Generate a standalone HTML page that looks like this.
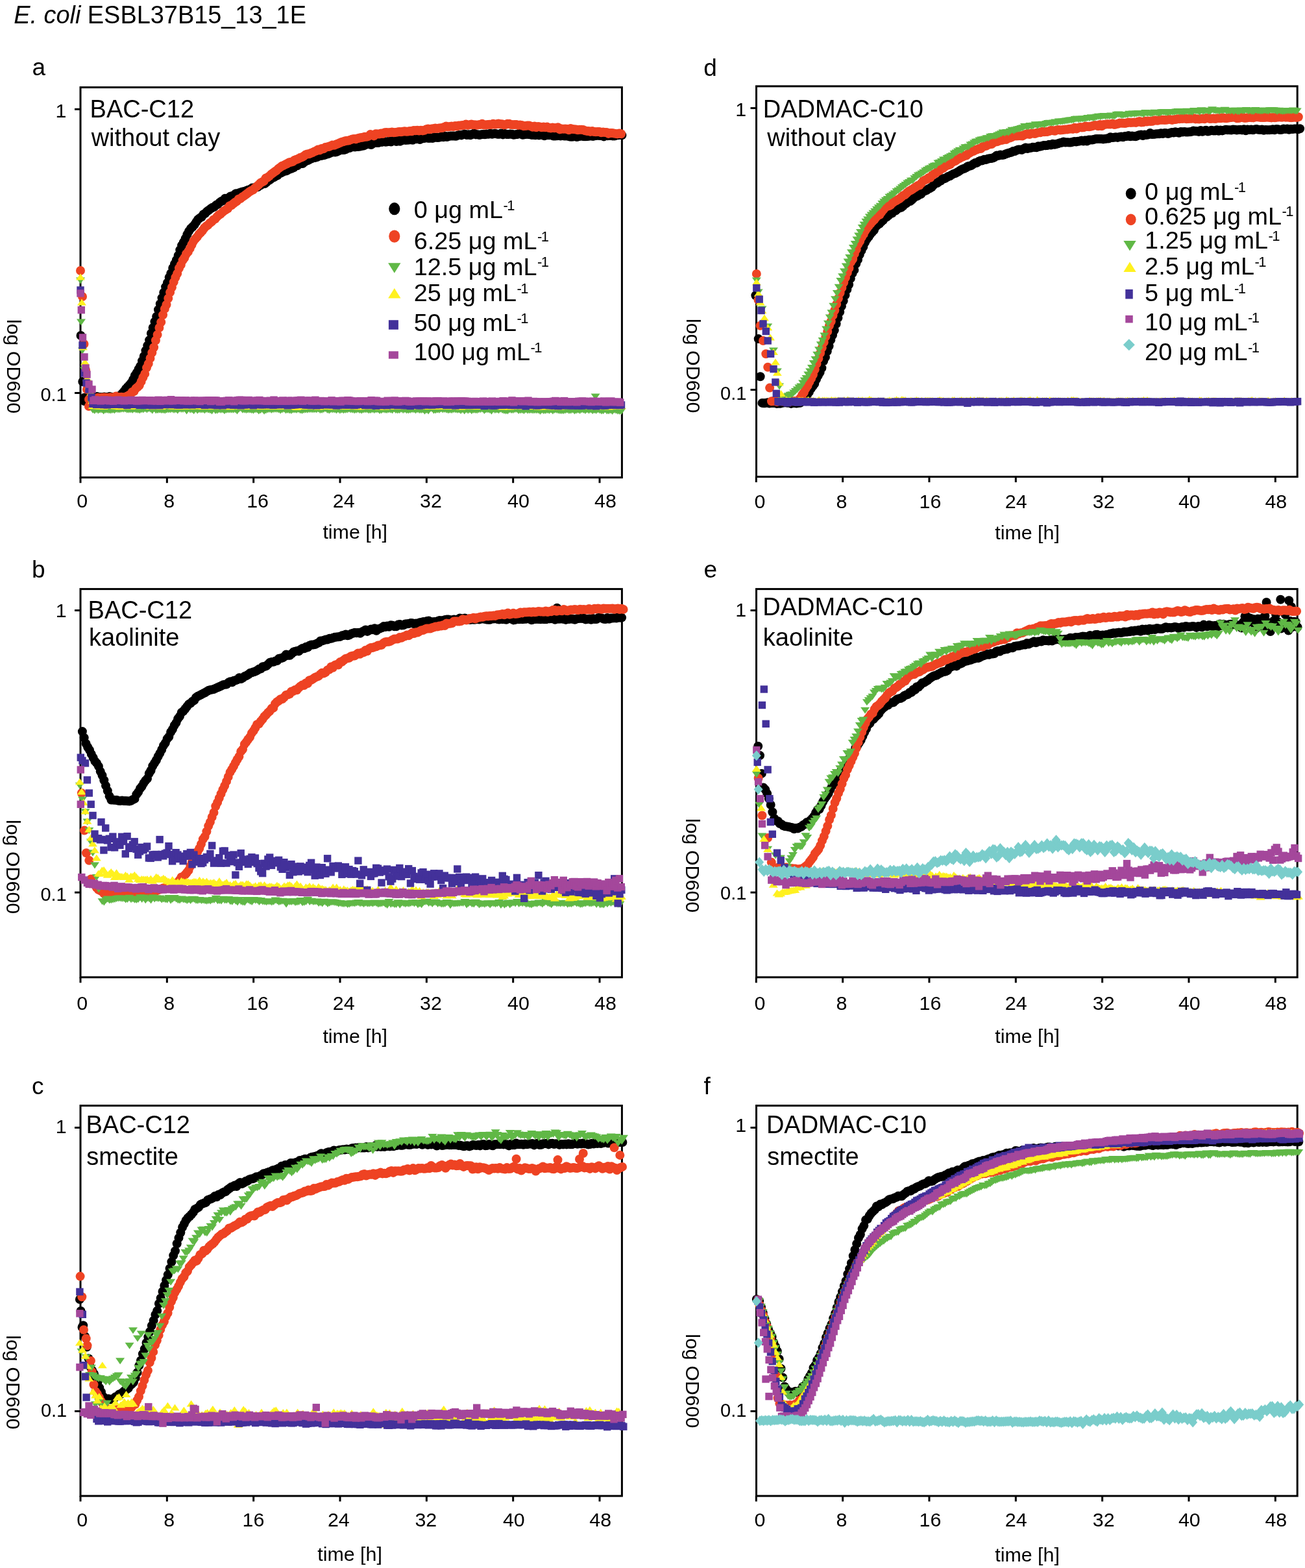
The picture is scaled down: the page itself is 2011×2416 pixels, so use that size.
<!DOCTYPE html><html><head><meta charset="utf-8"><style>html,body{margin:0;padding:0;background:#fff}svg{display:block}text{font-family:"Liberation Sans", Arial, sans-serif;fill:#000}</style></head><body>
<svg width="2011" height="2416" viewBox="0 0 2011 2416" xmlns="http://www.w3.org/2000/svg">
<text x="21.13" y="36" font-size="37.9"><tspan font-style="italic">E. coli</tspan> ESBL37B15_13_1E</text>
<defs><marker id="mok" markerUnits="userSpaceOnUse" markerWidth="20" markerHeight="20" refX="0" refY="0" overflow="visible" viewBox="-10 -10 20 20"><circle cx="0" cy="0" r="7" fill="#000000"/></marker><marker id="mor" markerUnits="userSpaceOnUse" markerWidth="20" markerHeight="20" refX="0" refY="0" overflow="visible" viewBox="-10 -10 20 20"><circle cx="0" cy="0" r="7" fill="#ee4323"/></marker><marker id="mdg" markerUnits="userSpaceOnUse" markerWidth="20" markerHeight="20" refX="0" refY="0" overflow="visible" viewBox="-10 -10 20 20"><path d="M-7,-4.6L7,-4.6L0,5.4Z" fill="#60b846"/></marker><marker id="muy" markerUnits="userSpaceOnUse" markerWidth="20" markerHeight="20" refX="0" refY="0" overflow="visible" viewBox="-10 -10 20 20"><path d="M-7,4.6L7,4.6L0,-5.4Z" fill="#fff11f"/></marker><marker id="msb" markerUnits="userSpaceOnUse" markerWidth="20" markerHeight="20" refX="0" refY="0" overflow="visible" viewBox="-10 -10 20 20"><rect x="-5.7" y="-5.7" width="11.4" height="11.4" fill="#43319a"/></marker><marker id="msm" markerUnits="userSpaceOnUse" markerWidth="20" markerHeight="20" refX="0" refY="0" overflow="visible" viewBox="-10 -10 20 20"><rect x="-5.7" y="-5.7" width="11.4" height="11.4" fill="#a4479b"/></marker><marker id="mDc" markerUnits="userSpaceOnUse" markerWidth="20" markerHeight="20" refX="0" refY="0" overflow="visible" viewBox="-10 -10 20 20"><path d="M0,-8L7,0L0,8L-7,0Z" fill="#7acdcb"/></marker></defs>
<text x="49.43" y="116.4" font-size="37">a</text>
<rect x="124" y="134.6" width="834.4" height="601.1" fill="none" stroke="#000" stroke-width="3"/>
<g><path d="M124.5 517.0 127.3 588.0 130.0 618.0 130.0 612.8 132.8 612.9 135.6 612.0 138.3 611.5 141.1 611.3 143.9 612.0 146.7 611.4 149.5 611.1 152.2 612.1 155.0 612.1 157.8 612.3 160.6 611.5 163.4 612.0 166.1 612.0 168.9 611.1 171.7 612.3 174.5 612.2 177.3 613.4 180.0 611.4 182.8 610.2 185.6 610.0 188.4 606.1 191.2 603.2 193.9 599.1 196.7 596.1 199.5 593.3 202.3 589.8 205.1 584.6 207.8 578.7 210.6 574.4 213.4 568.9 216.2 564.1 219.0 556.3 221.7 548.9 224.5 540.2 227.3 532.4 230.1 524.1 232.9 513.8 235.6 504.9 238.4 495.6 241.2 487.8 244.0 477.2 246.8 468.3 249.5 459.1 252.3 450.7 255.1 442.1 257.9 435.8 260.7 427.5 263.4 421.2 266.2 413.0 269.0 406.6 271.8 400.7 274.6 393.8 277.3 385.3 280.1 378.3 282.9 373.1 285.7 367.5 288.5 361.2 291.2 356.1 294.0 352.0 296.8 349.5 299.6 346.4 302.4 342.1 305.1 338.1 307.9 335.9 310.7 334.3 313.5 330.3 316.3 328.8 319.0 325.8 321.8 323.8 324.6 321.6 327.4 319.8 330.2 318.7 332.9 316.1 335.7 314.7 338.5 311.9 341.3 310.0 344.1 309.1 346.8 305.8 349.6 306.0 352.4 304.8 355.2 302.5 358.0 302.2 360.7 300.5 363.5 298.2 366.3 298.5 369.1 296.9 371.9 296.1 374.6 295.2 377.4 295.1 380.2 293.5 383.0 292.5 385.8 291.8 388.5 289.6 391.3 290.5 394.1 288.2 396.9 288.2 399.7 286.3 402.4 284.8 405.2 283.4 408.0 283.1 410.8 280.7 413.6 278.2 416.3 276.7 419.1 274.4 421.9 273.4 424.7 271.4 427.5 270.4 430.2 267.5 433.0 266.6 435.8 264.9 438.6 263.7 441.4 263.2 444.1 261.6 446.9 260.5 449.7 259.6 452.5 258.2 455.3 255.4 458.0 255.2 460.8 252.5 463.6 252.2 466.4 252.1 469.2 249.5 471.9 248.0 474.7 247.0 477.5 245.6 480.3 244.3 483.1 242.5 485.8 242.9 488.6 242.0 491.4 240.6 494.2 240.1 497.0 239.6 499.7 239.0 502.5 237.9 505.3 237.3 508.1 236.0 510.9 234.7 513.6 234.3 516.4 234.5 519.2 233.7 522.0 232.4 524.8 231.2 527.5 231.0 530.3 231.0 533.1 230.1 535.9 228.2 538.7 228.0 541.4 226.6 544.2 226.3 547.0 226.5 549.8 225.9 552.6 225.9 555.3 225.5 558.1 224.7 560.9 224.4 563.7 222.7 566.5 221.8 569.2 222.3 572.0 223.0 574.8 221.1 577.6 219.6 580.4 219.9 583.1 220.0 585.9 218.0 588.7 218.9 591.5 217.8 594.3 218.8 597.0 218.3 599.8 217.8 602.6 218.6 605.4 217.0 608.2 216.6 610.9 218.0 613.7 216.1 616.5 217.8 619.3 216.2 622.1 215.4 624.8 215.9 627.6 215.7 630.4 215.6 633.2 215.2 636.0 215.7 638.7 213.4 641.5 214.2 644.3 214.1 647.1 215.1 649.9 212.5 652.6 213.3 655.4 212.5 658.2 212.5 661.0 213.0 663.8 212.6 666.5 213.0 669.3 211.5 672.1 211.7 674.9 212.0 677.7 211.6 680.4 210.6 683.2 211.2 686.0 209.7 688.8 211.1 691.6 209.9 694.3 209.5 697.1 209.5 699.9 209.6 702.7 209.8 705.5 208.5 708.2 208.1 711.0 208.4 713.8 207.3 716.6 206.7 719.4 208.1 722.1 207.3 724.9 208.2 727.7 206.8 730.5 205.6 733.3 207.4 736.0 207.2 738.8 208.0 741.6 207.3 744.4 207.1 747.2 207.2 749.9 206.5 752.7 206.7 755.5 205.8 758.3 206.8 761.1 205.9 763.8 206.1 766.6 206.7 769.4 206.7 772.2 205.5 775.0 207.4 777.7 205.9 780.5 206.9 783.3 207.0 786.1 206.6 788.9 206.7 791.6 207.8 794.4 207.3 797.2 207.1 800.0 205.8 802.8 206.6 805.5 207.8 808.3 207.3 811.1 206.7 813.9 206.9 816.7 207.2 819.4 207.9 822.2 207.8 825.0 208.3 827.8 207.2 830.6 208.4 833.3 207.6 836.1 207.8 838.9 209.2 841.7 208.3 844.5 208.2 847.2 208.3 850.0 208.3 852.8 209.6 855.6 209.5 858.4 209.2 861.1 209.0 863.9 209.6 866.7 209.1 869.5 209.5 872.3 209.6 875.0 209.5 877.8 210.5 880.6 210.7 883.4 210.5 886.2 208.7 888.9 211.0 891.7 210.3 894.5 209.5 897.3 209.7 900.1 210.3 902.8 210.3 905.6 210.1 908.4 209.6 911.2 209.5 914.0 209.9 916.7 209.3 919.5 208.7 922.3 208.8 925.1 209.1 927.9 209.3 930.6 210.4 933.4 208.1 936.2 209.2 939.0 208.8 941.8 209.0 944.5 209.6 947.3 209.4 950.1 208.5 952.9 208.2 955.7 207.7 958.4 208.4" fill="none" stroke="none" marker-start="url(#mok)" marker-mid="url(#mok)" marker-end="url(#mok)"/><path d="M124.0 417.0 127.0 457.0 129.5 530.0 132.0 570.0 134.0 600.0 136.9 626.0 137.0 615.4 139.8 613.5 142.6 614.0 145.3 613.8 148.1 614.1 150.9 612.7 153.7 613.1 156.5 612.8 159.2 612.5 162.0 612.6 164.8 612.7 167.6 612.7 170.4 612.2 173.1 612.9 175.9 612.3 178.7 610.6 181.5 613.1 184.3 612.0 187.0 611.7 189.8 612.2 192.6 611.9 195.4 610.8 198.2 609.2 200.9 607.8 203.7 604.0 206.5 603.0 209.3 598.6 212.1 596.4 214.8 593.8 217.6 587.9 220.4 581.5 223.2 575.9 226.0 566.6 228.7 560.4 231.5 552.0 234.3 543.4 237.1 535.3 239.9 524.5 242.6 515.8 245.4 505.0 248.2 496.4 251.0 485.3 253.8 475.9 256.5 469.5 259.3 459.7 262.1 450.4 264.9 442.8 267.7 434.6 270.4 427.5 273.2 421.5 276.0 413.3 278.8 408.1 281.6 401.1 284.3 397.2 287.1 391.3 289.9 388.0 292.7 382.9 295.5 377.3 298.2 371.8 301.0 368.0 303.8 365.0 306.6 361.0 309.4 358.3 312.1 355.2 314.9 351.3 317.7 348.6 320.5 346.8 323.3 343.7 326.0 341.9 328.8 338.7 331.6 337.3 334.4 334.0 337.2 331.3 339.9 329.8 342.7 327.1 345.5 324.7 348.3 323.0 351.1 321.3 353.8 317.3 356.6 316.3 359.4 314.0 362.2 311.8 365.0 310.1 367.7 306.8 370.5 306.1 373.3 303.6 376.1 301.9 378.9 299.7 381.6 297.7 384.4 295.5 387.2 293.8 390.0 292.6 392.8 289.8 395.5 287.4 398.3 285.0 401.1 282.1 403.9 280.5 406.7 279.0 409.4 274.6 412.2 273.6 415.0 271.4 417.8 268.6 420.6 266.6 423.3 264.6 426.1 262.8 428.9 259.9 431.7 257.9 434.5 255.8 437.2 254.9 440.0 253.2 442.8 252.0 445.6 250.3 448.4 249.8 451.1 249.0 453.9 246.8 456.7 245.8 459.5 244.7 462.3 243.1 465.0 242.4 467.8 240.8 470.6 238.6 473.4 237.5 476.2 237.3 478.9 236.0 481.7 235.0 484.5 233.4 487.3 232.5 490.1 230.5 492.8 231.4 495.6 229.0 498.4 229.3 501.2 227.1 504.0 226.4 506.7 226.0 509.5 224.7 512.3 223.6 515.1 223.7 517.9 222.6 520.6 221.5 523.4 220.2 526.2 218.9 529.0 218.2 531.8 217.3 534.5 216.7 537.3 216.5 540.1 215.4 542.9 214.4 545.7 213.9 548.4 214.4 551.2 213.2 554.0 212.6 556.8 212.0 559.6 211.6 562.3 210.7 565.1 210.7 567.9 209.9 570.7 207.1 573.5 208.1 576.2 209.4 579.0 206.2 581.8 206.5 584.6 206.5 587.4 205.4 590.1 206.0 592.9 204.2 595.7 204.0 598.5 204.5 601.3 203.9 604.0 203.5 606.8 204.3 609.6 203.9 612.4 203.5 615.2 203.1 617.9 203.3 620.7 202.8 623.5 202.3 626.3 202.8 629.1 202.5 631.8 202.1 634.6 202.3 637.4 201.0 640.2 201.3 643.0 200.7 645.7 201.5 648.5 200.7 651.3 201.4 654.1 200.8 656.9 199.3 659.6 198.6 662.4 199.2 665.2 198.4 668.0 198.2 670.8 197.4 673.5 198.1 676.3 197.5 679.1 197.3 681.9 196.9 684.7 195.8 687.4 194.6 690.2 195.5 693.0 194.9 695.8 194.5 698.6 195.1 701.3 194.1 704.1 194.6 706.9 193.5 709.7 193.4 712.5 192.9 715.2 192.9 718.0 191.5 720.8 192.9 723.6 192.2 726.4 191.5 729.1 192.4 731.9 192.2 734.7 192.7 737.5 192.3 740.3 192.0 743.0 190.7 745.8 192.6 748.6 192.5 751.4 192.0 754.2 191.7 756.9 192.1 759.7 190.8 762.5 191.7 765.3 191.2 768.1 190.5 770.8 191.2 773.6 191.3 776.4 192.4 779.2 192.1 782.0 190.8 784.7 190.8 787.5 192.1 790.3 192.3 793.1 192.0 795.9 191.9 798.6 192.9 801.4 192.5 804.2 193.0 807.0 194.2 809.8 194.0 812.5 193.6 815.3 193.6 818.1 194.4 820.9 195.7 823.7 194.6 826.4 196.2 829.2 194.9 832.0 195.4 834.8 196.2 837.6 195.5 840.3 196.2 843.1 195.6 845.9 197.0 848.7 197.5 851.5 196.6 854.2 197.3 857.0 197.1 859.8 196.3 862.6 199.4 865.4 198.4 868.1 198.7 870.9 198.6 873.7 198.7 876.5 200.2 879.3 197.9 882.0 199.0 884.8 199.2 887.6 199.5 890.4 200.3 893.2 199.8 895.9 199.7 898.7 200.1 901.5 201.3 904.3 201.9 907.1 202.1 909.8 202.9 912.6 201.9 915.4 203.1 918.2 203.2 921.0 203.0 923.7 202.9 926.5 204.2 929.3 203.6 932.1 204.1 934.9 204.0 937.6 205.9 940.4 205.1 943.2 205.1 946.0 205.6 948.8 205.9 951.5 206.4 954.3 205.6 957.1 206.2" fill="none" stroke="none" marker-start="url(#mor)" marker-mid="url(#mor)" marker-end="url(#mor)"/><path d="M124.0 432.0 125.0 496.0 127.0 540.0 130.0 570.0 134.0 590.0 138.0 605.0 141.0 620.0 143.0 631.6 145.8 632.5 148.6 630.8 151.3 632.3 154.1 631.3 156.9 631.3 159.7 633.0 162.5 631.6 165.2 631.5 168.0 632.1 170.8 632.4 173.6 631.5 176.4 632.0 179.1 630.7 181.9 631.2 184.7 631.1 187.5 630.4 190.3 630.3 193.0 630.2 195.8 631.3 198.6 631.4 201.4 631.2 204.2 631.6 206.9 630.4 209.7 631.4 212.5 631.7 215.3 632.1 218.1 630.8 220.8 631.2 223.6 629.9 226.4 631.1 229.2 629.7 232.0 630.4 234.7 632.4 237.5 629.7 240.3 632.1 243.1 631.8 245.9 631.3 248.6 631.9 251.4 631.9 254.2 632.3 257.0 631.3 259.8 631.0 262.5 631.0 265.3 630.7 268.1 631.5 270.9 630.9 273.7 632.4 276.4 630.0 279.2 630.6 282.0 630.7 284.8 629.8 287.6 633.0 290.3 629.6 293.1 631.3 295.9 631.1 298.7 632.8 301.5 629.9 304.2 632.4 307.0 630.9 309.8 631.4 312.6 631.0 315.4 632.0 318.1 630.6 320.9 631.4 323.7 631.8 326.5 633.0 329.3 629.6 332.0 632.7 334.8 632.3 337.6 631.1 340.4 631.7 343.2 631.1 345.9 632.8 348.7 631.7 351.5 631.3 354.3 631.3 357.1 631.3 359.8 631.4 362.6 630.8 365.4 633.1 368.2 630.0 371.0 628.6 373.7 631.4 376.5 631.4 379.3 631.8 382.1 631.3 384.9 631.4 387.6 631.8 390.4 632.3 393.2 631.1 396.0 631.2 398.8 633.1 401.5 631.9 404.3 630.7 407.1 633.4 409.9 632.1 412.7 631.0 415.4 630.6 418.2 631.7 421.0 630.8 423.8 630.7 426.6 630.5 429.3 631.1 432.1 632.4 434.9 631.2 437.7 630.3 440.5 632.0 443.2 631.6 446.0 632.2 448.8 632.5 451.6 631.4 454.4 631.4 457.1 631.5 459.9 630.6 462.7 632.0 465.5 632.6 468.3 631.6 471.0 631.3 473.8 631.3 476.6 630.9 479.4 630.9 482.2 631.2 484.9 630.8 487.7 631.2 490.5 630.2 493.3 631.8 496.1 631.5 498.8 630.6 501.6 629.7 504.4 631.5 507.2 632.4 510.0 630.9 512.7 631.1 515.5 631.0 518.3 632.0 521.1 630.8 523.9 632.3 526.6 631.3 529.4 632.2 532.2 631.5 535.0 631.3 537.8 630.3 540.5 631.0 543.3 631.3 546.1 632.0 548.9 631.7 551.7 630.9 554.4 631.8 557.2 632.3 560.0 631.4 562.8 631.1 565.6 631.2 568.3 632.1 571.1 631.9 573.9 630.8 576.7 631.8 579.5 631.1 582.2 630.9 585.0 632.5 587.8 632.2 590.6 630.9 593.4 631.6 596.1 631.9 598.9 631.0 601.7 631.4 604.5 632.0 607.3 630.1 610.0 631.8 612.8 632.1 615.6 631.9 618.4 630.4 621.2 631.8 623.9 630.8 626.7 632.0 629.5 632.0 632.3 631.7 635.1 630.9 637.8 631.0 640.6 632.2 643.4 630.8 646.2 631.9 649.0 631.9 651.7 631.3 654.5 633.4 657.3 631.6 660.1 633.2 662.9 629.9 665.6 629.7 668.4 632.3 671.2 632.0 674.0 631.3 676.8 631.5 679.5 630.0 682.3 631.0 685.1 630.7 687.9 631.3 690.7 632.2 693.4 631.5 696.2 631.8 699.0 630.9 701.8 631.2 704.6 631.6 707.3 631.3 710.1 632.6 712.9 630.8 715.7 633.1 718.5 630.8 721.2 632.4 724.0 631.0 726.8 632.9 729.6 631.7 732.4 631.9 735.1 632.2 737.9 631.1 740.7 630.8 743.5 630.0 746.3 632.7 749.0 631.1 751.8 631.2 754.6 631.7 757.4 633.3 760.2 630.4 762.9 631.9 765.7 631.4 768.5 632.2 771.3 630.3 774.1 631.5 776.8 632.5 779.6 633.1 782.4 633.1 785.2 631.1 788.0 631.9 790.7 631.8 793.5 630.8 796.3 630.7 799.1 632.5 801.9 632.1 804.6 631.8 807.4 632.9 810.2 631.1 813.0 632.4 815.8 632.0 818.5 631.9 821.3 632.4 824.1 632.1 826.9 632.2 829.7 632.2 832.4 633.6 835.2 631.8 838.0 632.8 840.8 632.5 843.6 631.8 846.3 632.7 849.1 631.4 851.9 633.0 854.7 631.5 857.5 631.7 860.2 632.4 863.0 632.8 865.8 632.9 868.6 632.9 871.4 632.0 874.1 631.4 876.9 632.6 879.7 632.4 882.5 631.4 885.3 633.0 888.0 632.4 890.8 631.5 893.6 632.6 896.4 631.2 899.2 631.6 901.9 632.6 904.7 631.0 907.5 632.3 910.3 631.2 913.1 632.9 915.8 631.8 918.6 632.5 921.4 631.2 924.2 632.1 927.0 633.1 929.7 632.8 932.5 630.9 935.3 633.2 938.1 633.1 940.9 632.1 943.6 633.6 946.4 631.6 949.2 632.4 952.0 633.4 954.8 633.5 957.5 633.5 917.6 611.0" fill="none" stroke="none" marker-start="url(#mdg)" marker-mid="url(#mdg)" marker-end="url(#mdg)"/><path d="M124.0 427.0 126.0 466.0 128.0 535.0 131.0 558.0 134.0 583.0 137.0 595.0 140.0 605.0 142.0 618.0 143.0 625.5 145.8 625.7 148.6 625.3 151.3 625.7 154.1 626.0 156.9 625.7 159.7 626.3 162.5 625.1 165.2 625.5 168.0 625.2 170.8 625.1 173.6 625.4 176.4 625.6 179.1 625.7 181.9 625.8 184.7 626.6 187.5 626.0 190.3 624.7 193.0 625.6 195.8 625.2 198.6 625.3 201.4 626.2 204.2 625.4 206.9 624.6 209.7 625.7 212.5 625.4 215.3 625.0 218.1 625.1 220.8 625.2 223.6 625.5 226.4 625.3 229.2 625.6 232.0 626.5 234.7 625.2 237.5 625.2 240.3 625.4 243.1 626.1 245.9 625.2 248.6 626.3 251.4 624.9 254.2 625.1 257.0 625.5 259.8 625.1 262.5 625.3 265.3 625.8 268.1 625.9 270.9 625.6 273.7 625.4 276.4 626.3 279.2 625.8 282.0 625.5 284.8 626.2 287.6 625.1 290.3 625.7 293.1 625.9 295.9 625.6 298.7 625.3 301.5 625.8 304.2 625.3 307.0 625.3 309.8 625.1 312.6 626.3 315.4 625.3 318.1 626.2 320.9 625.8 323.7 625.5 326.5 625.9 329.3 625.8 332.0 625.7 334.8 624.9 337.6 625.7 340.4 626.1 343.2 625.9 345.9 626.1 348.7 626.4 351.5 625.8 354.3 626.6 357.1 624.9 359.8 625.5 362.6 624.4 365.4 626.0 368.2 625.7 371.0 626.5 373.7 625.5 376.5 624.6 379.3 626.3 382.1 625.0 384.9 625.0 387.6 625.6 390.4 626.0 393.2 625.4 396.0 625.7 398.8 624.7 401.5 626.5 404.3 625.6 407.1 625.7 409.9 626.0 412.7 625.8 415.4 625.8 418.2 625.2 421.0 625.6 423.8 625.9 426.6 626.2 429.3 625.6 432.1 625.7 434.9 625.8 437.7 626.0 440.5 625.8 443.2 625.6 446.0 625.4 448.8 626.2 451.6 625.8 454.4 625.7 457.1 627.4 459.9 626.1 462.7 626.1 465.5 625.8 468.3 625.2 471.0 626.3 473.8 625.7 476.6 625.7 479.4 626.2 482.2 626.2 484.9 625.8 487.7 625.7 490.5 626.8 493.3 626.0 496.1 625.2 498.8 626.1 501.6 625.8 504.4 625.7 507.2 626.1 510.0 625.8 512.7 626.7 515.5 625.8 518.3 625.9 521.1 626.3 523.9 625.5 526.6 626.2 529.4 625.7 532.2 626.3 535.0 625.3 537.8 626.0 540.5 624.9 543.3 625.5 546.1 625.8 548.9 626.0 551.7 626.7 554.4 626.7 557.2 625.1 560.0 625.4 562.8 626.4 565.6 626.0 568.3 625.1 571.1 626.0 573.9 625.2 576.7 625.3 579.5 625.1 582.2 625.6 585.0 626.9 587.8 626.0 590.6 625.7 593.4 627.0 596.1 625.5 598.9 625.7 601.7 625.6 604.5 626.0 607.3 625.6 610.0 626.5 612.8 625.6 615.6 626.1 618.4 625.9 621.2 625.4 623.9 625.3 626.7 625.8 629.5 624.7 632.3 625.8 635.1 625.8 637.8 625.9 640.6 625.8 643.4 626.0 646.2 625.6 649.0 626.1 651.7 625.0 654.5 626.3 657.3 625.4 660.1 626.1 662.9 625.6 665.6 625.6 668.4 625.4 671.2 626.5 674.0 625.3 676.8 625.2 679.5 625.9 682.3 626.0 685.1 625.9 687.9 625.4 690.7 625.5 693.4 626.3 696.2 625.3 699.0 626.1 701.8 626.2 704.6 625.9 707.3 625.2 710.1 626.8 712.9 625.9 715.7 626.0 718.5 625.7 721.2 625.4 724.0 625.7 726.8 626.0 729.6 625.4 732.4 625.9 735.1 626.4 737.9 626.1 740.7 625.8 743.5 626.4 746.3 626.3 749.0 626.3 751.8 625.5 754.6 625.0 757.4 626.3 760.2 625.9 762.9 625.7 765.7 626.1 768.5 625.7 771.3 625.6 774.1 626.8 776.8 625.1 779.6 626.3 782.4 626.4 785.2 626.8 788.0 626.0 790.7 626.2 793.5 625.4 796.3 625.9 799.1 624.9 801.9 625.6 804.6 625.9 807.4 625.9 810.2 625.7 813.0 626.5 815.8 625.1 818.5 626.0 821.3 625.7 824.1 625.9 826.9 625.9 829.7 626.9 832.4 625.4 835.2 626.6 838.0 626.6 840.8 625.9 843.6 625.6 846.3 625.3 849.1 625.5 851.9 627.0 854.7 624.9 857.5 626.2 860.2 625.6 863.0 626.9 865.8 626.1 868.6 625.3 871.4 625.7 874.1 626.0 876.9 626.0 879.7 625.5 882.5 625.8 885.3 625.7 888.0 626.2 890.8 626.1 893.6 626.1 896.4 625.7 899.2 626.4 901.9 625.7 904.7 625.6 907.5 625.8 910.3 625.8 913.1 625.8 915.8 625.0 918.6 626.7 921.4 626.3 924.2 626.6 927.0 625.8 929.7 626.4 932.5 626.1 935.3 626.0 938.1 626.9 940.9 625.7 943.6 626.3 946.4 625.1 949.2 626.3 952.0 625.9 954.8 625.5 957.5 625.7" fill="none" stroke="none" marker-start="url(#muy)" marker-mid="url(#muy)" marker-end="url(#muy)"/><path d="M124.0 447.0 127.0 532.0 130.0 575.0 133.0 590.0 137.0 600.0 141.0 612.0 143.0 622.3 145.8 622.3 148.6 623.4 151.3 621.6 154.1 622.9 156.9 621.7 159.7 623.7 162.5 623.2 165.2 623.9 168.0 622.7 170.8 623.3 173.6 622.9 176.4 622.6 179.1 623.2 181.9 622.3 184.7 622.9 187.5 623.5 190.3 623.1 193.0 622.8 195.8 624.4 198.6 623.1 201.4 622.8 204.2 623.2 206.9 622.8 209.7 622.9 212.5 622.9 215.3 624.3 218.1 623.2 220.8 623.2 223.6 623.6 226.4 624.4 229.2 623.0 232.0 622.8 234.7 624.7 237.5 622.3 240.3 623.0 243.1 623.6 245.9 624.6 248.6 622.6 251.4 621.7 254.2 623.6 257.0 622.9 259.8 623.0 262.5 623.5 265.3 623.4 268.1 623.4 270.9 623.0 273.7 624.0 276.4 624.1 279.2 623.3 282.0 623.0 284.8 623.7 287.6 623.6 290.3 622.6 293.1 623.0 295.9 623.9 298.7 623.2 301.5 623.1 304.2 623.4 307.0 623.3 309.8 623.3 312.6 622.2 315.4 624.4 318.1 623.4 320.9 622.8 323.7 623.9 326.5 623.5 329.3 623.4 332.0 624.0 334.8 624.7 337.6 623.7 340.4 624.3 343.2 624.7 345.9 622.8 348.7 623.1 351.5 623.8 354.3 622.4 357.1 623.2 359.8 624.2 362.6 624.0 365.4 623.8 368.2 622.3 371.0 624.8 373.7 623.8 376.5 623.9 379.3 623.7 382.1 622.4 384.9 622.6 387.6 622.7 390.4 624.6 393.2 623.0 396.0 623.3 398.8 623.3 401.5 623.8 404.3 623.8 407.1 623.6 409.9 622.7 412.7 621.6 415.4 623.6 418.2 623.7 421.0 624.3 423.8 623.5 426.6 623.2 429.3 623.8 432.1 622.6 434.9 622.9 437.7 622.9 440.5 623.7 443.2 624.8 446.0 624.0 448.8 624.2 451.6 623.7 454.4 623.7 457.1 623.3 459.9 623.4 462.7 622.1 465.5 622.9 468.3 622.8 471.0 624.1 473.8 624.0 476.6 624.3 479.4 624.6 482.2 623.4 484.9 624.3 487.7 624.8 490.5 623.6 493.3 624.3 496.1 623.6 498.8 622.7 501.6 623.7 504.4 623.2 507.2 623.7 510.0 623.4 512.7 623.9 515.5 622.4 518.3 624.9 521.1 624.5 523.9 623.5 526.6 623.2 529.4 623.7 532.2 624.1 535.0 624.0 537.8 624.0 540.5 622.5 543.3 623.1 546.1 624.5 548.9 623.9 551.7 622.8 554.4 623.2 557.2 622.9 560.0 623.2 562.8 624.5 565.6 623.6 568.3 624.5 571.1 623.9 573.9 622.9 576.7 623.4 579.5 625.2 582.2 623.3 585.0 623.2 587.8 624.6 590.6 623.9 593.4 623.8 596.1 624.7 598.9 622.8 601.7 624.1 604.5 623.2 607.3 623.0 610.0 623.4 612.8 624.6 615.6 623.8 618.4 622.8 621.2 623.2 623.9 624.8 626.7 624.5 629.5 623.2 632.3 625.4 635.1 623.7 637.8 623.2 640.6 623.8 643.4 624.5 646.2 624.9 649.0 624.6 651.7 623.7 654.5 623.6 657.3 623.1 660.1 623.9 662.9 623.6 665.6 624.1 668.4 623.2 671.2 623.7 674.0 623.4 676.8 623.2 679.5 623.3 682.3 623.4 685.1 623.3 687.9 624.4 690.7 624.1 693.4 623.2 696.2 624.3 699.0 624.2 701.8 624.9 704.6 623.9 707.3 623.9 710.1 623.6 712.9 624.1 715.7 624.4 718.5 624.2 721.2 623.9 724.0 624.4 726.8 624.1 729.6 624.2 732.4 623.5 735.1 624.2 737.9 623.5 740.7 623.6 743.5 624.2 746.3 625.4 749.0 624.7 751.8 624.1 754.6 624.0 757.4 624.7 760.2 625.0 762.9 624.9 765.7 624.0 768.5 624.3 771.3 624.0 774.1 624.0 776.8 623.6 779.6 624.0 782.4 622.9 785.2 623.4 788.0 624.4 790.7 623.6 793.5 624.5 796.3 623.4 799.1 624.0 801.9 624.5 804.6 623.6 807.4 623.8 810.2 625.7 813.0 623.8 815.8 623.8 818.5 623.9 821.3 624.3 824.1 624.2 826.9 624.9 829.7 624.7 832.4 624.0 835.2 624.1 838.0 623.4 840.8 623.4 843.6 623.8 846.3 624.7 849.1 624.4 851.9 624.8 854.7 624.9 857.5 624.2 860.2 625.6 863.0 624.0 865.8 623.9 868.6 624.1 871.4 625.0 874.1 624.3 876.9 623.9 879.7 624.6 882.5 625.1 885.3 624.3 888.0 624.2 890.8 625.0 893.6 625.0 896.4 625.0 899.2 623.9 901.9 624.6 904.7 624.6 907.5 623.3 910.3 625.1 913.1 624.5 915.8 624.2 918.6 625.8 921.4 624.5 924.2 624.0 927.0 624.4 929.7 624.8 932.5 625.0 935.3 624.4 938.1 623.9 940.9 624.0 943.6 624.0 946.4 623.8 949.2 624.5 952.0 624.2 954.8 624.5 957.5 624.0" fill="none" stroke="none" marker-start="url(#msb)" marker-mid="url(#msb)" marker-end="url(#msb)"/><path d="M124.0 452.0 125.3 477.7 127.5 520.0 130.0 550.0 132.0 567.0 134.0 577.0 137.0 592.0 142.0 600.0 144.0 617.3 146.8 615.9 149.6 616.5 152.3 617.1 155.1 617.9 157.9 617.0 160.7 616.0 163.5 617.2 166.2 616.3 169.0 617.8 171.8 616.9 174.6 618.1 177.4 617.0 180.1 616.5 182.9 616.2 185.7 616.9 188.5 617.4 191.3 617.8 194.0 617.3 196.8 616.7 199.6 617.4 202.4 616.3 205.2 617.4 207.9 616.7 210.7 618.0 213.5 617.7 216.3 617.4 219.1 616.5 221.8 617.5 224.6 617.4 227.4 616.8 230.2 616.8 233.0 617.9 235.7 616.9 238.5 617.5 241.3 618.0 244.1 616.3 246.9 618.3 249.6 617.8 252.4 616.8 255.2 616.6 258.0 616.5 260.8 617.8 263.5 615.7 266.3 617.8 269.1 617.3 271.9 616.8 274.7 617.0 277.4 617.0 280.2 617.1 283.0 617.8 285.8 616.8 288.6 617.9 291.3 617.9 294.1 617.1 296.9 617.7 299.7 617.0 302.5 617.3 305.2 617.6 308.0 618.5 310.8 617.3 313.6 617.2 316.4 617.4 319.1 617.2 321.9 616.7 324.7 618.5 327.5 617.0 330.3 617.0 333.0 616.9 335.8 617.8 338.6 619.2 341.4 619.2 344.2 618.0 346.9 617.6 349.7 617.4 352.5 616.8 355.3 617.9 358.1 617.4 360.8 618.7 363.6 617.3 366.4 616.8 369.2 616.3 372.0 616.4 374.7 617.8 377.5 617.7 380.3 616.8 383.1 616.5 385.9 617.6 388.6 617.3 391.4 617.6 394.2 617.5 397.0 617.0 399.8 616.5 402.5 617.6 405.3 617.6 408.1 617.6 410.9 618.1 413.7 618.1 416.4 617.2 419.2 617.9 422.0 616.2 424.8 618.0 427.6 617.5 430.3 618.2 433.1 618.2 435.9 617.0 438.7 617.5 441.5 618.3 444.2 617.3 447.0 617.6 449.8 617.2 452.6 618.0 455.4 617.8 458.1 617.1 460.9 616.8 463.7 616.3 466.5 618.2 469.3 617.4 472.0 617.2 474.8 617.3 477.6 617.1 480.4 618.1 483.2 618.0 485.9 616.3 488.7 617.7 491.5 617.7 494.3 617.5 497.1 617.8 499.8 618.7 502.6 617.9 505.4 618.4 508.2 618.3 511.0 616.8 513.7 618.8 516.5 617.9 519.3 617.6 522.1 618.3 524.9 619.1 527.6 617.3 530.4 617.4 533.2 618.0 536.0 616.7 538.8 617.1 541.5 617.9 544.3 618.3 547.1 618.2 549.9 618.4 552.7 618.5 555.4 617.6 558.2 617.7 561.0 617.7 563.8 617.7 566.6 618.6 569.3 618.4 572.1 616.7 574.9 618.2 577.7 617.3 580.5 617.3 583.2 618.7 586.0 618.8 588.8 618.7 591.6 618.4 594.4 619.1 597.1 617.3 599.9 618.5 602.7 617.6 605.5 617.6 608.3 617.0 611.0 619.0 613.8 619.1 616.6 618.6 619.4 617.7 622.2 618.2 624.9 617.4 627.7 617.9 630.5 619.0 633.3 619.1 636.1 618.5 638.8 618.6 641.6 618.0 644.4 618.3 647.2 618.0 650.0 618.4 652.7 617.8 655.5 618.8 658.3 618.0 661.1 618.3 663.9 618.1 666.6 619.1 669.4 618.7 672.2 617.7 675.0 617.6 677.8 618.6 680.5 618.3 683.3 618.1 686.1 618.4 688.9 619.3 691.7 618.2 694.4 619.1 697.2 618.0 700.0 618.1 702.8 618.5 705.6 618.2 708.3 618.0 711.1 617.7 713.9 618.1 716.7 618.1 719.5 618.3 722.2 619.0 725.0 618.7 727.8 619.1 730.6 618.5 733.4 618.6 736.1 618.8 738.9 618.8 741.7 619.0 744.5 618.1 747.3 618.7 750.0 618.5 752.8 619.2 755.6 619.0 758.4 618.1 761.2 618.7 763.9 618.9 766.7 618.5 769.5 619.2 772.3 618.6 775.1 617.7 777.8 618.7 780.6 619.0 783.4 618.0 786.2 619.0 789.0 616.9 791.7 619.8 794.5 617.7 797.3 618.3 800.1 618.4 802.9 617.7 805.6 618.8 808.4 618.0 811.2 617.8 814.0 617.2 816.8 619.0 819.5 619.3 822.3 618.5 825.1 618.8 827.9 619.6 830.7 618.9 833.4 619.4 836.2 619.3 839.0 619.1 841.8 619.0 844.6 619.4 847.3 618.8 850.1 618.8 852.9 618.3 855.7 617.5 858.5 618.2 861.2 618.5 864.0 619.4 866.8 618.5 869.6 617.6 872.4 619.2 875.1 619.5 877.9 619.0 880.7 619.0 883.5 619.0 886.3 618.8 889.0 619.7 891.8 618.3 894.6 618.4 897.4 618.0 900.2 618.5 902.9 618.4 905.7 618.5 908.5 619.0 911.3 619.5 914.1 618.1 916.8 619.0 919.6 618.5 922.4 618.5 925.2 618.7 928.0 619.2 930.7 618.0 933.5 619.9 936.3 618.9 939.1 618.5 941.9 618.0 944.6 619.6 947.4 619.4 950.2 619.5 953.0 619.1 955.8 620.1" fill="none" stroke="none" marker-start="url(#msm)" marker-mid="url(#msm)" marker-end="url(#msm)"/></g>
<line x1="115" x2="124" y1="168.3" y2="168.3" stroke="#000" stroke-width="3"/>
<line x1="115" x2="124" y1="605.5" y2="605.5" stroke="#000" stroke-width="3"/>
<line x1="124" x2="124" y1="735.7" y2="744.2" stroke="#000" stroke-width="3"/>
<text x="118.35" y="782.4" font-size="30.4">0</text>
<line x1="257.34" x2="257.34" y1="735.7" y2="744.2" stroke="#000" stroke-width="3"/>
<text x="252.25" y="782.4" font-size="30.4">8</text>
<line x1="390.67" x2="390.67" y1="735.7" y2="744.2" stroke="#000" stroke-width="3"/>
<text x="380.2" y="782.4" font-size="30.4">16</text>
<line x1="524.01" x2="524.01" y1="735.7" y2="744.2" stroke="#000" stroke-width="3"/>
<text x="512.77" y="782.4" font-size="30.4">24</text>
<line x1="657.34" x2="657.34" y1="735.7" y2="744.2" stroke="#000" stroke-width="3"/>
<text x="647.08" y="782.4" font-size="30.4">32</text>
<line x1="790.68" x2="790.68" y1="735.7" y2="744.2" stroke="#000" stroke-width="3"/>
<text x="782.04" y="782.4" font-size="30.4">40</text>
<line x1="924.02" x2="924.02" y1="735.7" y2="744.2" stroke="#000" stroke-width="3"/>
<text x="916" y="782.4" font-size="30.4">48</text>
<text x="85.58" y="181" font-size="30.4">1</text>
<text x="62.4" y="617.9" font-size="29">0.1</text>
<text x="497.42" y="829.6" font-size="30.4">time [h]</text>
<text transform="translate(10.6,564.6) rotate(90)" font-size="30.4" text-anchor="middle">log OD600</text>
<text x="138.58" y="181.2" font-size="38">BAC-C12</text>
<text x="140.66" y="225.3" font-size="38">without clay</text>
<text x="49.02" y="889.7" font-size="37">b</text>
<rect x="124" y="907.6" width="834.4" height="598.2" fill="none" stroke="#000" stroke-width="3"/>
<g><path d="M126.9 1127.1 129.7 1136.8 132.5 1145.7 135.2 1151.2 138.0 1155.7 140.8 1161.9 143.6 1167.5 146.4 1172.9 149.1 1175.9 151.9 1180.7 154.7 1188.6 157.5 1194.8 160.3 1202.2 163.0 1210.6 165.8 1218.5 168.6 1226.8 171.4 1232.6 174.2 1232.5 176.9 1232.8 179.7 1232.7 182.5 1233.8 185.3 1233.9 188.1 1233.6 190.8 1233.9 193.6 1234.1 196.4 1234.3 199.2 1234.5 202.0 1233.7 204.7 1232.0 207.5 1230.9 210.3 1224.1 213.1 1220.4 215.9 1215.0 218.6 1211.7 221.4 1206.7 224.2 1202.7 227.0 1199.8 229.8 1191.8 232.5 1187.2 235.3 1180.2 238.1 1175.8 240.9 1171.3 243.7 1165.5 246.4 1160.6 249.2 1155.0 252.0 1148.8 254.8 1144.8 257.6 1138.4 260.3 1135.2 263.1 1128.0 265.9 1123.7 268.7 1117.8 271.5 1113.6 274.2 1107.4 277.0 1103.7 279.8 1097.8 282.6 1095.7 285.4 1092.2 288.1 1088.8 290.9 1085.1 293.7 1083.6 296.5 1080.7 299.3 1079.0 302.0 1074.7 304.8 1072.8 307.6 1071.5 310.4 1070.0 313.2 1068.6 315.9 1067.3 318.7 1065.4 321.5 1063.8 324.3 1062.9 327.1 1062.4 329.8 1061.9 332.6 1060.4 335.4 1059.3 338.2 1058.0 341.0 1056.8 343.7 1055.3 346.5 1054.7 349.3 1054.4 352.1 1051.6 354.9 1050.2 357.6 1051.2 360.4 1048.7 363.2 1048.2 366.0 1047.0 368.8 1044.3 371.5 1046.0 374.3 1044.4 377.1 1042.0 379.9 1041.1 382.7 1039.2 385.4 1037.0 388.2 1036.2 391.0 1035.2 393.8 1034.4 396.6 1032.7 399.3 1030.7 402.1 1030.4 404.9 1027.3 407.7 1027.1 410.5 1026.0 413.2 1023.4 416.0 1020.8 418.8 1020.1 421.6 1019.7 424.4 1018.6 427.1 1018.1 429.9 1014.8 432.7 1014.3 435.5 1013.5 438.3 1011.6 441.0 1008.5 443.8 1009.8 446.6 1009.7 449.4 1007.4 452.2 1004.6 454.9 1003.7 457.7 1002.9 460.5 1003.4 463.3 1000.7 466.1 999.0 468.8 999.2 471.6 996.8 474.4 997.4 477.2 994.4 480.0 993.5 482.7 993.5 485.5 993.1 488.3 991.5 491.1 990.2 493.9 987.5 496.6 987.4 499.4 986.4 502.2 985.5 505.0 985.4 507.8 983.7 510.5 983.8 513.3 982.7 516.1 981.7 518.9 981.5 521.7 981.2 524.4 980.9 527.2 979.3 530.0 978.9 532.8 977.4 535.6 979.2 538.3 978.5 541.1 976.6 543.9 975.8 546.7 974.7 549.5 975.2 552.2 974.7 555.0 975.7 557.8 973.6 560.6 972.3 563.4 970.4 566.1 972.9 568.9 971.4 571.7 969.4 574.5 970.3 577.3 968.3 580.0 971.8 582.8 969.3 585.6 968.4 588.4 967.2 591.2 965.1 593.9 966.1 596.7 964.4 599.5 965.7 602.3 963.2 605.1 963.8 607.8 965.2 610.6 965.2 613.4 962.6 616.2 962.0 619.0 963.5 621.7 963.2 624.5 961.4 627.3 961.2 630.1 960.9 632.9 960.1 635.6 960.2 638.4 961.4 641.2 960.6 644.0 961.4 646.8 959.3 649.5 958.9 652.3 957.9 655.1 958.2 657.9 957.1 660.7 956.5 663.4 958.2 666.2 958.6 669.0 957.9 671.8 958.1 674.6 957.1 677.3 956.1 680.1 956.5 682.9 955.9 685.7 955.1 688.5 954.5 691.2 954.4 694.0 955.4 696.8 955.3 699.6 954.6 702.4 955.9 705.1 954.7 707.9 954.8 710.7 955.1 713.5 953.3 716.3 952.4 719.0 954.6 721.8 953.4 724.6 955.0 727.4 954.3 730.2 954.8 732.9 954.6 735.7 952.3 738.5 954.6 741.3 953.5 744.1 953.4 746.8 953.7 749.6 954.6 752.4 954.7 755.2 954.8 758.0 952.7 760.7 953.5 763.5 952.1 766.3 953.9 769.1 954.5 771.9 953.4 774.6 954.2 777.4 954.2 780.2 954.8 783.0 953.3 785.8 953.3 788.5 953.4 791.3 955.4 794.1 954.9 796.9 953.9 799.7 954.2 802.4 954.1 805.2 954.2 808.0 953.8 810.8 953.7 813.6 953.0 816.3 953.5 819.1 955.3 821.9 954.4 824.7 954.1 827.5 953.8 830.2 954.1 833.0 954.3 835.8 953.5 838.6 954.2 841.4 954.2 844.1 953.4 846.9 953.4 849.7 953.2 852.5 953.1 855.3 954.7 858.0 952.1 860.8 953.8 863.6 953.5 866.4 953.5 869.2 954.1 871.9 954.9 874.7 954.1 877.5 953.9 880.3 953.5 883.1 953.9 885.8 954.7 888.6 953.6 891.4 953.0 894.2 952.8 897.0 952.9 899.7 952.6 902.5 954.5 905.3 953.9 908.1 953.4 910.9 954.7 913.6 952.9 916.4 954.0 919.2 954.0 922.0 952.0 924.8 952.0 927.5 952.4 930.3 953.8 933.1 954.1 935.9 952.0 938.7 953.8 941.4 952.6 944.2 952.5 947.0 952.3 949.8 952.5 952.6 951.2 955.3 951.8 958.1 951.6 858.4 936.7 708.6 952.5" fill="none" stroke="none" marker-start="url(#mok)" marker-mid="url(#mok)" marker-end="url(#mok)"/><path d="M125.8 1222.0 130.0 1279.6 133.0 1314.2 137.3 1325.7 140.2 1354.5 144.0 1362.0 148.8 1367.7 151.6 1370.8 154.4 1372.0 157.1 1373.6 159.9 1376.4 162.7 1377.4 165.5 1377.4 168.3 1379.0 171.0 1377.2 173.8 1376.6 176.6 1376.5 179.4 1377.2 182.2 1378.1 184.9 1378.3 187.7 1378.5 190.5 1379.1 193.3 1379.0 196.1 1378.1 198.8 1378.7 201.6 1378.2 204.4 1377.2 207.2 1378.2 210.0 1377.1 212.7 1376.5 215.5 1377.8 218.3 1376.4 221.1 1375.0 223.9 1374.9 226.6 1376.4 229.4 1373.9 232.2 1374.2 235.0 1373.7 237.8 1373.2 240.5 1372.8 243.3 1371.5 246.1 1370.5 248.9 1369.6 251.7 1368.3 254.4 1368.0 257.2 1367.5 260.0 1364.3 262.8 1364.5 265.6 1362.3 268.3 1361.5 271.1 1360.9 273.9 1359.2 276.7 1356.0 279.5 1351.5 282.2 1352.0 285.0 1347.9 287.8 1344.8 290.6 1341.1 293.4 1334.5 296.1 1328.3 298.9 1324.3 301.7 1318.7 304.5 1312.1 307.3 1307.3 310.0 1300.6 312.8 1293.1 315.6 1289.1 318.4 1281.3 321.2 1272.8 323.9 1266.6 326.7 1259.0 329.5 1251.9 332.3 1242.3 335.1 1236.4 337.8 1229.7 340.6 1223.1 343.4 1216.6 346.2 1210.8 349.0 1203.9 351.7 1197.0 354.5 1189.9 357.3 1185.4 360.1 1180.5 362.9 1175.1 365.6 1170.2 368.4 1165.8 371.2 1157.9 374.0 1154.6 376.8 1146.7 379.5 1143.4 382.3 1139.2 385.1 1135.7 387.9 1129.6 390.7 1126.1 393.4 1121.5 396.2 1116.3 399.0 1115.4 401.8 1111.4 404.6 1108.1 407.3 1104.0 410.1 1101.4 412.9 1098.1 415.7 1095.8 418.5 1091.6 421.2 1090.9 424.0 1084.4 426.8 1081.5 429.6 1079.7 432.4 1077.2 435.1 1077.1 437.9 1074.4 440.7 1071.0 443.5 1070.3 446.3 1069.4 449.0 1065.5 451.8 1065.0 454.6 1063.0 457.4 1063.3 460.2 1060.0 462.9 1057.5 465.7 1055.6 468.5 1056.0 471.3 1052.4 474.1 1053.0 476.8 1048.3 479.6 1047.7 482.4 1046.0 485.2 1044.0 488.0 1042.8 490.7 1041.9 493.5 1039.1 496.3 1036.8 499.1 1037.4 501.9 1035.8 504.6 1032.4 507.4 1031.5 510.2 1027.5 513.0 1028.7 515.8 1025.1 518.5 1024.0 521.3 1024.6 524.1 1020.1 526.9 1019.7 529.7 1017.3 532.4 1015.1 535.2 1014.2 538.0 1013.8 540.8 1011.2 543.6 1010.6 546.3 1010.5 549.1 1008.6 551.9 1006.5 554.7 1007.7 557.5 1005.4 560.2 1005.3 563.0 1002.1 565.8 1003.2 568.6 999.6 571.4 998.1 574.1 998.0 576.9 996.9 579.7 996.3 582.5 994.5 585.3 994.3 588.0 993.7 590.8 990.9 593.6 989.2 596.4 988.8 599.2 988.8 601.9 987.9 604.7 986.0 607.5 984.6 610.3 984.5 613.1 984.4 615.8 982.1 618.6 982.8 621.4 981.1 624.2 980.2 627.0 978.6 629.7 979.3 632.5 977.3 635.3 975.1 638.1 976.1 640.9 974.2 643.6 974.5 646.4 972.9 649.2 971.3 652.0 971.1 654.8 969.6 657.5 968.6 660.3 968.6 663.1 968.6 665.9 967.2 668.7 966.4 671.4 965.4 674.2 965.6 677.0 964.6 679.8 964.5 682.6 963.3 685.3 964.1 688.1 960.4 690.9 960.9 693.7 960.7 696.5 960.3 699.2 957.6 702.0 957.2 704.8 957.4 707.6 957.6 710.4 957.0 713.1 954.2 715.9 955.1 718.7 955.5 721.5 954.2 724.3 952.9 727.0 952.7 729.8 951.8 732.6 953.5 735.4 951.9 738.2 951.3 740.9 950.5 743.7 950.7 746.5 949.7 749.3 949.2 752.1 949.6 754.8 949.0 757.6 949.1 760.4 948.5 763.2 948.9 766.0 947.5 768.7 947.3 771.5 946.9 774.3 945.9 777.1 947.3 779.9 945.7 782.6 944.6 785.4 946.7 788.2 946.0 791.0 944.8 793.8 945.9 796.5 945.7 799.3 945.3 802.1 943.5 804.9 944.4 807.7 943.2 810.4 943.4 813.2 943.2 816.0 942.8 818.8 943.6 821.6 942.4 824.3 943.3 827.1 942.7 829.9 941.9 832.7 942.4 835.5 942.6 838.2 942.8 841.0 941.5 843.8 943.0 846.6 941.9 849.4 942.3 852.1 940.0 854.9 940.1 857.7 941.7 860.5 940.4 863.3 940.8 866.0 941.2 868.8 938.9 871.6 940.3 874.4 941.3 877.2 940.2 879.9 939.5 882.7 939.7 885.5 939.1 888.3 939.6 891.1 940.0 893.8 938.8 896.6 939.4 899.4 939.1 902.2 939.4 905.0 939.5 907.7 937.9 910.5 939.7 913.3 939.4 916.1 937.8 918.9 938.4 921.6 937.4 924.4 938.3 927.2 938.8 930.0 937.6 932.8 937.8 935.5 937.7 938.3 937.8 941.1 937.7 943.9 937.5 946.7 938.8 949.4 938.1 952.2 937.6 955.0 939.0 957.8 937.7 960.6 938.9" fill="none" stroke="none" marker-start="url(#mor)" marker-mid="url(#mor)" marker-end="url(#mor)"/><path d="M122.9 1210.4 127.0 1232.0 131.5 1250.8 134.5 1266.0 137.3 1279.6 140.0 1297.0 143.0 1314.2 146.0 1333.0 148.8 1351.6 152.0 1370.0 157.5 1388.9 160.3 1390.2 163.1 1386.9 165.8 1385.1 168.6 1387.0 171.4 1386.9 174.2 1386.0 177.0 1385.6 179.7 1384.7 182.5 1384.2 185.3 1384.0 188.1 1384.6 190.9 1384.4 193.6 1386.0 196.4 1385.7 199.2 1383.4 202.0 1385.8 204.8 1384.9 207.5 1386.3 210.3 1386.7 213.1 1385.6 215.9 1382.8 218.7 1385.7 221.4 1383.0 224.2 1386.8 227.0 1384.1 229.8 1384.7 232.6 1387.1 235.3 1382.8 238.1 1385.0 240.9 1383.8 243.7 1384.5 246.5 1384.2 249.2 1386.1 252.0 1385.0 254.8 1385.8 257.6 1386.3 260.4 1383.5 263.1 1387.3 265.9 1385.4 268.7 1383.7 271.5 1385.0 274.3 1386.9 277.0 1387.2 279.8 1385.2 282.6 1386.2 285.4 1386.4 288.2 1387.5 290.9 1386.1 293.7 1387.6 296.5 1385.3 299.3 1385.6 302.1 1387.4 304.8 1387.5 307.6 1386.6 310.4 1387.5 313.2 1387.1 316.0 1387.8 318.7 1388.4 321.5 1387.7 324.3 1388.1 327.1 1386.7 329.9 1386.6 332.6 1384.4 335.4 1387.9 338.2 1387.5 341.0 1388.2 343.8 1385.3 346.5 1387.0 349.3 1387.0 352.1 1385.6 354.9 1388.9 357.7 1389.3 360.4 1386.3 363.2 1388.4 366.0 1390.1 368.8 1386.5 371.6 1389.2 374.3 1390.0 377.1 1390.4 379.9 1386.5 382.7 1386.9 385.5 1388.5 388.2 1389.7 391.0 1386.7 393.8 1387.4 396.6 1387.0 399.4 1389.7 402.1 1387.7 404.9 1389.2 407.7 1389.3 410.5 1389.9 413.3 1389.1 416.0 1389.0 418.8 1390.1 421.6 1389.3 424.4 1387.2 427.2 1388.1 429.9 1389.9 432.7 1389.0 435.5 1388.4 438.3 1389.2 441.1 1393.0 443.8 1388.9 446.6 1389.6 449.4 1389.6 452.2 1388.7 455.0 1390.6 457.7 1390.2 460.5 1389.7 463.3 1387.5 466.1 1390.8 468.9 1390.3 471.6 1389.4 474.4 1386.3 477.2 1389.6 480.0 1388.3 482.8 1389.6 485.5 1389.4 488.3 1389.1 491.1 1391.5 493.9 1390.5 496.7 1392.0 499.4 1389.4 502.2 1390.4 505.0 1392.5 507.8 1391.3 510.6 1390.1 513.3 1390.0 516.1 1390.5 518.9 1391.2 521.7 1392.3 524.5 1391.7 527.2 1392.6 530.0 1392.8 532.8 1392.0 535.6 1393.6 538.4 1393.0 541.1 1391.9 543.9 1391.9 546.7 1392.1 549.5 1391.2 552.3 1390.5 555.0 1392.2 557.8 1391.5 560.6 1392.9 563.4 1391.4 566.2 1392.3 568.9 1392.4 571.7 1391.6 574.5 1392.4 577.3 1391.2 580.1 1391.6 582.8 1393.1 585.6 1392.6 588.4 1392.1 591.2 1391.2 594.0 1393.0 596.7 1394.6 599.5 1389.5 602.3 1393.4 605.1 1392.4 607.9 1393.5 610.6 1393.6 613.4 1390.9 616.2 1394.3 619.0 1391.4 621.8 1391.8 624.5 1392.9 627.3 1392.0 630.1 1392.5 632.9 1391.5 635.7 1390.9 638.4 1392.2 641.2 1390.8 644.0 1393.8 646.8 1392.4 649.6 1393.9 652.3 1390.6 655.1 1389.6 657.9 1389.3 660.7 1391.7 663.5 1390.5 666.2 1392.6 669.0 1390.3 671.8 1390.4 674.6 1392.5 677.4 1391.6 680.1 1393.0 682.9 1393.1 685.7 1392.6 688.5 1390.6 691.3 1391.1 694.0 1394.9 696.8 1391.8 699.6 1392.5 702.4 1392.3 705.2 1392.1 707.9 1391.9 710.7 1391.4 713.5 1391.5 716.3 1389.6 719.1 1394.2 721.8 1392.0 724.6 1390.5 727.4 1392.8 730.2 1393.0 733.0 1390.4 735.7 1391.5 738.5 1394.0 741.3 1392.8 744.1 1392.7 746.9 1393.4 749.6 1392.0 752.4 1391.8 755.2 1394.1 758.0 1391.9 760.8 1392.0 763.5 1392.9 766.3 1392.2 769.1 1390.6 771.9 1394.5 774.7 1392.0 777.4 1394.3 780.2 1392.8 783.0 1391.0 785.8 1394.0 788.6 1391.9 791.3 1391.1 794.1 1392.1 796.9 1389.5 799.7 1392.6 802.5 1391.2 805.2 1391.8 808.0 1391.0 810.8 1393.0 813.6 1392.6 816.4 1393.5 819.1 1394.2 821.9 1392.5 824.7 1392.2 827.5 1392.5 830.3 1391.1 833.0 1391.5 835.8 1393.1 838.6 1391.1 841.4 1389.7 844.2 1391.7 846.9 1392.4 849.7 1393.9 852.5 1391.2 855.3 1391.0 858.1 1392.2 860.8 1391.9 863.6 1392.4 866.4 1391.5 869.2 1392.4 872.0 1391.4 874.7 1393.3 877.5 1392.5 880.3 1392.8 883.1 1391.6 885.9 1390.4 888.6 1392.1 891.4 1392.1 894.2 1393.5 897.0 1393.3 899.8 1392.1 902.5 1392.1 905.3 1390.9 908.1 1392.1 910.9 1392.4 913.7 1391.6 916.4 1390.8 919.2 1393.7 922.0 1391.0 924.8 1394.1 927.6 1393.6 930.3 1394.0 933.1 1391.1 935.9 1392.9 938.7 1390.4 941.5 1391.7 944.2 1390.2 947.0 1391.2 949.8 1391.5 952.6 1393.3 955.4 1393.4" fill="none" stroke="none" marker-start="url(#mdg)" marker-mid="url(#mdg)" marker-end="url(#mdg)"/><path d="M122.9 1204.7 125.8 1220.0 128.6 1236.4 131.5 1250.0 134.4 1265.2 137.3 1278.0 140.0 1291.0 143.0 1300.0 145.9 1310.0 148.8 1322.0 151.7 1346.0 154.5 1346.1 157.3 1341.0 160.0 1340.3 162.8 1345.5 165.6 1348.1 168.4 1346.2 171.2 1343.3 173.9 1346.1 176.7 1351.3 179.5 1344.6 182.3 1351.0 185.1 1350.1 187.8 1350.4 190.6 1351.4 193.4 1348.5 196.2 1350.0 199.0 1355.1 201.7 1350.0 204.5 1350.3 207.3 1348.2 210.1 1350.8 212.9 1354.1 215.6 1355.7 218.4 1354.4 221.2 1354.7 224.0 1354.8 226.8 1354.5 229.5 1356.4 232.3 1353.9 235.1 1357.2 237.9 1354.6 240.7 1351.1 243.4 1352.1 246.2 1355.1 249.0 1354.8 251.8 1353.2 254.6 1354.6 257.3 1357.2 260.1 1358.0 262.9 1359.4 265.7 1355.4 268.5 1358.6 271.2 1360.4 274.0 1358.9 276.8 1362.5 279.6 1357.2 282.4 1358.5 285.1 1359.1 287.9 1357.8 290.7 1358.9 293.5 1359.7 296.3 1359.2 299.0 1358.2 301.8 1358.5 304.6 1359.6 307.4 1356.2 310.2 1360.6 312.9 1357.6 315.7 1359.8 318.5 1357.9 321.3 1361.0 324.1 1360.0 326.8 1360.5 329.6 1359.5 332.4 1361.7 335.2 1365.5 338.0 1357.3 340.7 1363.2 343.5 1362.7 346.3 1361.3 349.1 1359.3 351.9 1366.4 354.6 1363.1 357.4 1365.2 360.2 1362.0 363.0 1361.1 365.8 1365.8 368.5 1365.0 371.3 1362.6 374.1 1362.9 376.9 1365.1 379.7 1361.7 382.4 1361.7 385.2 1363.8 388.0 1366.4 390.8 1366.2 393.6 1364.6 396.3 1367.6 399.1 1364.0 401.9 1363.3 404.7 1370.4 407.5 1363.5 410.2 1366.3 413.0 1366.3 415.8 1365.4 418.6 1365.7 421.4 1367.0 424.1 1366.7 426.9 1364.1 429.7 1365.6 432.5 1369.1 435.3 1367.6 438.0 1364.9 440.8 1366.2 443.6 1363.7 446.4 1363.1 449.2 1365.1 451.9 1370.4 454.7 1365.1 457.5 1361.9 460.3 1366.5 463.1 1365.2 465.8 1368.8 468.6 1370.2 471.4 1366.6 474.2 1367.8 477.0 1365.5 479.7 1370.8 482.5 1366.3 485.3 1368.3 488.1 1374.2 490.9 1366.3 493.6 1369.1 496.4 1368.8 499.2 1370.2 502.0 1370.4 504.8 1373.0 507.5 1370.8 510.3 1371.2 513.1 1366.9 515.9 1371.1 518.7 1367.0 521.4 1373.4 524.2 1370.4 527.0 1373.1 529.8 1369.7 532.6 1371.6 535.3 1371.5 538.1 1372.8 540.9 1371.3 543.7 1370.2 546.5 1370.8 549.2 1370.2 552.0 1369.6 554.8 1369.0 557.6 1368.4 560.4 1376.6 563.1 1370.3 565.9 1369.5 568.7 1374.7 571.5 1373.0 574.3 1372.1 577.0 1375.2 579.8 1377.1 582.6 1370.5 585.4 1376.1 588.2 1374.1 590.9 1375.6 593.7 1371.6 596.5 1377.0 599.3 1375.8 602.1 1366.8 604.8 1376.3 607.6 1376.5 610.4 1369.9 613.2 1374.2 616.0 1373.0 618.7 1374.0 621.5 1371.5 624.3 1375.2 627.1 1375.5 629.9 1373.5 632.6 1373.7 635.4 1369.7 638.2 1375.3 641.0 1371.0 643.8 1374.2 646.5 1372.2 649.3 1380.6 652.1 1374.3 654.9 1378.1 657.7 1374.4 660.4 1374.4 663.2 1376.4 666.0 1374.6 668.8 1380.4 671.6 1374.3 674.3 1378.8 677.1 1372.0 679.9 1372.7 682.7 1376.6 685.5 1371.7 688.2 1379.9 691.0 1376.5 693.8 1375.5 696.6 1379.7 699.4 1374.1 702.1 1373.6 704.9 1369.2 707.7 1370.9 710.5 1374.9 713.3 1370.7 716.0 1377.6 718.8 1378.2 721.6 1377.0 724.4 1372.0 727.2 1373.9 729.9 1372.7 732.7 1377.9 735.5 1378.7 738.3 1375.7 741.1 1376.5 743.8 1377.0 746.6 1378.3 749.4 1374.3 752.2 1374.3 755.0 1378.6 757.7 1378.0 760.5 1378.0 763.3 1377.0 766.1 1378.8 768.9 1378.2 771.6 1375.6 774.4 1381.3 777.2 1379.8 780.0 1376.6 782.8 1377.0 785.5 1375.6 788.3 1374.0 791.1 1374.9 793.9 1374.0 796.7 1376.0 799.4 1378.4 802.2 1377.6 805.0 1374.2 807.8 1377.3 810.6 1376.3 813.3 1375.2 816.1 1380.7 818.9 1375.5 821.7 1380.3 824.5 1374.0 827.2 1378.9 830.0 1376.6 832.8 1380.7 835.6 1379.4 838.4 1376.5 841.1 1380.1 843.9 1381.7 846.7 1381.9 849.5 1382.3 852.3 1377.9 855.0 1384.2 857.8 1377.4 860.6 1378.6 863.4 1375.2 866.2 1378.5 868.9 1375.6 871.7 1379.5 874.5 1374.9 877.3 1383.9 880.1 1381.4 882.8 1383.4 885.6 1382.4 888.4 1380.0 891.2 1380.8 894.0 1380.2 896.7 1375.1 899.5 1376.9 902.3 1378.9 905.1 1382.2 907.9 1376.6 910.6 1380.5 913.4 1378.7 916.2 1382.0 919.0 1382.1 921.8 1377.7 924.5 1377.5 927.3 1384.0 930.1 1383.1 932.9 1380.4 935.7 1382.6 938.4 1380.8 941.2 1381.9 944.0 1379.8 946.8 1382.2 949.6 1385.0 952.3 1384.5 955.1 1384.1 957.9 1381.4" fill="none" stroke="none" marker-start="url(#muy)" marker-mid="url(#muy)" marker-end="url(#muy)"/><path d="M124.3 1167.2 127.0 1172.0 131.5 1175.9 134.4 1201.8 137.3 1222.0 140.2 1239.3 143.0 1256.5 156.0 1266.6 146.0 1285.0 148.8 1292.0 151.6 1291.7 154.4 1293.9 157.1 1293.5 159.9 1310.0 162.7 1275.9 165.5 1294.9 168.3 1292.3 171.0 1305.5 173.8 1289.1 176.6 1305.9 179.4 1296.9 182.2 1298.6 184.9 1302.4 187.7 1289.3 190.5 1296.5 193.3 1315.7 196.1 1288.6 198.8 1307.3 201.6 1304.9 204.4 1301.6 207.2 1296.8 210.0 1308.3 212.7 1317.2 215.5 1311.8 218.3 1305.5 221.1 1309.8 223.9 1307.1 226.6 1304.1 229.4 1322.0 232.2 1322.4 235.0 1317.1 237.8 1316.8 240.5 1316.5 243.3 1321.0 246.1 1293.6 248.9 1316.5 251.7 1318.9 254.4 1315.3 257.2 1314.1 260.0 1303.7 262.8 1316.5 265.6 1326.9 268.3 1317.6 271.1 1313.7 273.9 1317.0 276.7 1323.5 279.5 1319.8 282.2 1326.7 285.0 1319.2 287.8 1315.6 290.6 1319.1 293.4 1313.5 296.1 1331.8 298.9 1317.1 301.7 1328.2 304.5 1324.5 307.3 1322.7 310.0 1330.5 312.8 1329.1 315.6 1324.7 318.4 1320.5 321.2 1322.2 323.9 1315.5 326.7 1302.9 329.5 1330.1 332.3 1326.0 335.1 1327.5 337.8 1321.7 340.6 1330.2 343.4 1311.4 346.2 1311.0 349.0 1330.0 351.7 1317.8 354.5 1319.8 357.3 1327.6 360.1 1317.0 362.9 1348.1 365.6 1329.0 368.4 1335.3 371.2 1314.6 374.0 1324.1 376.8 1328.4 379.5 1325.6 382.3 1331.5 385.1 1323.4 387.9 1320.8 390.7 1328.6 393.4 1322.1 396.2 1330.6 399.0 1337.5 401.8 1342.8 404.6 1345.6 407.3 1330.3 410.1 1335.0 412.9 1324.0 415.7 1321.1 418.5 1333.4 421.2 1328.0 424.0 1326.4 426.8 1329.7 429.6 1325.3 432.4 1335.9 435.1 1339.3 437.9 1328.7 440.7 1336.7 443.5 1333.5 446.3 1348.3 449.0 1331.6 451.8 1343.8 454.6 1335.2 457.4 1340.9 460.2 1343.0 462.9 1334.9 465.7 1337.4 468.5 1341.6 471.3 1336.2 474.1 1343.7 476.8 1333.5 479.6 1329.3 482.4 1339.9 485.2 1349.2 488.0 1336.1 490.7 1343.6 493.5 1348.5 496.3 1336.7 499.1 1342.6 501.9 1346.2 504.6 1322.8 507.4 1340.2 510.2 1343.9 513.0 1334.5 515.8 1338.0 518.5 1337.3 521.3 1334.1 524.1 1335.8 526.9 1347.4 529.7 1338.1 532.4 1335.8 535.2 1346.2 538.0 1339.6 540.8 1347.2 543.6 1341.6 546.3 1342.8 549.1 1347.1 551.9 1326.1 554.7 1361.3 557.5 1348.8 560.2 1339.9 563.0 1344.6 565.8 1371.4 568.6 1343.4 571.4 1350.4 574.1 1345.9 576.9 1345.8 579.7 1337.4 582.5 1338.3 585.3 1344.1 588.0 1360.1 590.8 1342.8 593.6 1340.9 596.4 1339.1 599.2 1350.8 601.9 1358.1 604.7 1354.1 607.5 1340.4 610.3 1345.8 613.1 1350.1 615.8 1337.5 618.6 1350.6 621.4 1343.3 624.2 1343.6 627.0 1347.4 629.7 1338.6 632.5 1361.0 635.3 1341.6 638.1 1350.4 640.9 1352.4 643.6 1354.4 646.4 1355.2 649.2 1345.0 652.0 1343.7 654.8 1355.2 657.5 1347.3 660.3 1357.2 663.1 1362.1 665.9 1351.1 668.7 1345.8 671.4 1349.7 674.2 1350.9 677.0 1345.9 679.8 1356.5 682.6 1368.6 685.3 1349.2 688.1 1352.4 690.9 1352.9 693.7 1352.5 696.5 1361.2 699.2 1352.6 702.0 1358.6 704.8 1339.0 707.6 1351.5 710.4 1363.6 713.1 1356.4 715.9 1355.6 718.7 1351.2 721.5 1356.4 724.3 1352.4 727.0 1365.4 729.8 1359.7 732.6 1351.2 735.4 1367.7 738.2 1362.8 740.9 1361.3 743.7 1353.9 746.5 1360.6 749.3 1364.8 752.1 1359.8 754.8 1364.6 757.6 1356.5 760.4 1366.1 763.2 1363.3 766.0 1363.5 768.7 1359.3 771.5 1362.7 774.3 1349.4 777.1 1354.5 779.9 1355.5 782.6 1365.5 785.4 1362.3 788.2 1367.3 791.0 1362.7 793.8 1373.1 796.5 1352.4 799.3 1368.8 802.1 1363.3 804.9 1369.1 807.7 1384.3 810.4 1367.8 813.2 1359.7 816.0 1371.6 818.8 1367.4 821.6 1367.8 824.3 1360.2 827.1 1366.8 829.9 1348.7 832.7 1368.4 835.5 1373.0 838.2 1360.0 841.0 1357.4 843.8 1369.7 846.6 1366.9 849.4 1370.1 852.1 1362.9 854.9 1366.5 857.7 1367.2 860.5 1367.3 863.3 1363.5 866.0 1368.6 868.8 1371.8 871.6 1375.2 874.4 1360.7 877.2 1365.1 879.9 1374.0 882.7 1360.1 885.5 1369.4 888.3 1365.9 891.1 1375.0 893.8 1375.3 896.6 1372.7 899.4 1375.6 902.2 1377.2 905.0 1374.5 907.7 1375.5 910.5 1375.7 913.3 1359.6 916.1 1371.1 918.9 1380.3 921.6 1376.4 924.4 1383.6 927.2 1377.6 930.0 1363.7 932.8 1366.8 935.5 1367.4 938.3 1376.0 941.1 1372.4 943.9 1373.8 946.7 1353.9 949.4 1372.6 952.2 1391.9 955.0 1377.5 957.8 1371.3" fill="none" stroke="none" marker-start="url(#msb)" marker-mid="url(#msb)" marker-end="url(#msb)"/><path d="M124.3 1186.0 124.3 1239.3 125.8 1351.6 130.0 1356.0 134.4 1360.3 137.2 1362.3 140.0 1360.8 142.7 1362.7 145.5 1361.3 148.3 1363.7 151.1 1363.2 153.9 1365.1 156.6 1364.9 159.4 1364.5 162.2 1364.6 165.0 1365.7 167.8 1365.6 170.5 1365.2 173.3 1367.0 176.1 1364.4 178.9 1367.0 181.7 1369.3 184.4 1367.8 187.2 1365.9 190.0 1368.5 192.8 1367.7 195.6 1367.0 198.3 1367.1 201.1 1368.0 203.9 1368.8 206.7 1367.9 209.5 1369.9 212.2 1367.6 215.0 1369.2 217.8 1366.9 220.6 1366.6 223.4 1368.5 226.1 1369.0 228.9 1370.6 231.7 1368.6 234.5 1369.3 237.3 1367.9 240.0 1369.2 242.8 1369.8 245.6 1369.0 248.4 1370.5 251.2 1371.0 253.9 1370.3 256.7 1369.7 259.5 1369.7 262.3 1370.6 265.1 1369.0 267.8 1371.1 270.6 1369.6 273.4 1370.5 276.2 1369.2 279.0 1369.4 281.7 1369.6 284.5 1371.0 287.3 1370.6 290.1 1370.7 292.9 1371.6 295.6 1369.8 298.4 1371.6 301.2 1370.2 304.0 1370.0 306.8 1370.4 309.5 1372.0 312.3 1372.7 315.1 1370.6 317.9 1370.1 320.7 1369.7 323.4 1371.3 326.2 1371.8 329.0 1371.8 331.8 1371.7 334.6 1372.9 337.3 1371.6 340.1 1372.0 342.9 1371.4 345.7 1370.8 348.5 1369.6 351.2 1371.9 354.0 1371.3 356.8 1371.4 359.6 1371.4 362.4 1372.1 365.1 1372.2 367.9 1369.9 370.7 1371.9 373.5 1372.7 376.3 1372.7 379.0 1372.2 381.8 1372.6 384.6 1370.9 387.4 1372.9 390.2 1372.4 392.9 1372.8 395.7 1373.4 398.5 1372.9 401.3 1371.7 404.1 1370.9 406.8 1372.5 409.6 1373.0 412.4 1373.3 415.2 1374.2 418.0 1373.6 420.7 1373.6 423.5 1371.7 426.3 1374.3 429.1 1373.7 431.9 1375.7 434.6 1374.5 437.4 1373.0 440.2 1374.0 443.0 1374.6 445.8 1373.1 448.5 1372.4 451.3 1374.6 454.1 1373.7 456.9 1374.1 459.7 1374.5 462.4 1374.2 465.2 1375.3 468.0 1374.9 470.8 1374.9 473.6 1375.6 476.3 1374.8 479.1 1373.6 481.9 1375.0 484.7 1373.7 487.5 1375.3 490.2 1374.0 493.0 1375.2 495.8 1376.6 498.6 1376.1 501.4 1374.7 504.1 1374.1 506.9 1375.2 509.7 1376.7 512.5 1376.3 515.3 1374.3 518.0 1376.8 520.8 1376.3 523.6 1376.8 526.4 1377.5 529.2 1375.4 531.9 1376.9 534.7 1376.5 537.5 1377.5 540.3 1376.2 543.1 1375.1 545.8 1376.7 548.6 1377.5 551.4 1376.3 554.2 1376.3 557.0 1376.7 559.7 1376.5 562.5 1376.2 565.3 1376.2 568.1 1378.1 570.9 1376.2 573.6 1376.8 576.4 1377.8 579.2 1377.8 582.0 1375.1 584.8 1376.0 587.5 1375.5 590.3 1376.6 593.1 1374.5 595.9 1375.4 598.7 1376.6 601.4 1377.1 604.2 1375.6 607.0 1377.0 609.8 1378.1 612.6 1375.9 615.3 1378.1 618.1 1376.8 620.9 1374.7 623.7 1377.0 626.5 1377.0 629.2 1378.4 632.0 1376.2 634.8 1378.7 637.6 1376.9 640.4 1377.5 643.1 1376.8 645.9 1377.5 648.7 1378.2 651.5 1377.0 654.3 1376.5 657.0 1377.6 659.8 1376.5 662.6 1376.8 665.4 1377.3 668.2 1376.3 670.9 1376.3 673.7 1375.9 676.5 1375.6 679.3 1376.2 682.1 1376.3 684.8 1375.2 687.6 1373.0 690.4 1373.1 693.2 1375.2 696.0 1375.6 698.7 1375.3 701.5 1373.3 704.3 1373.8 707.1 1372.9 709.9 1373.6 712.6 1372.9 715.4 1371.8 718.2 1373.2 721.0 1372.5 723.8 1374.3 726.5 1373.2 729.3 1370.3 732.1 1372.5 734.9 1370.5 737.7 1370.6 740.4 1370.9 743.2 1369.6 746.0 1373.7 748.8 1371.3 751.6 1369.4 754.3 1371.2 757.1 1367.6 759.9 1370.9 762.7 1369.6 765.5 1369.7 768.2 1370.5 771.0 1369.3 773.8 1369.9 776.6 1366.8 779.4 1369.6 782.1 1367.8 784.9 1369.7 787.7 1367.7 790.5 1369.3 793.3 1366.4 796.0 1363.7 798.8 1365.1 801.6 1370.9 804.4 1366.5 807.2 1367.7 809.9 1366.0 812.7 1370.2 815.5 1364.1 818.3 1357.4 821.1 1364.2 823.8 1364.3 826.6 1370.6 829.4 1363.3 832.2 1364.0 835.0 1367.6 837.7 1368.1 840.5 1363.8 843.3 1369.4 846.1 1363.0 848.9 1364.8 851.6 1360.6 854.4 1355.7 857.2 1360.8 860.0 1360.8 862.8 1359.5 865.5 1371.1 868.3 1356.4 871.1 1363.8 873.9 1367.6 876.7 1364.3 879.4 1363.2 882.2 1358.8 885.0 1358.5 887.8 1365.5 890.6 1366.8 893.3 1358.7 896.1 1362.6 898.9 1361.1 901.7 1363.9 904.5 1358.5 907.2 1365.1 910.0 1360.0 912.8 1362.7 915.6 1359.1 918.4 1365.8 921.1 1360.7 923.9 1364.4 926.7 1362.0 929.5 1365.5 932.3 1364.1 935.0 1372.3 937.8 1359.5 940.6 1366.1 943.4 1360.8 946.2 1363.4 948.9 1356.3 951.7 1368.0 954.5 1353.8 957.3 1366.5" fill="none" stroke="none" marker-start="url(#msm)" marker-mid="url(#msm)" marker-end="url(#msm)"/></g>
<line x1="115" x2="124" y1="940.5" y2="940.5" stroke="#000" stroke-width="3"/>
<line x1="115" x2="124" y1="1375.1" y2="1375.1" stroke="#000" stroke-width="3"/>
<line x1="124" x2="124" y1="1505.8" y2="1514.3" stroke="#000" stroke-width="3"/>
<text x="118.35" y="1555.8" font-size="30.4">0</text>
<line x1="257.34" x2="257.34" y1="1505.8" y2="1514.3" stroke="#000" stroke-width="3"/>
<text x="252.25" y="1555.8" font-size="30.4">8</text>
<line x1="390.67" x2="390.67" y1="1505.8" y2="1514.3" stroke="#000" stroke-width="3"/>
<text x="380.2" y="1555.8" font-size="30.4">16</text>
<line x1="524.01" x2="524.01" y1="1505.8" y2="1514.3" stroke="#000" stroke-width="3"/>
<text x="512.77" y="1555.8" font-size="30.4">24</text>
<line x1="657.34" x2="657.34" y1="1505.8" y2="1514.3" stroke="#000" stroke-width="3"/>
<text x="647.08" y="1555.8" font-size="30.4">32</text>
<line x1="790.68" x2="790.68" y1="1505.8" y2="1514.3" stroke="#000" stroke-width="3"/>
<text x="782.04" y="1555.8" font-size="30.4">40</text>
<line x1="924.02" x2="924.02" y1="1505.8" y2="1514.3" stroke="#000" stroke-width="3"/>
<text x="916" y="1555.8" font-size="30.4">48</text>
<text x="85.68" y="951.1" font-size="30.4">1</text>
<text x="62.4" y="1388.2" font-size="29">0.1</text>
<text x="497.42" y="1606.6" font-size="30.4">time [h]</text>
<text transform="translate(10.4,1335.6) rotate(90)" font-size="30.4" text-anchor="middle">log OD600</text>
<text x="135.58" y="952.9" font-size="38">BAC-C12</text>
<text x="137.04" y="994.9" font-size="38">kaolinite</text>
<text x="48.93" y="1685.8" font-size="37">c</text>
<rect x="124" y="1703.6" width="834.4" height="601.4" fill="none" stroke="#000" stroke-width="3"/>
<g><path d="M122.9 2002.0 124.5 2020.0 126.5 2045.0 125.4 2023.2 128.2 2042.2 131.0 2059.1 133.7 2075.6 136.5 2093.2 139.3 2106.4 142.1 2111.6 144.9 2116.6 147.6 2123.3 150.4 2130.3 153.2 2138.2 156.0 2144.7 158.8 2151.7 161.5 2154.8 164.3 2155.6 167.1 2155.3 169.9 2156.4 172.7 2155.6 175.4 2155.1 178.2 2152.2 181.0 2151.4 183.8 2148.2 186.6 2147.7 189.3 2145.1 192.1 2142.6 194.9 2141.0 197.7 2139.0 200.5 2134.8 203.2 2132.6 206.0 2129.7 208.8 2123.0 211.6 2114.7 214.4 2104.1 217.1 2096.2 219.9 2086.3 222.7 2078.6 225.5 2068.9 228.3 2060.1 231.0 2051.8 233.8 2042.6 236.6 2034.8 239.4 2025.8 242.2 2019.6 244.9 2008.8 247.7 2000.2 250.5 1989.9 253.3 1981.0 256.1 1972.5 258.8 1964.3 261.6 1954.5 264.4 1944.3 267.2 1934.5 270.0 1927.5 272.7 1916.3 275.5 1907.4 278.3 1899.3 281.1 1891.0 283.9 1885.8 286.6 1880.4 289.4 1876.8 292.2 1874.3 295.0 1871.3 297.8 1867.9 300.5 1863.2 303.3 1861.9 306.1 1860.1 308.9 1856.1 311.7 1854.8 314.4 1853.7 317.2 1852.9 320.0 1849.1 322.8 1848.1 325.6 1847.0 328.3 1845.6 331.1 1842.9 333.9 1844.2 336.7 1840.8 339.5 1841.0 342.2 1838.3 345.0 1836.8 347.8 1836.0 350.6 1833.3 353.4 1831.2 356.1 1829.1 358.9 1828.2 361.7 1826.4 364.5 1828.0 367.3 1823.9 370.0 1822.0 372.8 1824.1 375.6 1822.6 378.4 1820.1 381.2 1819.9 383.9 1817.5 386.7 1816.5 389.5 1816.3 392.3 1815.1 395.1 1813.3 397.8 1813.8 400.6 1812.0 403.4 1810.4 406.2 1808.3 409.0 1808.2 411.7 1806.7 414.5 1805.8 417.3 1805.4 420.1 1803.2 422.9 1802.7 425.6 1802.0 428.4 1800.6 431.2 1801.0 434.0 1796.7 436.8 1796.9 439.5 1794.9 442.3 1794.9 445.1 1796.1 447.9 1792.0 450.7 1792.2 453.4 1792.2 456.2 1790.9 459.0 1790.7 461.8 1787.9 464.6 1789.1 467.3 1786.7 470.1 1785.7 472.9 1786.3 475.7 1785.4 478.5 1783.6 481.2 1782.7 484.0 1782.3 486.8 1781.6 489.6 1780.7 492.4 1779.2 495.1 1777.3 497.9 1779.4 500.7 1777.8 503.5 1776.0 506.3 1775.0 509.0 1775.0 511.8 1774.6 514.6 1772.5 517.4 1774.6 520.2 1773.2 522.9 1771.9 525.7 1771.7 528.5 1771.2 531.3 1771.5 534.1 1770.5 536.8 1771.1 539.6 1771.0 542.4 1769.3 545.2 1769.0 548.0 1768.4 550.7 1768.7 553.5 1768.1 556.3 1768.5 559.1 1768.5 561.9 1768.5 564.6 1767.0 567.4 1768.5 570.2 1767.2 573.0 1767.2 575.8 1766.7 578.5 1765.3 581.3 1766.9 584.1 1765.0 586.9 1767.1 589.7 1766.1 592.4 1767.1 595.2 1766.1 598.0 1766.0 600.8 1766.4 603.6 1765.1 606.3 1766.2 609.1 1764.7 611.9 1764.9 614.7 1764.0 617.5 1764.8 620.2 1764.8 623.0 1763.7 625.8 1763.0 628.6 1763.8 631.4 1764.0 634.1 1763.4 636.9 1762.6 639.7 1762.7 642.5 1762.9 645.3 1760.9 648.0 1762.4 650.8 1763.8 653.6 1761.5 656.4 1762.2 659.2 1763.9 661.9 1763.3 664.7 1763.6 667.5 1762.9 670.3 1762.1 673.1 1765.6 675.8 1763.7 678.6 1763.8 681.4 1765.0 684.2 1764.5 687.0 1764.0 689.7 1763.3 692.5 1764.2 695.3 1764.3 698.1 1764.0 700.9 1764.0 703.6 1764.1 706.4 1764.9 709.2 1764.7 712.0 1765.6 714.8 1766.2 717.5 1765.6 720.3 1765.3 723.1 1766.4 725.9 1765.6 728.7 1763.9 731.4 1764.4 734.2 1765.0 737.0 1764.1 739.8 1765.4 742.6 1763.3 745.3 1763.1 748.1 1765.3 750.9 1764.9 753.7 1763.1 756.5 1764.4 759.2 1765.3 762.0 1763.3 764.8 1763.2 767.6 1763.1 770.4 1763.2 773.1 1762.5 775.9 1763.4 778.7 1762.6 781.5 1763.7 784.3 1765.4 787.0 1762.7 789.8 1764.2 792.6 1764.3 795.4 1761.5 798.2 1763.3 800.9 1763.2 803.7 1762.8 806.5 1763.7 809.3 1762.6 812.1 1763.2 814.8 1762.5 817.6 1762.6 820.4 1762.0 823.2 1764.4 826.0 1762.5 828.7 1761.6 831.5 1764.0 834.3 1763.7 837.1 1762.2 839.9 1761.9 842.6 1761.8 845.4 1763.4 848.2 1762.1 851.0 1761.8 853.8 1763.1 856.5 1762.2 859.3 1762.4 862.1 1763.9 864.9 1763.1 867.7 1763.4 870.4 1762.7 873.2 1763.4 876.0 1762.3 878.8 1763.2 881.6 1763.2 884.3 1762.1 887.1 1761.4 889.9 1762.8 892.7 1762.1 895.5 1762.6 898.2 1761.5 901.0 1762.3 903.8 1762.6 906.6 1763.6 909.4 1763.0 912.1 1761.8 914.9 1762.5 917.7 1760.7 920.5 1762.1 923.3 1761.1 926.0 1762.0 928.8 1761.1 931.6 1760.5 934.4 1760.0 937.2 1761.5 939.9 1760.4 942.7 1760.8 945.5 1760.5 948.3 1758.4 951.1 1760.4 953.8 1759.5 956.6 1760.0 959.4 1760.0" fill="none" stroke="none" marker-start="url(#mok)" marker-mid="url(#mok)" marker-end="url(#mok)"/><path d="M123.6 1966.6 126.3 1998.2 129.0 2048.9 132.7 2062.4 134.5 2073.3 139.9 2096.8 141.7 2113.6 144.5 2133.5 147.3 2144.1 150.0 2148.0 152.8 2153.2 155.6 2158.6 158.4 2162.7 161.2 2167.6 163.9 2170.8 166.7 2170.9 169.5 2173.4 172.3 2173.5 175.1 2172.6 177.8 2172.5 180.6 2172.4 183.4 2170.7 186.2 2172.2 189.0 2171.4 191.7 2172.1 194.5 2169.4 197.3 2169.1 200.1 2169.0 202.9 2168.3 205.6 2163.9 208.4 2163.8 211.2 2157.7 214.0 2152.1 216.8 2143.1 219.5 2135.5 222.3 2126.5 225.1 2118.3 227.9 2111.7 230.7 2099.4 233.4 2092.5 236.2 2082.9 239.0 2072.3 241.8 2065.5 244.6 2057.4 247.3 2048.6 250.1 2041.5 252.9 2036.3 255.7 2028.5 258.5 2023.3 261.2 2014.3 264.0 2005.2 266.8 1999.3 269.6 1991.3 272.4 1986.7 275.1 1981.7 277.9 1975.6 280.7 1970.3 283.5 1967.3 286.3 1961.1 289.0 1958.6 291.8 1952.1 294.6 1949.0 297.4 1945.6 300.2 1942.0 302.9 1942.9 305.7 1938.7 308.5 1933.2 311.3 1931.9 314.1 1926.7 316.8 1927.4 319.6 1924.7 322.4 1920.7 325.2 1918.2 328.0 1916.3 330.7 1913.6 333.5 1909.7 336.3 1906.3 339.1 1903.9 341.9 1901.5 344.6 1900.8 347.4 1898.2 350.2 1896.4 353.0 1892.5 355.8 1892.2 358.5 1890.5 361.3 1888.7 364.1 1887.5 366.9 1885.6 369.7 1882.7 372.4 1883.6 375.2 1881.9 378.0 1878.7 380.8 1878.2 383.6 1875.1 386.3 1873.4 389.1 1873.1 391.9 1873.6 394.7 1870.4 397.5 1867.5 400.2 1868.0 403.0 1865.7 405.8 1864.2 408.6 1863.9 411.4 1860.3 414.1 1858.9 416.9 1857.8 419.7 1859.1 422.5 1856.7 425.3 1854.6 428.0 1853.1 430.8 1853.2 433.6 1852.4 436.4 1848.9 439.2 1848.6 441.9 1849.6 444.7 1846.7 447.5 1844.6 450.3 1844.2 453.1 1842.8 455.8 1842.3 458.6 1840.9 461.4 1838.9 464.2 1838.2 467.0 1837.6 469.7 1835.5 472.5 1835.4 475.3 1833.6 478.1 1835.0 480.9 1834.5 483.6 1831.1 486.4 1832.1 489.2 1830.5 492.0 1829.6 494.8 1828.4 497.5 1828.2 500.3 1828.1 503.1 1824.9 505.9 1826.4 508.7 1824.3 511.4 1822.5 514.2 1822.8 517.0 1822.7 519.8 1821.1 522.6 1820.7 525.3 1819.2 528.1 1818.1 530.9 1818.8 533.7 1815.8 536.5 1817.0 539.2 1815.4 542.0 1814.1 544.8 1813.8 547.6 1813.3 550.4 1813.2 553.1 1812.7 555.9 1812.2 558.7 1809.8 561.5 1809.1 564.3 1811.5 567.0 1810.0 569.8 1809.6 572.6 1809.7 575.4 1808.2 578.2 1810.9 580.9 1808.6 583.7 1808.0 586.5 1806.6 589.3 1808.4 592.1 1807.8 594.8 1808.3 597.6 1807.2 600.4 1804.9 603.2 1804.0 606.0 1806.9 608.7 1804.2 611.5 1804.6 614.3 1804.3 617.1 1804.8 619.9 1804.6 622.6 1802.4 625.4 1802.6 628.2 1800.9 631.0 1803.5 633.8 1802.3 636.5 1800.1 639.3 1803.3 642.1 1801.7 644.9 1800.1 647.7 1800.6 650.4 1800.1 653.2 1800.7 656.0 1800.6 658.8 1799.2 661.6 1800.2 664.3 1796.0 667.1 1798.5 669.9 1799.5 672.7 1799.5 675.5 1799.0 678.2 1796.3 681.0 1795.1 683.8 1796.5 686.6 1799.7 689.4 1796.7 692.1 1795.0 694.9 1793.4 697.7 1795.5 700.5 1794.6 703.3 1796.2 706.0 1796.1 708.8 1793.0 711.6 1796.3 714.4 1797.9 717.2 1796.4 719.9 1795.9 722.7 1796.2 725.5 1796.3 728.3 1801.5 731.1 1800.7 733.8 1798.3 736.6 1801.3 739.4 1798.3 742.2 1799.4 745.0 1799.2 747.7 1800.0 750.5 1801.2 753.3 1803.1 756.1 1801.3 758.9 1800.1 761.6 1800.5 764.4 1799.9 767.2 1800.8 770.0 1799.1 772.8 1800.6 775.5 1800.9 778.3 1801.6 781.1 1799.1 783.9 1800.9 786.7 1800.7 789.4 1799.1 792.2 1797.5 795.0 1799.5 797.8 1801.5 800.6 1799.9 803.3 1803.5 806.1 1801.1 808.9 1799.2 811.7 1800.1 814.5 1800.9 817.2 1800.9 820.0 1799.9 822.8 1800.9 825.6 1804.5 828.4 1801.6 831.1 1800.5 833.9 1799.5 836.7 1797.5 839.5 1800.3 842.3 1799.4 845.0 1799.8 847.8 1799.0 850.6 1800.9 853.4 1801.3 856.2 1798.6 858.9 1797.6 861.7 1800.0 864.5 1801.4 867.3 1800.0 870.1 1800.0 872.8 1797.2 875.6 1798.4 878.4 1799.9 881.2 1799.6 884.0 1798.9 886.7 1799.7 889.5 1800.1 892.3 1799.1 895.1 1797.9 897.9 1796.9 900.6 1799.4 903.4 1798.9 906.2 1798.9 909.0 1800.9 911.8 1798.3 914.5 1798.9 917.3 1800.4 920.1 1798.1 922.9 1796.3 925.7 1798.7 928.4 1800.8 931.2 1798.8 934.0 1799.4 936.8 1797.0 939.6 1801.6 942.3 1797.2 945.1 1798.9 947.9 1799.7 950.7 1803.0 953.5 1800.3 956.2 1799.1 959.0 1797.9 795.6 1785.7 898.7 1777.0 946.6 1768.3 955.3 1779.9 859.5 1787.1 893.0 1786.0" fill="none" stroke="none" marker-start="url(#mor)" marker-mid="url(#mor)" marker-end="url(#mor)"/><path d="M125.4 2082.3 132.7 2091.4 138.1 2118.5 140.9 2107.3 143.7 2119.6 146.4 2121.8 149.2 2123.1 152.0 2124.0 154.8 2123.5 157.6 2125.0 160.3 2126.7 163.1 2129.1 165.9 2125.0 168.7 2129.4 171.5 2126.1 174.2 2124.3 177.0 2122.7 179.8 2120.3 182.6 2119.1 185.4 2128.5 188.1 2130.0 190.9 2134.4 193.7 2136.4 196.5 2129.4 199.3 2128.3 202.0 2122.5 204.8 2129.2 207.6 2119.8 210.4 2117.2 213.2 2107.9 215.9 2101.9 218.7 2101.1 221.5 2098.7 224.3 2088.9 227.1 2073.5 229.8 2078.9 232.6 2069.3 235.4 2067.3 238.2 2062.9 241.0 2056.8 243.7 2053.8 246.5 2043.4 249.3 2028.3 252.1 2011.6 254.9 2004.9 257.6 1995.5 260.4 1988.6 263.2 1975.3 266.0 1959.0 268.8 1958.2 271.5 1955.1 274.3 1955.8 277.1 1947.0 279.9 1946.3 282.7 1939.4 285.4 1929.5 288.2 1929.5 291.0 1927.0 293.8 1922.3 296.6 1912.2 299.3 1913.9 302.1 1907.3 304.9 1900.1 307.7 1901.8 310.5 1895.0 313.2 1894.3 316.0 1899.4 318.8 1899.9 321.6 1893.5 324.4 1889.3 327.1 1891.1 329.9 1884.5 332.7 1878.7 335.5 1872.5 338.3 1879.7 341.0 1868.9 343.8 1865.2 346.6 1869.2 349.4 1869.1 352.2 1864.6 354.9 1867.6 357.7 1862.5 360.5 1861.2 363.3 1859.8 366.1 1855.0 368.8 1855.0 371.6 1858.5 374.4 1847.8 377.2 1848.6 380.0 1847.5 382.7 1842.0 385.5 1840.0 388.3 1832.4 391.1 1832.3 393.9 1830.2 396.6 1830.1 399.4 1828.6 402.2 1823.7 405.0 1821.3 407.8 1827.5 410.5 1824.0 413.3 1815.9 416.1 1818.7 418.9 1816.2 421.7 1815.9 424.4 1812.0 427.2 1814.1 430.0 1812.8 432.8 1812.4 435.6 1814.4 438.3 1811.3 441.1 1806.3 443.9 1803.3 446.7 1804.6 449.5 1807.1 452.2 1804.9 455.0 1799.4 457.8 1802.1 460.6 1798.6 463.4 1794.4 466.1 1795.3 468.9 1792.5 471.7 1789.1 474.5 1789.9 477.3 1790.6 480.0 1792.6 482.8 1785.9 485.6 1788.3 488.4 1786.9 491.2 1785.9 493.9 1782.1 496.7 1787.5 499.5 1786.8 502.3 1786.7 505.1 1783.0 507.8 1784.7 510.6 1781.6 513.4 1781.9 516.2 1777.7 519.0 1778.3 521.7 1776.1 524.5 1773.4 527.3 1774.2 530.1 1771.9 532.9 1771.3 535.6 1772.5 538.4 1771.4 541.2 1777.5 544.0 1776.3 546.8 1774.1 549.5 1772.8 552.3 1768.2 555.1 1770.6 557.9 1765.8 560.7 1767.3 563.4 1767.2 566.2 1767.0 569.0 1769.6 571.8 1765.0 574.6 1772.5 577.3 1764.7 580.1 1767.6 582.9 1761.0 585.7 1766.8 588.5 1760.9 591.2 1764.0 594.0 1763.0 596.8 1764.6 599.6 1763.7 602.4 1762.8 605.1 1761.1 607.9 1766.1 610.7 1759.6 613.5 1760.5 616.3 1758.9 619.0 1760.1 621.8 1757.0 624.6 1758.0 627.4 1760.0 630.2 1756.9 632.9 1759.2 635.7 1756.2 638.5 1760.9 641.3 1756.7 644.1 1761.1 646.8 1757.6 649.6 1755.6 652.4 1758.0 655.2 1758.2 658.0 1758.9 660.7 1758.4 663.5 1757.0 666.3 1751.7 669.1 1756.8 671.9 1754.1 674.6 1755.2 677.4 1757.3 680.2 1752.1 683.0 1757.2 685.8 1759.7 688.5 1754.9 691.3 1752.6 694.1 1756.7 696.9 1753.6 699.7 1755.6 702.4 1756.0 705.2 1748.9 708.0 1753.3 710.8 1748.6 713.6 1750.5 716.3 1753.6 719.1 1749.0 721.9 1750.0 724.7 1750.5 727.5 1752.3 730.2 1752.3 733.0 1752.4 735.8 1749.8 738.6 1749.1 741.4 1751.9 744.1 1748.5 746.9 1748.6 749.7 1752.4 752.5 1748.6 755.3 1748.3 758.0 1753.3 760.8 1750.3 763.6 1744.8 766.4 1748.5 769.2 1755.2 771.9 1757.4 774.7 1749.5 777.5 1751.9 780.3 1752.0 783.1 1750.9 785.8 1745.5 788.6 1752.5 791.4 1750.6 794.2 1749.3 797.0 1745.8 799.7 1748.2 802.5 1749.5 805.3 1749.1 808.1 1750.2 810.9 1748.7 813.6 1752.1 816.4 1751.1 819.2 1746.6 822.0 1747.9 824.8 1750.5 827.5 1748.0 830.3 1752.8 833.1 1747.9 835.9 1749.9 838.7 1750.8 841.4 1746.5 844.2 1752.4 847.0 1748.8 849.8 1747.5 852.6 1747.6 855.3 1745.0 858.1 1745.9 860.9 1753.1 863.7 1749.0 866.5 1748.6 869.2 1749.8 872.0 1750.7 874.8 1747.3 877.6 1748.8 880.4 1750.0 883.1 1751.8 885.9 1749.9 888.7 1753.5 891.5 1749.0 894.3 1749.0 897.0 1746.7 899.8 1750.3 902.6 1752.3 905.4 1750.3 908.2 1750.8 910.9 1749.1 913.7 1750.3 916.5 1751.0 919.3 1752.1 922.1 1755.3 924.8 1754.2 927.6 1755.5 930.4 1756.4 933.2 1752.6 936.0 1757.3 938.7 1754.4 941.5 1751.2 944.3 1753.3 947.1 1754.9 949.9 1751.5 952.6 1761.4 955.4 1755.8 958.2 1758.3 961.0 1753.4 185.1 2096.8 199.6 2073.3 205.0 2049.8 217.7 2055.2 228.6 2057.0 212.0 2062.0 147.0 2163.8 152.0 2160.0 158.0 2166.0 165.0 2162.0" fill="none" stroke="none" marker-start="url(#mdg)" marker-mid="url(#mdg)" marker-end="url(#mdg)"/><path d="M122.9 2068.9 127.0 2080.0 131.6 2089.2 134.5 2105.0 137.4 2124.0 143.2 2144.4 157.8 2103.7 147.0 2150.0 150.0 2157.8 152.8 2151.7 155.6 2169.3 158.3 2179.1 161.1 2166.4 163.9 2171.7 166.7 2171.3 169.5 2168.3 172.2 2167.9 175.0 2169.2 177.8 2161.0 180.6 2153.5 183.4 2152.1 186.1 2164.7 188.9 2163.1 191.7 2160.0 194.5 2148.5 197.3 2161.1 200.0 2163.5 202.8 2160.0 205.6 2162.7 208.4 2179.7 211.2 2176.4 213.9 2174.5 216.7 2172.8 219.5 2169.8 222.3 2171.3 225.1 2178.1 227.8 2170.8 230.6 2175.2 233.4 2186.4 236.2 2171.5 239.0 2175.3 241.7 2189.7 244.5 2182.1 247.3 2181.0 250.1 2175.5 252.9 2172.3 255.6 2186.6 258.4 2166.0 261.2 2182.6 264.0 2177.1 266.8 2179.6 269.5 2168.8 272.3 2185.0 275.1 2183.4 277.9 2181.7 280.7 2182.5 283.4 2172.8 286.2 2181.1 289.0 2182.8 291.8 2179.8 294.6 2163.0 297.3 2179.6 300.1 2180.8 302.9 2174.1 305.7 2180.6 308.5 2187.3 311.2 2179.8 314.0 2187.5 316.8 2177.4 319.6 2176.3 322.4 2181.8 325.1 2175.5 327.9 2171.1 330.7 2182.2 333.5 2180.4 336.3 2183.6 339.0 2175.6 341.8 2178.0 344.6 2183.1 347.4 2177.8 350.2 2179.3 352.9 2181.7 355.7 2176.4 358.5 2181.8 361.3 2172.4 364.1 2183.2 366.8 2195.2 369.6 2184.1 372.4 2178.4 375.2 2171.7 378.0 2174.2 380.7 2179.0 383.5 2176.4 386.3 2183.3 389.1 2181.4 391.9 2184.8 394.6 2179.4 397.4 2185.0 400.2 2188.1 403.0 2175.8 405.8 2180.1 408.5 2180.0 411.3 2180.2 414.1 2187.0 416.9 2178.9 419.7 2175.9 422.4 2173.5 425.2 2172.7 428.0 2180.2 430.8 2185.7 433.6 2181.1 436.3 2176.4 439.1 2179.9 441.9 2175.9 444.7 2186.4 447.5 2181.5 450.2 2188.8 453.0 2184.5 455.8 2184.4 458.6 2175.8 461.4 2183.7 464.1 2178.9 466.9 2178.0 469.7 2182.0 472.5 2189.9 475.3 2183.8 478.0 2192.0 480.8 2184.8 483.6 2173.7 486.4 2178.3 489.2 2191.4 491.9 2184.4 494.7 2181.7 497.5 2178.8 500.3 2182.2 503.1 2183.6 505.8 2179.1 508.6 2181.1 511.4 2182.9 514.2 2175.6 517.0 2180.1 519.7 2177.5 522.5 2178.1 525.3 2176.7 528.1 2178.1 530.9 2177.1 533.6 2190.9 536.4 2180.6 539.2 2183.5 542.0 2177.3 544.8 2182.3 547.5 2184.0 550.3 2190.2 553.1 2190.9 555.9 2179.3 558.7 2191.2 561.4 2182.1 564.2 2188.3 567.0 2181.4 569.8 2185.7 572.6 2181.3 575.3 2174.6 578.1 2184.9 580.9 2180.2 583.7 2181.2 586.5 2183.2 589.2 2184.6 592.0 2195.2 594.8 2176.2 597.6 2179.3 600.4 2176.9 603.1 2188.6 605.9 2180.4 608.7 2178.8 611.5 2184.5 614.3 2182.4 617.0 2184.9 619.8 2174.2 622.6 2182.1 625.4 2185.2 628.2 2179.0 630.9 2188.7 633.7 2181.6 636.5 2178.0 639.3 2179.9 642.1 2184.9 644.8 2187.7 647.6 2179.6 650.4 2185.2 653.2 2180.3 656.0 2177.4 658.7 2176.9 661.5 2186.1 664.3 2179.8 667.1 2183.0 669.9 2190.9 672.6 2187.5 675.4 2180.1 678.2 2180.8 681.0 2183.7 683.8 2171.2 686.5 2185.8 689.3 2178.5 692.1 2186.1 694.9 2178.5 697.7 2180.5 700.4 2186.6 703.2 2185.7 706.0 2191.9 708.8 2179.9 711.6 2179.2 714.3 2190.3 717.1 2185.2 719.9 2176.2 722.7 2179.9 725.5 2184.6 728.2 2179.8 731.0 2174.8 733.8 2182.7 736.6 2184.8 739.4 2189.2 742.1 2188.3 744.9 2186.6 747.7 2178.1 750.5 2176.1 753.3 2177.1 756.0 2185.5 758.8 2187.2 761.6 2172.6 764.4 2185.4 767.2 2187.2 769.9 2190.5 772.7 2186.5 775.5 2187.6 778.3 2183.8 781.1 2181.0 783.8 2181.8 786.6 2182.3 789.4 2176.5 792.2 2182.0 795.0 2187.9 797.7 2180.9 800.5 2189.1 803.3 2178.0 806.1 2184.9 808.9 2178.5 811.6 2188.3 814.4 2186.4 817.2 2187.7 820.0 2187.0 822.8 2185.4 825.5 2188.6 828.3 2183.8 831.1 2169.8 833.9 2183.4 836.7 2185.4 839.4 2170.6 842.2 2188.9 845.0 2182.4 847.8 2188.2 850.6 2181.2 853.3 2183.8 856.1 2178.4 858.9 2181.5 861.7 2174.5 864.5 2184.1 867.2 2180.8 870.0 2179.4 872.8 2178.9 875.6 2177.7 878.4 2182.7 881.1 2182.3 883.9 2181.2 886.7 2190.0 889.5 2177.2 892.3 2180.6 895.0 2175.9 897.8 2181.5 900.6 2181.9 903.4 2173.3 906.2 2184.7 908.9 2172.1 911.7 2180.1 914.5 2181.4 917.3 2176.0 920.1 2190.1 922.8 2183.8 925.6 2176.0 928.4 2184.9 931.2 2185.0 934.0 2180.0 936.7 2178.6 939.5 2188.0 942.3 2195.2 945.1 2184.3 947.9 2194.3 950.6 2174.0 953.4 2174.4 956.2 2183.5 959.0 2179.7" fill="none" stroke="none" marker-start="url(#muy)" marker-mid="url(#muy)" marker-end="url(#muy)"/><path d="M122.9 1990.4 127.3 2025.3 128.7 2103.7 131.6 2121.1 133.1 2153.1 140.0 2180.0 149.0 2186.4 151.8 2189.7 154.6 2188.5 157.3 2187.6 160.1 2189.3 162.9 2187.3 165.7 2190.8 168.5 2189.1 171.2 2188.5 174.0 2189.5 176.8 2187.5 179.6 2189.4 182.4 2189.9 185.1 2190.0 187.9 2189.6 190.7 2188.0 193.5 2189.5 196.3 2187.8 199.0 2189.5 201.8 2188.8 204.6 2188.7 207.4 2190.3 210.2 2191.7 212.9 2191.2 215.7 2189.4 218.5 2189.4 221.3 2188.9 224.1 2189.4 226.8 2190.2 229.6 2190.6 232.4 2189.7 235.2 2190.2 238.0 2189.1 240.7 2189.8 243.5 2191.8 246.3 2191.9 249.1 2191.1 251.9 2190.7 254.6 2190.9 257.4 2190.1 260.2 2189.6 263.0 2191.4 265.8 2189.8 268.5 2191.4 271.3 2189.8 274.1 2190.9 276.9 2192.6 279.7 2191.6 282.4 2190.8 285.2 2191.2 288.0 2189.4 290.8 2191.9 293.6 2190.1 296.3 2190.1 299.1 2190.2 301.9 2191.0 304.7 2190.2 307.5 2190.3 310.2 2191.4 313.0 2191.1 315.8 2192.2 318.6 2191.7 321.4 2192.1 324.1 2189.8 326.9 2191.0 329.7 2191.5 332.5 2191.8 335.3 2190.6 338.0 2191.5 340.8 2192.0 343.6 2190.0 346.4 2190.1 349.2 2190.1 351.9 2191.2 354.7 2189.8 357.5 2190.9 360.3 2190.4 363.1 2189.9 365.8 2189.1 368.6 2193.2 371.4 2192.2 374.2 2192.0 377.0 2189.3 379.7 2191.8 382.5 2190.6 385.3 2189.7 388.1 2190.3 390.9 2190.4 393.6 2192.5 396.4 2191.1 399.2 2190.9 402.0 2191.4 404.8 2191.4 407.5 2189.7 410.3 2192.1 413.1 2191.2 415.9 2192.0 418.7 2192.8 421.4 2190.8 424.2 2193.5 427.0 2190.9 429.8 2191.0 432.6 2189.2 435.3 2192.8 438.1 2191.3 440.9 2191.0 443.7 2191.0 446.5 2192.2 449.2 2192.8 452.0 2192.5 454.8 2191.5 457.6 2191.2 460.4 2190.0 463.1 2191.3 465.9 2192.5 468.7 2191.7 471.5 2194.1 474.3 2193.2 477.0 2192.0 479.8 2192.8 482.6 2192.6 485.4 2191.6 488.2 2192.1 490.9 2191.0 493.7 2192.3 496.5 2193.7 499.3 2192.2 502.1 2194.5 504.8 2192.6 507.6 2193.6 510.4 2193.4 513.2 2192.3 516.0 2191.9 518.7 2193.5 521.5 2193.9 524.3 2193.2 527.1 2193.1 529.9 2190.5 532.6 2192.7 535.4 2194.3 538.2 2194.5 541.0 2193.9 543.8 2192.8 546.5 2194.5 549.3 2193.4 552.1 2194.6 554.9 2195.3 557.7 2192.9 560.4 2193.6 563.2 2194.1 566.0 2194.3 568.8 2194.0 571.6 2194.8 574.3 2194.9 577.1 2193.4 579.9 2193.9 582.7 2195.1 585.5 2193.0 588.2 2193.5 591.0 2192.0 593.8 2193.2 596.6 2196.1 599.4 2196.3 602.1 2193.8 604.9 2196.0 607.7 2194.7 610.5 2194.7 613.3 2194.2 616.0 2195.5 618.8 2192.9 621.6 2195.8 624.4 2194.6 627.2 2194.4 629.9 2192.7 632.7 2196.8 635.5 2195.3 638.3 2194.8 641.1 2194.6 643.8 2195.5 646.6 2194.1 649.4 2194.9 652.2 2195.4 655.0 2193.9 657.7 2194.0 660.5 2195.8 663.3 2193.8 666.1 2193.9 668.9 2195.2 671.6 2196.8 674.4 2196.6 677.2 2193.8 680.0 2196.9 682.8 2193.5 685.5 2194.4 688.3 2195.3 691.1 2195.8 693.9 2195.7 696.7 2195.4 699.4 2193.1 702.2 2193.4 705.0 2195.0 707.8 2195.5 710.6 2195.0 713.3 2194.4 716.1 2195.3 718.9 2196.0 721.7 2192.2 724.5 2196.4 727.2 2196.9 730.0 2195.9 732.8 2194.5 735.6 2195.2 738.4 2195.3 741.1 2197.3 743.9 2195.6 746.7 2196.1 749.5 2196.3 752.3 2195.5 755.0 2194.7 757.8 2193.7 760.6 2194.7 763.4 2196.2 766.2 2196.2 768.9 2193.5 771.7 2195.0 774.5 2195.5 777.3 2196.2 780.1 2195.1 782.8 2195.1 785.6 2195.5 788.4 2196.0 791.2 2195.6 794.0 2194.8 796.7 2195.3 799.5 2195.7 802.3 2195.0 805.1 2195.5 807.9 2195.4 810.6 2194.1 813.4 2197.5 816.2 2195.6 819.0 2196.6 821.8 2197.7 824.5 2196.1 827.3 2195.0 830.1 2195.8 832.9 2195.1 835.7 2195.5 838.4 2196.6 841.2 2195.2 844.0 2196.5 846.8 2196.2 849.6 2197.5 852.3 2196.5 855.1 2196.9 857.9 2196.7 860.7 2195.6 863.5 2195.8 866.2 2195.1 869.0 2195.0 871.8 2198.2 874.6 2195.1 877.4 2197.3 880.1 2196.0 882.9 2195.1 885.7 2196.3 888.5 2197.1 891.3 2197.2 894.0 2197.4 896.8 2196.2 899.6 2196.7 902.4 2195.7 905.2 2195.6 907.9 2197.1 910.7 2197.3 913.5 2196.2 916.3 2196.4 919.1 2195.8 921.8 2196.5 924.6 2195.3 927.4 2196.6 930.2 2196.5 933.0 2196.3 935.7 2198.6 938.5 2195.8 941.3 2196.9 944.1 2197.3 946.9 2195.8 949.6 2197.5 952.4 2195.8 955.2 2197.1 958.0 2196.8 960.8 2198.2" fill="none" stroke="none" marker-start="url(#msb)" marker-mid="url(#msb)" marker-end="url(#msb)"/><path d="M122.9 2023.8 122.9 2106.6 128.7 2176.3 131.5 2175.6 134.3 2178.5 137.0 2166.1 139.8 2180.3 142.6 2176.0 145.4 2171.5 148.2 2174.2 150.9 2175.5 153.7 2177.9 156.5 2177.5 159.3 2177.8 162.1 2176.7 164.8 2177.9 167.6 2177.8 170.4 2177.7 173.2 2177.0 176.0 2179.6 178.7 2179.5 181.5 2180.7 184.3 2179.6 187.1 2179.9 189.9 2179.6 192.6 2179.4 195.4 2182.5 198.2 2179.9 201.0 2179.9 203.8 2180.5 206.5 2181.5 209.3 2181.1 212.1 2182.5 214.9 2180.5 217.7 2181.6 220.4 2179.7 223.2 2180.0 226.0 2182.1 228.8 2167.6 231.6 2181.7 234.3 2182.5 237.1 2180.9 239.9 2182.5 242.7 2182.4 245.5 2182.2 248.2 2182.9 251.0 2193.1 253.8 2182.8 256.6 2182.8 259.4 2185.5 262.1 2183.4 264.9 2183.3 267.7 2183.6 270.5 2184.4 273.3 2182.3 276.0 2184.6 278.8 2183.8 281.6 2183.2 284.4 2184.6 287.2 2183.6 289.9 2182.7 292.7 2184.5 295.5 2180.1 298.3 2170.2 301.1 2171.5 303.8 2184.7 306.6 2183.6 309.4 2183.1 312.2 2183.1 315.0 2182.3 317.7 2184.0 320.5 2183.1 323.3 2183.8 326.1 2181.2 328.9 2183.1 331.6 2182.0 334.4 2190.7 337.2 2182.2 340.0 2183.6 342.8 2178.7 345.5 2181.8 348.3 2185.9 351.1 2181.3 353.9 2183.5 356.7 2182.9 359.4 2183.6 362.2 2180.3 365.0 2182.3 367.8 2181.9 370.6 2181.0 373.3 2183.1 376.1 2182.2 378.9 2184.0 381.7 2183.3 384.5 2180.3 387.2 2182.4 390.0 2182.3 392.8 2183.9 395.6 2181.8 398.4 2182.2 401.1 2182.6 403.9 2182.6 406.7 2182.0 409.5 2180.6 412.3 2183.7 415.0 2181.9 417.8 2181.3 420.6 2182.3 423.4 2181.5 426.2 2182.3 428.9 2180.3 431.7 2181.4 434.5 2184.0 437.3 2183.7 440.1 2182.9 442.8 2181.9 445.6 2183.4 448.4 2181.7 451.2 2184.0 454.0 2183.6 456.7 2181.5 459.5 2183.4 462.3 2180.0 465.1 2182.1 467.9 2180.9 470.6 2180.4 473.4 2181.6 476.2 2182.8 479.0 2184.0 481.8 2181.5 484.5 2183.0 487.3 2168.6 490.1 2182.3 492.9 2183.9 495.7 2184.4 498.4 2182.3 501.2 2193.0 504.0 2181.1 506.8 2182.6 509.6 2182.8 512.3 2183.1 515.1 2185.0 517.9 2181.8 520.7 2182.5 523.5 2183.3 526.2 2182.4 529.0 2181.0 531.8 2182.3 534.6 2184.0 537.4 2184.4 540.1 2182.6 542.9 2182.4 545.7 2181.1 548.5 2185.0 551.3 2184.2 554.0 2182.0 556.8 2184.8 559.6 2182.8 562.4 2181.1 565.2 2181.9 567.9 2183.4 570.7 2182.4 573.5 2182.2 576.3 2183.0 579.1 2184.2 581.8 2184.7 584.6 2184.4 587.4 2183.2 590.2 2182.5 593.0 2183.4 595.7 2179.8 598.5 2181.4 601.3 2182.2 604.1 2181.6 606.9 2181.0 609.6 2182.7 612.4 2182.6 615.2 2182.1 618.0 2187.6 620.8 2181.4 623.5 2180.3 626.3 2181.4 629.1 2181.9 631.9 2180.3 634.7 2186.8 637.4 2182.3 640.2 2180.4 643.0 2181.0 645.8 2181.3 648.6 2179.4 651.3 2177.9 654.1 2181.6 656.9 2179.3 659.7 2179.8 662.5 2181.3 665.2 2177.6 668.0 2180.4 670.8 2179.8 673.6 2178.8 676.4 2177.9 679.1 2180.3 681.9 2179.4 684.7 2178.6 687.5 2181.1 690.3 2179.4 693.0 2180.7 695.8 2177.7 698.6 2176.5 701.4 2175.6 704.2 2177.4 706.9 2178.6 709.7 2181.1 712.5 2180.4 715.3 2178.1 718.1 2178.3 720.8 2178.4 723.6 2177.7 726.4 2178.6 729.2 2178.1 732.0 2180.7 734.7 2169.1 737.5 2177.6 740.3 2177.6 743.1 2177.4 745.9 2179.0 748.6 2177.4 751.4 2178.6 754.2 2178.2 757.0 2179.5 759.8 2175.4 762.5 2177.9 765.3 2178.5 768.1 2175.7 770.9 2179.0 773.7 2178.1 776.4 2176.4 779.2 2178.5 782.0 2177.4 784.8 2180.6 787.6 2176.5 790.3 2175.9 793.1 2179.5 795.9 2173.0 798.7 2177.2 801.5 2178.2 804.2 2176.1 807.0 2175.0 809.8 2177.4 812.6 2175.2 815.4 2178.7 818.1 2176.4 820.9 2176.5 823.7 2174.0 826.5 2176.6 829.3 2176.0 832.0 2175.1 834.8 2177.0 837.6 2175.7 840.4 2175.9 843.2 2178.1 845.9 2176.7 848.7 2176.7 851.5 2174.6 854.3 2176.8 857.1 2176.6 859.8 2177.9 862.6 2180.5 865.4 2180.8 868.2 2178.8 871.0 2180.0 873.7 2178.9 876.5 2178.9 879.3 2174.3 882.1 2177.5 884.9 2180.6 887.6 2176.1 890.4 2180.5 893.2 2175.8 896.0 2180.4 898.8 2181.1 901.5 2177.8 904.3 2178.7 907.1 2181.0 909.9 2178.8 912.7 2182.3 915.4 2179.9 918.2 2179.7 921.0 2182.0 923.8 2180.6 926.6 2181.1 929.3 2181.5 932.1 2182.1 934.9 2180.2 937.7 2178.0 940.5 2181.8 943.2 2178.9 946.0 2186.8 948.8 2180.6 951.6 2181.5 954.4 2182.0 957.1 2185.0 959.9 2179.4" fill="none" stroke="none" marker-start="url(#msm)" marker-mid="url(#msm)" marker-end="url(#msm)"/></g>
<line x1="115" x2="124" y1="1737.5" y2="1737.5" stroke="#000" stroke-width="3"/>
<line x1="115" x2="124" y1="2174.4" y2="2174.4" stroke="#000" stroke-width="3"/>
<line x1="124" x2="124" y1="2305" y2="2313.5" stroke="#000" stroke-width="3"/>
<text x="118.35" y="2351.7" font-size="30.4">0</text>
<line x1="257.34" x2="257.34" y1="2305" y2="2313.5" stroke="#000" stroke-width="3"/>
<text x="252.25" y="2351.7" font-size="30.4">8</text>
<line x1="390.67" x2="390.67" y1="2305" y2="2313.5" stroke="#000" stroke-width="3"/>
<text x="373.6" y="2351.7" font-size="30.4">16</text>
<line x1="524.01" x2="524.01" y1="2305" y2="2313.5" stroke="#000" stroke-width="3"/>
<text x="504.97" y="2351.7" font-size="30.4">24</text>
<line x1="657.34" x2="657.34" y1="2305" y2="2313.5" stroke="#000" stroke-width="3"/>
<text x="639.38" y="2351.7" font-size="30.4">32</text>
<line x1="790.68" x2="790.68" y1="2305" y2="2313.5" stroke="#000" stroke-width="3"/>
<text x="774.94" y="2351.7" font-size="30.4">40</text>
<line x1="924.02" x2="924.02" y1="2305" y2="2313.5" stroke="#000" stroke-width="3"/>
<text x="908.3" y="2351.7" font-size="30.4">48</text>
<text x="85.68" y="1746.2" font-size="30.4">1</text>
<text x="62.9" y="2183.1" font-size="29">0.1</text>
<text x="489.22" y="2405.1" font-size="30.4">time [h]</text>
<text transform="translate(10.4,2129.8) rotate(90)" font-size="30.4" text-anchor="middle">log OD600</text>
<text x="132.48" y="1746.2" font-size="38">BAC-C12</text>
<text x="133.34" y="1795.1" font-size="38">smectite</text>
<text x="1084.25" y="116.7" font-size="37">d</text>
<rect x="1165.5" y="132.9" width="833.7" height="601.7" fill="none" stroke="#000" stroke-width="3"/>
<g><path d="M1164.4 455.3 1168.7 522.1 1171.6 580.2 1174.5 620.9 1177.4 621.2 1180.2 620.9 1183.0 620.2 1185.7 621.5 1188.5 621.1 1191.3 621.1 1194.1 621.0 1196.9 621.9 1199.6 621.5 1202.4 621.7 1205.2 620.7 1208.0 620.6 1210.8 620.3 1213.5 620.8 1216.3 619.2 1219.1 621.9 1221.9 621.0 1224.7 621.0 1227.4 621.5 1230.2 620.7 1233.0 620.7 1235.8 618.2 1238.6 613.9 1241.3 613.2 1244.1 608.0 1246.9 604.1 1249.7 598.9 1252.5 595.0 1255.2 591.2 1258.0 584.2 1260.8 578.8 1263.6 573.8 1266.4 567.1 1269.1 556.3 1271.9 550.4 1274.7 541.3 1277.5 533.3 1280.3 523.8 1283.0 516.3 1285.8 508.8 1288.6 499.1 1291.4 489.7 1294.2 480.8 1296.9 471.7 1299.7 463.6 1302.5 454.8 1305.3 446.1 1308.1 438.5 1310.8 429.0 1313.6 421.1 1316.4 415.9 1319.2 406.2 1322.0 400.0 1324.7 392.4 1327.5 386.1 1330.3 380.4 1333.1 373.3 1335.9 368.4 1338.6 364.9 1341.4 360.8 1344.2 357.6 1347.0 354.5 1349.8 349.0 1352.5 346.4 1355.3 344.7 1358.1 341.7 1360.9 339.4 1363.7 335.5 1366.4 334.4 1369.2 332.0 1372.0 329.1 1374.8 328.5 1377.6 325.2 1380.3 324.6 1383.1 322.0 1385.9 320.3 1388.7 319.8 1391.5 317.5 1394.2 314.9 1397.0 313.1 1399.8 310.5 1402.6 310.0 1405.4 307.8 1408.1 305.1 1410.9 302.7 1413.7 302.0 1416.5 300.1 1419.3 299.0 1422.0 295.9 1424.8 294.2 1427.6 293.2 1430.4 291.2 1433.2 290.0 1435.9 288.3 1438.7 285.1 1441.5 282.4 1444.3 282.1 1447.1 279.8 1449.8 278.6 1452.6 275.2 1455.4 275.3 1458.2 273.9 1461.0 272.0 1463.7 271.2 1466.5 269.4 1469.3 267.9 1472.1 267.1 1474.9 265.6 1477.6 264.0 1480.4 262.0 1483.2 260.6 1486.0 259.7 1488.8 258.2 1491.5 256.3 1494.3 255.8 1497.1 254.9 1499.9 252.7 1502.7 251.0 1505.4 250.9 1508.2 248.8 1511.0 247.4 1513.8 247.4 1516.6 245.8 1519.3 246.1 1522.1 244.7 1524.9 244.3 1527.7 244.1 1530.5 243.3 1533.2 241.7 1536.0 239.4 1538.8 239.7 1541.6 238.5 1544.4 239.0 1547.1 238.6 1549.9 237.2 1552.7 236.3 1555.5 235.4 1558.3 234.7 1561.0 233.1 1563.8 233.1 1566.6 231.5 1569.4 230.4 1572.2 230.5 1574.9 230.9 1577.7 229.1 1580.5 227.5 1583.3 229.0 1586.1 228.0 1588.8 227.7 1591.6 226.7 1594.4 226.9 1597.2 227.2 1600.0 225.3 1602.7 225.8 1605.5 225.1 1608.3 223.9 1611.1 224.2 1613.9 224.0 1616.6 222.7 1619.4 223.6 1622.2 221.7 1625.0 222.7 1627.8 222.0 1630.5 221.3 1633.3 220.2 1636.1 219.8 1638.9 218.5 1641.7 219.6 1644.4 219.3 1647.2 219.5 1650.0 219.5 1652.8 218.7 1655.6 218.1 1658.3 218.6 1661.1 217.7 1663.9 217.4 1666.7 216.4 1669.5 217.6 1672.2 216.2 1675.0 217.6 1677.8 215.5 1680.6 215.5 1683.4 215.6 1686.1 214.8 1688.9 214.0 1691.7 213.9 1694.5 213.9 1697.3 214.0 1700.0 214.5 1702.8 214.0 1705.6 213.5 1708.4 213.5 1711.2 211.3 1713.9 212.1 1716.7 211.8 1719.5 211.2 1722.3 211.9 1725.1 210.9 1727.8 210.4 1730.6 211.3 1733.4 210.1 1736.2 210.1 1739.0 209.0 1741.7 210.2 1744.5 209.4 1747.3 210.0 1750.1 210.2 1752.9 209.0 1755.6 208.1 1758.4 207.6 1761.2 209.0 1764.0 207.6 1766.8 207.9 1769.5 207.4 1772.3 204.9 1775.1 207.0 1777.9 206.8 1780.7 206.6 1783.4 206.2 1786.2 206.2 1789.0 205.2 1791.8 206.0 1794.6 205.1 1797.3 205.3 1800.1 206.1 1802.9 205.0 1805.7 204.0 1808.5 204.6 1811.2 203.3 1814.0 204.1 1816.8 204.8 1819.6 203.1 1822.4 203.5 1825.1 202.9 1827.9 203.5 1830.7 203.4 1833.5 203.2 1836.3 202.7 1839.0 201.6 1841.8 202.1 1844.6 202.2 1847.4 202.9 1850.2 201.0 1852.9 202.8 1855.7 201.5 1858.5 200.7 1861.3 202.6 1864.1 201.8 1866.8 200.8 1869.6 201.4 1872.4 201.5 1875.2 200.2 1878.0 201.8 1880.7 200.4 1883.5 201.4 1886.3 200.4 1889.1 199.7 1891.9 200.3 1894.6 200.3 1897.4 200.6 1900.2 199.4 1903.0 199.7 1905.8 200.5 1908.5 200.0 1911.3 199.8 1914.1 200.4 1916.9 199.2 1919.7 201.2 1922.4 199.4 1925.2 200.0 1928.0 199.6 1930.8 200.3 1933.6 199.4 1936.3 199.1 1939.1 199.7 1941.9 199.9 1944.7 199.4 1947.5 200.8 1950.2 199.9 1953.0 200.3 1955.8 200.2 1958.6 200.0 1961.4 199.2 1964.1 200.3 1966.9 199.0 1969.7 199.3 1972.5 200.1 1975.3 199.7 1978.0 198.4 1980.8 198.9 1983.6 198.5 1986.4 199.7 1989.2 198.8 1991.9 199.0 1994.7 198.5 1997.5 198.6 2000.3 199.3 2003.1 198.2" fill="none" stroke="none" marker-start="url(#mok)" marker-mid="url(#mok)" marker-end="url(#mok)"/><path d="M1165.8 421.9 1168.5 462.0 1171.6 501.8 1176.0 525.0 1180.3 545.3 1183.2 565.7 1186.1 597.6 1189.0 618.3 1191.8 618.1 1194.6 617.5 1197.3 619.1 1200.1 616.9 1202.9 617.9 1205.7 618.5 1208.5 618.3 1211.2 618.3 1214.0 617.3 1216.8 619.1 1219.6 617.5 1222.4 617.9 1225.1 617.9 1227.9 617.9 1230.7 616.1 1233.5 613.2 1236.3 608.1 1239.0 604.5 1241.8 598.5 1244.6 594.3 1247.4 588.2 1250.2 583.0 1252.9 577.3 1255.7 569.2 1258.5 560.6 1261.3 552.4 1264.1 544.1 1266.8 535.8 1269.6 527.4 1272.4 518.8 1275.2 510.9 1278.0 501.8 1280.7 495.2 1283.5 486.1 1286.3 478.2 1289.1 468.8 1291.9 459.7 1294.6 451.3 1297.4 443.4 1300.2 435.3 1303.0 427.8 1305.8 420.1 1308.5 413.1 1311.3 403.7 1314.1 399.2 1316.9 391.0 1319.7 384.4 1322.4 376.2 1325.2 371.8 1328.0 365.3 1330.8 360.9 1333.6 355.3 1336.3 351.3 1339.1 347.7 1341.9 344.3 1344.7 341.0 1347.5 338.4 1350.2 334.8 1353.0 332.1 1355.8 330.7 1358.6 326.5 1361.4 323.1 1364.1 319.7 1366.9 317.7 1369.7 317.3 1372.5 315.8 1375.3 312.7 1378.0 310.7 1380.8 309.3 1383.6 307.6 1386.4 306.1 1389.2 303.5 1391.9 301.3 1394.7 300.1 1397.5 297.2 1400.3 294.9 1403.1 293.2 1405.8 291.7 1408.6 289.7 1411.4 288.0 1414.2 286.1 1417.0 285.6 1419.7 282.4 1422.5 278.9 1425.3 277.4 1428.1 276.4 1430.9 273.9 1433.6 273.8 1436.4 270.2 1439.2 268.3 1442.0 266.7 1444.8 264.5 1447.5 263.0 1450.3 260.6 1453.1 259.3 1455.9 257.0 1458.7 254.1 1461.4 254.4 1464.2 253.4 1467.0 250.2 1469.8 248.8 1472.6 247.9 1475.3 245.5 1478.1 244.2 1480.9 242.5 1483.7 241.6 1486.5 239.7 1489.2 239.6 1492.0 237.0 1494.8 235.4 1497.6 233.3 1500.4 232.9 1503.1 230.8 1505.9 230.4 1508.7 229.0 1511.5 229.1 1514.3 225.9 1517.0 225.4 1519.8 224.8 1522.6 221.8 1525.4 222.4 1528.2 222.0 1530.9 219.8 1533.7 218.6 1536.5 218.3 1539.3 216.9 1542.1 216.2 1544.8 215.8 1547.6 214.1 1550.4 215.1 1553.2 213.0 1556.0 212.5 1558.7 211.6 1561.5 209.6 1564.3 209.5 1567.1 209.6 1569.9 209.2 1572.6 209.3 1575.4 209.6 1578.2 207.8 1581.0 206.8 1583.8 206.1 1586.5 207.0 1589.3 205.4 1592.1 205.5 1594.9 206.0 1597.7 204.7 1600.4 204.3 1603.2 204.2 1606.0 202.7 1608.8 203.3 1611.6 203.1 1614.3 202.9 1617.1 202.1 1619.9 200.7 1622.7 201.2 1625.5 201.8 1628.2 200.5 1631.0 200.0 1633.8 200.6 1636.6 200.2 1639.4 199.7 1642.1 199.6 1644.9 199.4 1647.7 198.8 1650.5 198.4 1653.3 198.9 1656.0 196.8 1658.8 198.5 1661.6 196.9 1664.4 196.0 1667.2 196.5 1669.9 196.3 1672.7 194.6 1675.5 195.1 1678.3 195.2 1681.1 194.8 1683.8 194.0 1686.6 193.0 1689.4 193.2 1692.2 194.3 1695.0 192.0 1697.7 194.2 1700.5 192.1 1703.3 191.8 1706.1 191.3 1708.9 191.6 1711.6 191.4 1714.4 190.4 1717.2 192.1 1720.0 191.4 1722.8 190.7 1725.5 189.4 1728.3 189.8 1731.1 189.7 1733.9 190.1 1736.7 189.3 1739.4 188.5 1742.2 188.9 1745.0 188.7 1747.8 188.6 1750.6 188.9 1753.3 187.7 1756.1 187.0 1758.9 188.5 1761.7 188.2 1764.5 186.6 1767.2 187.6 1770.0 186.6 1772.8 187.1 1775.6 186.8 1778.4 185.4 1781.1 185.4 1783.9 185.8 1786.7 184.8 1789.5 184.7 1792.3 184.7 1795.0 184.9 1797.8 184.8 1800.6 184.1 1803.4 184.2 1806.2 184.9 1808.9 184.3 1811.7 184.0 1814.5 183.2 1817.3 183.2 1820.1 182.8 1822.8 182.9 1825.6 182.3 1828.4 183.2 1831.2 183.0 1834.0 182.8 1836.7 182.7 1839.5 182.3 1842.3 183.4 1845.1 183.3 1847.9 183.6 1850.6 183.0 1853.4 182.6 1856.2 183.2 1859.0 181.8 1861.8 181.7 1864.5 183.0 1867.3 182.7 1870.1 182.5 1872.9 183.1 1875.7 182.2 1878.4 182.2 1881.2 182.3 1884.0 181.2 1886.8 182.1 1889.6 182.2 1892.3 181.7 1895.1 181.2 1897.9 181.1 1900.7 180.2 1903.5 180.9 1906.2 182.2 1909.0 182.1 1911.8 181.2 1914.6 180.7 1917.4 181.8 1920.1 181.7 1922.9 181.3 1925.7 180.4 1928.5 181.3 1931.3 181.4 1934.0 180.5 1936.8 180.3 1939.6 180.6 1942.4 180.9 1945.2 181.1 1947.9 181.1 1950.7 180.8 1953.5 180.5 1956.3 181.0 1959.1 181.4 1961.8 180.9 1964.6 181.2 1967.4 180.8 1970.2 180.4 1973.0 180.6 1975.7 180.7 1978.5 179.9 1981.3 180.7 1984.1 180.4 1986.9 180.9 1989.6 181.3 1992.4 180.9 1995.2 180.6 1998.0 181.0 2000.8 180.2" fill="none" stroke="none" marker-start="url(#mor)" marker-mid="url(#mor)" marker-end="url(#mor)"/><path d="M1165.8 432.0 1168.7 450.0 1174.5 476.0 1183.2 503.0 1192.0 540.0 1197.8 572.0 1201.0 595.0 1203.6 614.2 1206.4 613.5 1209.2 613.0 1211.9 611.2 1214.7 609.8 1217.5 608.4 1220.3 607.8 1223.1 605.0 1225.8 602.5 1228.6 600.1 1231.4 597.0 1234.2 595.0 1237.0 590.0 1239.7 586.1 1242.5 582.5 1245.3 577.0 1248.1 572.0 1250.9 566.5 1253.6 559.6 1256.4 553.5 1259.2 546.3 1262.0 538.8 1264.8 530.8 1267.5 524.7 1270.3 517.2 1273.1 507.2 1275.9 498.3 1278.7 489.1 1281.4 481.9 1284.2 471.3 1287.0 460.9 1289.8 451.7 1292.6 442.3 1295.3 432.5 1298.1 425.8 1300.9 418.1 1303.7 410.1 1306.5 403.2 1309.2 396.5 1312.0 388.9 1314.8 381.7 1317.6 375.7 1320.4 369.0 1323.1 363.0 1325.9 357.7 1328.7 350.7 1331.5 346.2 1334.3 341.3 1337.0 338.1 1339.8 334.0 1342.6 331.2 1345.4 328.4 1348.2 325.7 1350.9 322.6 1353.7 319.8 1356.5 317.3 1359.3 313.7 1362.1 310.8 1364.8 308.3 1367.6 306.7 1370.4 303.4 1373.2 301.9 1376.0 299.8 1378.7 297.9 1381.5 294.9 1384.3 293.3 1387.1 291.0 1389.9 288.5 1392.6 286.6 1395.4 284.5 1398.2 282.1 1401.0 280.6 1403.8 278.3 1406.5 278.0 1409.3 274.8 1412.1 272.6 1414.9 270.2 1417.7 269.1 1420.4 267.4 1423.2 265.5 1426.0 263.0 1428.8 261.5 1431.6 259.8 1434.3 258.9 1437.1 256.6 1439.9 255.4 1442.7 254.8 1445.5 251.0 1448.2 250.3 1451.0 248.7 1453.8 246.2 1456.6 246.1 1459.4 243.6 1462.1 242.3 1464.9 240.8 1467.7 239.6 1470.5 236.7 1473.3 235.1 1476.0 233.0 1478.8 231.4 1481.6 231.7 1484.4 229.0 1487.2 226.8 1489.9 226.9 1492.7 226.1 1495.5 223.1 1498.3 222.2 1501.1 220.0 1503.8 218.3 1506.6 218.0 1509.4 216.1 1512.2 215.1 1515.0 214.9 1517.7 214.2 1520.5 212.8 1523.3 212.8 1526.1 210.6 1528.9 209.9 1531.6 209.6 1534.4 209.5 1537.2 208.4 1540.0 207.0 1542.8 205.8 1545.5 204.2 1548.3 205.2 1551.1 203.6 1553.9 204.3 1556.7 202.3 1559.4 200.4 1562.2 201.5 1565.0 200.2 1567.8 199.0 1570.6 198.5 1573.3 197.6 1576.1 196.8 1578.9 194.7 1581.7 195.2 1584.5 195.0 1587.2 193.6 1590.0 194.7 1592.8 193.4 1595.6 191.8 1598.4 193.6 1601.1 192.0 1603.9 191.8 1606.7 191.3 1609.5 192.1 1612.3 190.6 1615.0 189.7 1617.8 189.3 1620.6 189.6 1623.4 189.2 1626.2 188.0 1628.9 188.6 1631.7 187.2 1634.5 187.3 1637.3 187.1 1640.1 186.6 1642.8 186.2 1645.6 185.9 1648.4 185.1 1651.2 185.1 1654.0 184.9 1656.7 183.6 1659.5 183.1 1662.3 183.8 1665.1 183.3 1667.9 183.0 1670.6 183.0 1673.4 182.5 1676.2 181.6 1679.0 181.9 1681.8 180.8 1684.5 181.9 1687.3 181.2 1690.1 180.2 1692.9 179.4 1695.7 179.8 1698.4 179.2 1701.2 178.6 1704.0 179.2 1706.8 178.7 1709.6 178.9 1712.3 178.1 1715.1 179.2 1717.9 178.8 1720.7 176.6 1723.5 176.1 1726.2 176.6 1729.0 177.9 1731.8 177.1 1734.6 176.6 1737.4 176.5 1740.1 175.4 1742.9 176.0 1745.7 175.1 1748.5 175.6 1751.3 175.1 1754.0 174.7 1756.8 174.6 1759.6 175.1 1762.4 175.8 1765.2 173.5 1767.9 174.8 1770.7 174.0 1773.5 175.0 1776.3 174.6 1779.1 173.3 1781.8 173.7 1784.6 174.4 1787.4 174.4 1790.2 172.9 1793.0 172.5 1795.7 173.1 1798.5 173.6 1801.3 173.2 1804.1 172.7 1806.9 172.7 1809.6 172.6 1812.4 172.2 1815.2 171.5 1818.0 172.4 1820.8 172.2 1823.5 172.4 1826.3 171.8 1829.1 171.4 1831.9 172.1 1834.7 172.1 1837.4 172.6 1840.2 170.7 1843.0 171.1 1845.8 171.2 1848.6 172.5 1851.3 169.8 1854.1 171.7 1856.9 170.6 1859.7 170.4 1862.5 171.4 1865.2 171.3 1868.0 168.9 1870.8 170.0 1873.6 170.7 1876.4 170.4 1879.1 171.4 1881.9 170.2 1884.7 170.6 1887.5 169.4 1890.3 171.0 1893.0 170.7 1895.8 171.2 1898.6 170.3 1901.4 171.8 1904.2 170.3 1906.9 171.8 1909.7 171.8 1912.5 170.2 1915.3 170.8 1918.1 170.3 1920.8 169.6 1923.6 171.0 1926.4 170.7 1929.2 171.5 1932.0 171.7 1934.7 169.7 1937.5 170.5 1940.3 170.9 1943.1 171.2 1945.9 170.8 1948.6 170.2 1951.4 170.6 1954.2 171.1 1957.0 169.9 1959.8 169.9 1962.5 169.9 1965.3 170.3 1968.1 171.5 1970.9 170.4 1973.7 171.1 1976.4 171.5 1979.2 171.4 1982.0 170.8 1984.8 170.6 1987.6 170.7 1990.3 170.5 1993.1 170.2 1995.9 171.0 1998.7 171.2" fill="none" stroke="none" marker-start="url(#mdg)" marker-mid="url(#mdg)" marker-end="url(#mdg)"/><path d="M1165.8 435.0 1168.7 452.4 1171.6 466.0 1174.5 478.5 1178.0 490.0 1183.2 504.7 1187.0 520.0 1192.0 542.4 1195.0 558.0 1197.8 574.4 1200.7 590.0 1203.6 606.3 1203.6 616.1 1206.4 616.8 1209.2 617.8 1211.9 615.8 1214.7 617.5 1217.5 616.6 1220.3 617.7 1223.1 616.8 1225.8 616.9 1228.6 617.3 1231.4 616.6 1234.2 617.0 1237.0 616.9 1239.7 618.0 1242.5 617.2 1245.3 615.9 1248.1 617.3 1250.9 617.2 1253.6 617.0 1256.4 617.9 1259.2 617.7 1262.0 616.0 1264.8 617.9 1267.5 616.7 1270.3 616.7 1273.1 616.6 1275.9 616.9 1278.7 617.5 1281.4 616.1 1284.2 616.9 1287.0 616.5 1289.8 616.8 1292.6 616.6 1295.3 617.3 1298.1 617.5 1300.9 616.3 1303.7 617.1 1306.5 615.8 1309.2 617.0 1312.0 617.5 1314.8 616.8 1317.6 618.6 1320.4 617.3 1323.1 616.4 1325.9 617.2 1328.7 616.5 1331.5 617.3 1334.3 616.9 1337.0 617.0 1339.8 615.2 1342.6 616.5 1345.4 617.5 1348.2 617.5 1350.9 617.6 1353.7 617.2 1356.5 617.7 1359.3 617.7 1362.1 617.4 1364.8 617.8 1367.6 617.7 1370.4 616.7 1373.2 617.4 1376.0 617.7 1378.7 617.0 1381.5 615.7 1384.3 616.9 1387.1 617.3 1389.9 615.4 1392.6 616.1 1395.4 616.3 1398.2 618.2 1401.0 617.7 1403.8 616.9 1406.5 617.7 1409.3 617.3 1412.1 616.1 1414.9 616.8 1417.7 617.8 1420.4 616.9 1423.2 618.8 1426.0 616.8 1428.8 616.9 1431.6 617.0 1434.3 617.2 1437.1 617.1 1439.9 618.1 1442.7 618.6 1445.5 617.0 1448.2 616.1 1451.0 616.9 1453.8 617.2 1456.6 618.3 1459.4 617.7 1462.1 617.3 1464.9 619.1 1467.7 616.4 1470.5 616.4 1473.3 618.2 1476.0 617.7 1478.8 617.2 1481.6 616.4 1484.4 617.5 1487.2 617.4 1489.9 616.8 1492.7 617.3 1495.5 616.2 1498.3 618.0 1501.1 616.4 1503.8 617.9 1506.6 616.6 1509.4 616.6 1512.2 617.1 1515.0 616.7 1517.7 617.7 1520.5 616.6 1523.3 617.4 1526.1 617.8 1528.9 617.9 1531.6 617.9 1534.4 617.1 1537.2 618.7 1540.0 617.2 1542.8 616.9 1545.5 617.5 1548.3 618.6 1551.1 616.1 1553.9 617.0 1556.7 618.3 1559.4 617.4 1562.2 616.4 1565.0 617.7 1567.8 617.7 1570.6 617.2 1573.3 616.4 1576.1 617.1 1578.9 616.9 1581.7 618.3 1584.5 616.6 1587.2 616.0 1590.0 617.5 1592.8 617.1 1595.6 618.2 1598.4 615.6 1601.1 617.2 1603.9 618.0 1606.7 617.2 1609.5 617.5 1612.3 616.8 1615.0 618.5 1617.8 616.4 1620.6 617.3 1623.4 617.3 1626.2 617.3 1628.9 617.8 1631.7 617.2 1634.5 617.4 1637.3 617.7 1640.1 617.6 1642.8 618.1 1645.6 616.7 1648.4 618.6 1651.2 616.2 1654.0 616.2 1656.7 616.9 1659.5 616.6 1662.3 617.8 1665.1 617.8 1667.9 618.1 1670.6 618.1 1673.4 617.9 1676.2 619.6 1679.0 617.0 1681.8 617.5 1684.5 617.3 1687.3 618.3 1690.1 617.4 1692.9 617.2 1695.7 616.9 1698.4 617.6 1701.2 616.9 1704.0 618.1 1706.8 618.0 1709.6 617.7 1712.3 618.0 1715.1 617.9 1717.9 618.5 1720.7 617.3 1723.5 617.1 1726.2 617.5 1729.0 617.4 1731.8 618.0 1734.6 617.4 1737.4 616.9 1740.1 617.5 1742.9 618.0 1745.7 616.9 1748.5 618.2 1751.3 618.8 1754.0 617.1 1756.8 617.3 1759.6 617.2 1762.4 616.1 1765.2 617.5 1767.9 616.3 1770.7 617.3 1773.5 618.0 1776.3 619.0 1779.1 618.1 1781.8 617.7 1784.6 618.3 1787.4 617.7 1790.2 617.3 1793.0 618.4 1795.7 617.2 1798.5 618.2 1801.3 618.7 1804.1 617.5 1806.9 617.4 1809.6 616.5 1812.4 617.7 1815.2 617.5 1818.0 618.2 1820.8 617.9 1823.5 617.3 1826.3 617.6 1829.1 618.0 1831.9 616.9 1834.7 617.7 1837.4 617.6 1840.2 617.9 1843.0 618.5 1845.8 618.5 1848.6 616.5 1851.3 617.0 1854.1 619.0 1856.9 618.8 1859.7 617.3 1862.5 616.8 1865.2 617.8 1868.0 617.4 1870.8 617.2 1873.6 617.3 1876.4 618.8 1879.1 617.9 1881.9 618.8 1884.7 617.9 1887.5 617.5 1890.3 619.0 1893.0 618.4 1895.8 618.0 1898.6 618.6 1901.4 617.6 1904.2 617.1 1906.9 617.1 1909.7 617.1 1912.5 617.3 1915.3 617.7 1918.1 618.3 1920.8 618.0 1923.6 617.2 1926.4 617.2 1929.2 616.2 1932.0 619.0 1934.7 617.2 1937.5 618.6 1940.3 617.1 1943.1 617.4 1945.9 617.7 1948.6 618.3 1951.4 618.0 1954.2 616.9 1957.0 617.8 1959.8 618.7 1962.5 617.8 1965.3 617.3 1968.1 618.3 1970.9 618.8 1973.7 618.4 1976.4 618.1 1979.2 616.7 1982.0 617.9 1984.8 617.9 1987.6 618.7 1990.3 617.5 1993.1 618.5 1995.9 617.6 1998.7 617.9" fill="none" stroke="none" marker-start="url(#muy)" marker-mid="url(#muy)" marker-end="url(#muy)"/><path d="M1165.8 443.7 1170.2 461.1 1173.1 478.5 1176.0 498.9 1180.3 510.5 1183.2 525.0 1187.6 545.3 1192.0 568.6 1194.9 588.9 1196.3 606.3 1199.0 618.7 1201.8 619.2 1204.6 619.5 1207.3 618.5 1210.1 619.2 1212.9 620.8 1215.7 618.7 1218.5 619.2 1221.2 619.5 1224.0 618.3 1226.8 619.4 1229.6 620.0 1232.4 619.4 1235.1 618.8 1237.9 619.5 1240.7 619.0 1243.5 619.6 1246.3 619.5 1249.0 619.4 1251.8 619.0 1254.6 620.2 1257.4 619.6 1260.2 619.8 1262.9 619.6 1265.7 619.3 1268.5 619.7 1271.3 619.6 1274.1 619.6 1276.8 619.6 1279.6 619.3 1282.4 619.6 1285.2 619.6 1288.0 620.0 1290.7 619.1 1293.5 620.1 1296.3 618.3 1299.1 619.0 1301.9 619.5 1304.6 619.2 1307.4 619.7 1310.2 618.4 1313.0 618.7 1315.8 618.6 1318.5 619.4 1321.3 620.2 1324.1 618.8 1326.9 619.2 1329.7 618.9 1332.4 619.8 1335.2 619.7 1338.0 619.8 1340.8 619.0 1343.6 619.3 1346.3 619.1 1349.1 619.1 1351.9 619.3 1354.7 619.6 1357.5 618.5 1360.2 620.2 1363.0 619.5 1365.8 620.4 1368.6 620.1 1371.4 619.6 1374.1 619.7 1376.9 620.0 1379.7 619.0 1382.5 620.0 1385.3 619.5 1388.0 619.6 1390.8 619.2 1393.6 619.4 1396.4 619.0 1399.2 619.0 1401.9 619.6 1404.7 619.9 1407.5 619.6 1410.3 618.7 1413.1 619.3 1415.8 619.1 1418.6 619.3 1421.4 619.1 1424.2 619.2 1427.0 619.6 1429.7 619.3 1432.5 619.4 1435.3 619.2 1438.1 619.0 1440.9 619.2 1443.6 618.7 1446.4 619.6 1449.2 619.4 1452.0 619.4 1454.8 619.9 1457.5 618.9 1460.3 620.0 1463.1 619.9 1465.9 619.6 1468.7 619.0 1471.4 619.6 1474.2 619.2 1477.0 619.0 1479.8 619.5 1482.6 619.6 1485.3 619.0 1488.1 619.4 1490.9 621.2 1493.7 618.9 1496.5 619.7 1499.2 619.3 1502.0 619.1 1504.8 619.7 1507.6 618.7 1510.4 618.5 1513.1 619.4 1515.9 619.5 1518.7 619.2 1521.5 620.0 1524.3 619.2 1527.0 619.5 1529.8 618.6 1532.6 620.2 1535.4 619.2 1538.2 619.4 1540.9 619.7 1543.7 619.1 1546.5 619.6 1549.3 619.4 1552.1 620.0 1554.8 618.9 1557.6 619.4 1560.4 619.4 1563.2 619.1 1566.0 618.9 1568.7 619.6 1571.5 618.6 1574.3 618.7 1577.1 619.3 1579.9 619.3 1582.6 619.0 1585.4 619.1 1588.2 618.8 1591.0 619.7 1593.8 619.5 1596.5 620.2 1599.3 619.0 1602.1 619.7 1604.9 619.2 1607.7 619.3 1610.4 618.7 1613.2 620.7 1616.0 619.7 1618.8 619.7 1621.6 619.4 1624.3 618.8 1627.1 618.6 1629.9 618.7 1632.7 619.6 1635.5 618.9 1638.2 619.3 1641.0 619.4 1643.8 619.3 1646.6 619.1 1649.4 619.1 1652.1 619.4 1654.9 619.3 1657.7 618.8 1660.5 619.8 1663.3 619.8 1666.0 619.7 1668.8 619.6 1671.6 619.1 1674.4 620.1 1677.2 619.0 1679.9 619.1 1682.7 619.0 1685.5 619.8 1688.3 619.5 1691.1 618.9 1693.8 619.3 1696.6 619.1 1699.4 619.9 1702.2 619.9 1705.0 619.2 1707.7 619.4 1710.5 619.5 1713.3 619.8 1716.1 619.7 1718.9 619.6 1721.6 619.5 1724.4 619.3 1727.2 619.0 1730.0 619.6 1732.8 620.0 1735.5 620.3 1738.3 619.2 1741.1 619.6 1743.9 619.1 1746.7 619.4 1749.4 619.0 1752.2 619.3 1755.0 619.0 1757.8 619.3 1760.6 619.7 1763.3 618.9 1766.1 619.1 1768.9 619.0 1771.7 619.6 1774.5 619.4 1777.2 619.3 1780.0 619.3 1782.8 619.7 1785.6 620.3 1788.4 619.2 1791.1 619.6 1793.9 619.4 1796.7 618.9 1799.5 618.7 1802.3 619.1 1805.0 619.1 1807.8 619.3 1810.6 619.1 1813.4 618.9 1816.2 620.1 1818.9 618.2 1821.7 618.6 1824.5 620.0 1827.3 619.6 1830.1 619.2 1832.8 619.0 1835.6 620.3 1838.4 619.5 1841.2 619.0 1844.0 619.5 1846.7 620.2 1849.5 619.5 1852.3 619.4 1855.1 619.4 1857.9 619.6 1860.6 619.0 1863.4 619.3 1866.2 619.7 1869.0 620.6 1871.8 618.7 1874.5 619.3 1877.3 618.8 1880.1 620.8 1882.9 618.8 1885.7 618.9 1888.4 619.8 1891.2 619.8 1894.0 618.7 1896.8 620.2 1899.6 619.7 1902.3 619.7 1905.1 619.3 1907.9 618.5 1910.7 620.7 1913.5 618.8 1916.2 619.2 1919.0 619.0 1921.8 619.8 1924.6 619.0 1927.4 618.9 1930.1 619.5 1932.9 619.6 1935.7 619.3 1938.5 619.4 1941.3 619.6 1944.0 619.3 1946.8 619.0 1949.6 619.2 1952.4 619.9 1955.2 619.8 1957.9 619.9 1960.7 619.8 1963.5 619.2 1966.3 619.3 1969.1 619.4 1971.8 618.9 1974.6 618.7 1977.4 618.8 1980.2 619.2 1983.0 619.1 1985.7 619.4 1988.5 619.8 1991.3 619.3 1994.1 619.1 1996.9 618.8 1999.6 618.6" fill="none" stroke="none" marker-start="url(#msb)" marker-mid="url(#msb)" marker-end="url(#msb)"/></g>
<line x1="1156.5" x2="1165.5" y1="166.6" y2="166.6" stroke="#000" stroke-width="3"/>
<line x1="1156.5" x2="1165.5" y1="600.6" y2="600.6" stroke="#000" stroke-width="3"/>
<line x1="1165.3" x2="1165.3" y1="734.6" y2="743.1" stroke="#000" stroke-width="3"/>
<text x="1162.45" y="783" font-size="30.4">0</text>
<line x1="1298.64" x2="1298.64" y1="734.6" y2="743.1" stroke="#000" stroke-width="3"/>
<text x="1288.55" y="783" font-size="30.4">8</text>
<line x1="1431.97" x2="1431.97" y1="734.6" y2="743.1" stroke="#000" stroke-width="3"/>
<text x="1416.6" y="783" font-size="30.4">16</text>
<line x1="1565.31" x2="1565.31" y1="734.6" y2="743.1" stroke="#000" stroke-width="3"/>
<text x="1548.77" y="783" font-size="30.4">24</text>
<line x1="1698.64" x2="1698.64" y1="734.6" y2="743.1" stroke="#000" stroke-width="3"/>
<text x="1683.78" y="783" font-size="30.4">32</text>
<line x1="1831.98" x2="1831.98" y1="734.6" y2="743.1" stroke="#000" stroke-width="3"/>
<text x="1815.94" y="783" font-size="30.4">40</text>
<line x1="1965.32" x2="1965.32" y1="734.6" y2="743.1" stroke="#000" stroke-width="3"/>
<text x="1949.4" y="783" font-size="30.4">48</text>
<text x="1133.18" y="178.9" font-size="30.4">1</text>
<text x="1110" y="615.5" font-size="29">0.1</text>
<text x="1533.22" y="831.3" font-size="30.4">time [h]</text>
<text transform="translate(1057.6,563.7) rotate(90)" font-size="30.4" text-anchor="middle">log OD600</text>
<text x="1175.78" y="181" font-size="38">DADMAC-C10</text>
<text x="1182.36" y="225.4" font-size="38">without clay</text>
<text x="1084.43" y="889.7" font-size="37">e</text>
<rect x="1165.5" y="907.6" width="833.7" height="598.2" fill="none" stroke="#000" stroke-width="3"/>
<g><path d="M1168.2 1149.7 1171.0 1164.1 1173.8 1191.9 1176.5 1213.6 1179.3 1216.6 1182.1 1222.6 1184.9 1230.6 1187.7 1240.0 1190.4 1251.3 1193.2 1261.3 1196.0 1264.6 1198.8 1265.3 1201.6 1269.0 1204.3 1269.9 1207.1 1272.2 1209.9 1273.2 1212.7 1273.6 1215.5 1274.0 1218.2 1274.7 1221.0 1275.3 1223.8 1277.3 1226.6 1276.0 1229.4 1276.5 1232.1 1274.7 1234.9 1273.7 1237.7 1271.3 1240.5 1269.8 1243.3 1267.0 1246.0 1267.4 1248.8 1264.0 1251.6 1261.1 1254.4 1257.7 1257.2 1252.3 1259.9 1247.7 1262.7 1246.7 1265.5 1241.3 1268.3 1235.3 1271.1 1230.4 1273.8 1226.8 1276.6 1222.6 1279.4 1216.6 1282.2 1211.0 1285.0 1207.5 1287.7 1203.0 1290.5 1196.4 1293.3 1193.3 1296.1 1187.4 1298.9 1184.1 1301.6 1180.3 1304.4 1175.8 1307.2 1170.3 1310.0 1167.7 1312.8 1161.8 1315.5 1159.2 1318.3 1152.5 1321.1 1149.3 1323.9 1144.8 1326.7 1140.2 1329.4 1134.6 1332.2 1128.2 1335.0 1123.0 1337.8 1116.8 1340.6 1114.2 1343.3 1109.3 1346.1 1108.0 1348.9 1104.8 1351.7 1102.2 1354.5 1099.5 1357.2 1094.9 1360.0 1091.9 1362.8 1089.6 1365.6 1087.0 1368.4 1086.6 1371.1 1082.4 1373.9 1082.7 1376.7 1082.2 1379.5 1079.8 1382.3 1077.4 1385.0 1076.4 1387.8 1076.0 1390.6 1074.5 1393.4 1072.0 1396.2 1070.8 1398.9 1070.0 1401.7 1066.9 1404.5 1066.9 1407.3 1062.4 1410.1 1062.9 1412.8 1058.2 1415.6 1058.6 1418.4 1055.5 1421.2 1052.2 1424.0 1051.7 1426.7 1050.1 1429.5 1048.2 1432.3 1045.8 1435.1 1043.7 1437.9 1042.0 1440.6 1041.0 1443.4 1040.5 1446.2 1038.5 1449.0 1037.3 1451.8 1035.5 1454.5 1035.1 1457.3 1034.5 1460.1 1033.0 1462.9 1028.7 1465.7 1027.6 1468.4 1026.0 1471.2 1025.4 1474.0 1026.4 1476.8 1023.5 1479.6 1022.9 1482.3 1021.7 1485.1 1019.2 1487.9 1018.9 1490.7 1018.3 1493.5 1017.2 1496.2 1016.7 1499.0 1015.6 1501.8 1014.8 1504.6 1012.7 1507.4 1014.1 1510.1 1012.8 1512.9 1011.0 1515.7 1010.3 1518.5 1009.2 1521.3 1007.4 1524.0 1008.8 1526.8 1007.0 1529.6 1007.5 1532.4 1007.0 1535.2 1003.7 1537.9 1003.1 1540.7 1003.7 1543.5 1001.9 1546.3 1001.0 1549.1 1000.4 1551.8 1000.2 1554.6 997.9 1557.4 998.3 1560.2 998.3 1563.0 996.1 1565.7 995.4 1568.5 995.2 1571.3 994.9 1574.1 994.1 1576.9 993.2 1579.6 993.6 1582.4 991.1 1585.2 992.5 1588.0 991.0 1590.8 989.7 1593.5 988.2 1596.3 990.2 1599.1 988.5 1601.9 988.2 1604.7 988.5 1607.4 986.3 1610.2 987.1 1613.0 987.1 1615.8 987.6 1618.6 986.3 1621.3 987.5 1624.1 985.3 1626.9 985.6 1629.7 984.9 1632.5 984.5 1635.2 986.7 1638.0 985.3 1640.8 984.9 1643.6 984.8 1646.4 984.5 1649.1 982.7 1651.9 983.3 1654.7 983.7 1657.5 982.0 1660.3 982.5 1663.0 982.0 1665.8 981.2 1668.6 980.5 1671.4 980.8 1674.2 981.2 1676.9 981.2 1679.7 979.0 1682.5 980.1 1685.3 980.2 1688.1 977.9 1690.8 977.8 1693.6 979.2 1696.4 979.0 1699.2 978.5 1702.0 979.0 1704.7 977.9 1707.5 978.2 1710.3 976.6 1713.1 976.3 1715.9 975.2 1718.6 975.7 1721.4 974.9 1724.2 974.4 1727.0 975.1 1729.8 974.5 1732.5 973.5 1735.3 973.7 1738.1 973.4 1740.9 973.2 1743.7 971.9 1746.4 972.7 1749.2 971.4 1752.0 971.7 1754.8 970.7 1757.6 972.7 1760.3 969.5 1763.1 971.4 1765.9 969.5 1768.7 971.5 1771.5 968.8 1774.2 970.3 1777.0 969.3 1779.8 970.1 1782.6 967.9 1785.4 968.5 1788.1 969.0 1790.9 969.1 1793.7 967.6 1796.5 966.3 1799.3 967.4 1802.0 966.9 1804.8 967.4 1807.6 966.7 1810.4 966.0 1813.2 966.6 1815.9 967.9 1818.7 967.0 1821.5 966.0 1824.3 966.7 1827.1 964.9 1829.8 965.4 1832.6 965.8 1835.4 965.4 1838.2 965.0 1841.0 965.4 1843.7 966.9 1846.5 965.1 1849.3 965.4 1852.1 966.3 1854.9 962.6 1857.6 964.3 1860.4 965.2 1863.2 963.1 1866.0 963.8 1868.8 965.2 1871.5 963.9 1874.3 963.8 1877.1 965.2 1879.9 961.5 1882.7 964.0 1885.4 961.7 1888.2 962.9 1891.0 962.9 1893.8 962.3 1896.6 961.7 1899.3 962.4 1902.1 962.1 1904.9 963.0 1907.7 963.7 1910.5 962.9 1913.2 967.5 1916.0 958.5 1918.8 950.5 1921.6 950.2 1924.4 958.8 1927.1 952.7 1929.9 957.9 1932.7 960.5 1935.5 968.4 1938.3 953.6 1941.0 962.9 1943.8 953.2 1946.6 965.4 1949.4 949.0 1952.2 969.2 1954.9 959.3 1957.7 973.0 1960.5 962.3 1963.3 956.2 1966.1 959.0 1968.8 957.8 1971.6 963.1 1974.4 968.4 1977.2 963.2 1980.0 960.2 1982.7 960.5 1985.5 971.6 1988.3 957.1 1991.1 966.3 1993.9 957.7 1996.6 958.2 1999.4 966.3 1951.6 928.0 1973.3 923.7 1986.2 925.2 1918.5 949.7 1931.5 954.0 1966.1 946.8 1980.5 946.8 1990.0 935.0" fill="none" stroke="none" marker-start="url(#mok)" marker-mid="url(#mok)" marker-end="url(#mok)"/><path d="M1168.6 1198.9 1174.4 1256.5 1183.1 1291.1 1188.8 1328.6 1197.5 1337.1 1200.3 1337.2 1203.1 1337.4 1205.8 1338.1 1208.6 1337.6 1211.4 1336.6 1214.2 1338.2 1217.0 1337.9 1219.7 1338.0 1222.5 1338.4 1225.3 1338.6 1228.1 1339.5 1230.9 1339.2 1233.6 1338.9 1236.4 1338.3 1239.2 1336.7 1242.0 1334.5 1244.8 1332.1 1247.5 1327.9 1250.3 1324.4 1253.1 1320.8 1255.9 1315.1 1258.7 1311.9 1261.4 1308.5 1264.2 1302.7 1267.0 1295.1 1269.8 1288.8 1272.6 1280.6 1275.3 1272.8 1278.1 1263.0 1280.9 1256.1 1283.7 1246.0 1286.5 1236.8 1289.2 1230.3 1292.0 1222.1 1294.8 1215.7 1297.6 1207.6 1300.4 1199.2 1303.1 1193.9 1305.9 1185.6 1308.7 1179.6 1311.5 1173.0 1314.3 1166.8 1317.0 1160.8 1319.8 1152.5 1322.6 1143.9 1325.4 1135.8 1328.2 1128.1 1330.9 1120.7 1333.7 1114.2 1336.5 1107.9 1339.3 1104.8 1342.1 1100.5 1344.8 1098.9 1347.6 1092.7 1350.4 1088.8 1353.2 1087.0 1356.0 1084.5 1358.7 1080.7 1361.5 1077.9 1364.3 1075.3 1367.1 1071.1 1369.9 1067.6 1372.6 1066.0 1375.4 1064.8 1378.2 1060.6 1381.0 1059.4 1383.8 1057.2 1386.5 1054.4 1389.3 1052.8 1392.1 1050.2 1394.9 1049.2 1397.7 1045.4 1400.4 1041.9 1403.2 1040.3 1406.0 1038.8 1408.8 1039.0 1411.6 1036.5 1414.3 1035.7 1417.1 1035.1 1419.9 1032.7 1422.7 1031.8 1425.5 1029.3 1428.2 1028.6 1431.0 1027.8 1433.8 1027.3 1436.6 1026.7 1439.4 1024.5 1442.1 1023.5 1444.9 1022.1 1447.7 1021.6 1450.5 1020.2 1453.3 1018.5 1456.0 1016.2 1458.8 1016.5 1461.6 1014.8 1464.4 1014.2 1467.2 1012.0 1469.9 1012.3 1472.7 1009.5 1475.5 1010.1 1478.3 1007.9 1481.1 1006.4 1483.8 1005.0 1486.6 1004.8 1489.4 1005.0 1492.2 1003.6 1495.0 1002.5 1497.7 999.1 1500.5 1000.6 1503.3 999.5 1506.1 997.6 1508.9 996.6 1511.6 996.1 1514.4 996.5 1517.2 993.3 1520.0 992.8 1522.8 993.3 1525.5 990.9 1528.3 990.0 1531.1 989.4 1533.9 987.3 1536.7 987.5 1539.4 985.4 1542.2 986.1 1545.0 984.4 1547.8 985.3 1550.6 982.7 1553.3 982.6 1556.1 979.5 1558.9 979.5 1561.7 978.9 1564.5 979.0 1567.2 975.3 1570.0 976.5 1572.8 975.2 1575.6 975.1 1578.4 973.6 1581.1 972.2 1583.9 970.9 1586.7 969.5 1589.5 969.8 1592.3 968.7 1595.0 969.6 1597.8 966.7 1600.6 966.6 1603.4 964.3 1606.2 964.4 1608.9 964.2 1611.7 964.1 1614.5 964.1 1617.3 962.3 1620.1 960.9 1622.8 961.6 1625.6 961.1 1628.4 960.5 1631.2 959.0 1634.0 959.9 1636.7 958.6 1639.5 958.5 1642.3 958.5 1645.1 957.7 1647.9 957.2 1650.6 958.4 1653.4 956.6 1656.2 955.9 1659.0 956.0 1661.8 956.8 1664.5 955.5 1667.3 955.5 1670.1 955.8 1672.9 954.2 1675.7 952.9 1678.4 954.3 1681.2 954.0 1684.0 953.1 1686.8 954.0 1689.6 953.5 1692.3 952.0 1695.1 952.9 1697.9 952.1 1700.7 950.8 1703.5 952.0 1706.2 951.4 1709.0 950.5 1711.8 951.3 1714.6 951.0 1717.4 949.8 1720.1 950.4 1722.9 950.6 1725.7 948.9 1728.5 949.5 1731.3 948.9 1734.0 950.5 1736.8 946.9 1739.6 948.7 1742.4 947.6 1745.2 947.5 1747.9 948.8 1750.7 947.0 1753.5 948.5 1756.3 946.2 1759.1 946.6 1761.8 945.7 1764.6 945.4 1767.4 945.8 1770.2 945.3 1773.0 945.5 1775.7 943.4 1778.5 946.5 1781.3 944.5 1784.1 945.9 1786.9 943.5 1789.6 944.3 1792.4 946.4 1795.2 942.9 1798.0 942.2 1800.8 942.8 1803.5 943.4 1806.3 943.4 1809.1 943.6 1811.9 942.2 1814.7 941.0 1817.4 941.8 1820.2 943.0 1823.0 942.2 1825.8 940.2 1828.6 941.6 1831.3 942.6 1834.1 943.0 1836.9 941.6 1839.7 941.3 1842.5 939.9 1845.2 940.1 1848.0 940.6 1850.8 940.9 1853.6 940.8 1856.4 939.8 1859.1 939.1 1861.9 939.3 1864.7 938.8 1867.5 940.1 1870.3 937.6 1873.0 939.1 1875.8 939.6 1878.6 940.3 1881.4 939.0 1884.2 939.6 1886.9 938.3 1889.7 937.9 1892.5 937.8 1895.3 939.5 1898.1 938.9 1900.8 938.3 1903.6 940.5 1906.4 937.6 1909.2 938.0 1912.0 937.6 1914.7 937.1 1917.5 939.0 1920.3 938.2 1923.1 935.7 1925.9 936.4 1928.6 937.3 1931.4 937.8 1934.2 936.3 1937.0 935.8 1939.8 936.3 1942.5 937.9 1945.3 938.1 1948.1 938.7 1950.9 938.0 1953.7 937.9 1956.4 937.5 1959.2 939.6 1962.0 939.8 1964.8 940.5 1967.6 940.6 1970.3 940.0 1973.1 941.5 1975.9 940.5 1978.7 940.3 1981.5 940.6 1984.2 940.8 1987.0 939.7 1989.8 941.8 1992.6 942.1 1995.4 941.8 1998.1 941.7" fill="none" stroke="none" marker-start="url(#mor)" marker-mid="url(#mor)" marker-end="url(#mor)"/><path d="M1165.8 1193.1 1170.0 1240.0 1174.4 1288.2 1183.1 1308.4 1195.0 1318.0 1203.0 1322.0 1213.6 1335.9 1216.4 1327.0 1219.2 1322.3 1221.9 1317.6 1224.7 1309.7 1227.5 1304.7 1230.3 1303.2 1233.1 1304.9 1235.8 1304.2 1238.6 1297.9 1241.4 1287.8 1244.2 1290.5 1247.0 1275.9 1249.7 1273.7 1252.5 1267.9 1255.3 1264.6 1258.1 1261.0 1260.9 1247.1 1263.6 1244.2 1266.4 1239.4 1269.2 1228.3 1272.0 1224.1 1274.8 1217.2 1277.5 1204.8 1280.3 1199.2 1283.1 1197.9 1285.9 1192.5 1288.7 1189.7 1291.4 1191.7 1294.2 1183.9 1297.0 1178.0 1299.8 1169.9 1302.6 1170.2 1305.3 1160.6 1308.1 1163.5 1310.9 1158.2 1313.7 1144.4 1316.5 1139.6 1319.2 1134.9 1322.0 1127.0 1324.8 1117.5 1327.6 1110.6 1330.4 1109.1 1333.1 1094.4 1335.9 1081.8 1338.7 1078.9 1341.5 1075.9 1344.3 1073.3 1347.0 1067.1 1349.8 1064.5 1352.6 1061.6 1355.4 1060.8 1358.2 1062.0 1360.9 1061.8 1363.7 1059.4 1366.5 1053.6 1369.3 1054.3 1372.1 1052.1 1374.8 1049.6 1377.6 1041.8 1380.4 1044.9 1383.2 1042.6 1386.0 1043.7 1388.7 1038.7 1391.5 1037.8 1394.3 1035.4 1397.1 1034.8 1399.9 1031.9 1402.6 1030.5 1405.4 1029.8 1408.2 1027.6 1411.0 1025.9 1413.8 1023.0 1416.5 1022.1 1419.3 1023.9 1422.1 1019.3 1424.9 1018.6 1427.7 1016.3 1430.4 1014.6 1433.2 1009.2 1436.0 1014.9 1438.8 1009.4 1441.6 1008.8 1444.3 1011.0 1447.1 1004.3 1449.9 1006.8 1452.7 1004.8 1455.5 1001.7 1458.2 1004.3 1461.0 1001.1 1463.8 1001.0 1466.6 999.4 1469.4 999.9 1472.1 1001.5 1474.9 995.5 1477.7 998.0 1480.5 995.0 1483.3 994.8 1486.0 991.8 1488.8 992.2 1491.6 992.6 1494.4 993.8 1497.2 992.2 1499.9 992.0 1502.7 991.5 1505.5 987.7 1508.3 991.4 1511.1 988.2 1513.8 989.2 1516.6 987.3 1519.4 987.4 1522.2 987.5 1525.0 982.6 1527.7 988.4 1530.5 985.1 1533.3 985.9 1536.1 984.1 1538.9 983.3 1541.6 980.6 1544.4 981.5 1547.2 978.2 1550.0 980.7 1552.8 982.8 1555.5 977.0 1558.3 978.2 1561.1 978.2 1563.9 979.9 1566.7 979.5 1569.4 977.1 1572.2 976.6 1575.0 975.9 1577.8 975.1 1580.6 974.8 1583.3 974.6 1586.1 974.8 1588.9 974.9 1591.7 973.5 1594.5 975.1 1597.2 973.9 1600.0 974.4 1602.8 971.3 1605.6 972.0 1608.4 973.0 1611.1 973.3 1613.9 972.6 1616.7 975.2 1619.5 972.6 1622.3 975.0 1625.0 975.0 1627.8 973.9 1630.6 976.3 1633.4 984.9 1636.2 992.8 1638.9 991.2 1641.7 992.1 1644.5 991.8 1647.3 992.1 1650.1 991.5 1652.8 990.9 1655.6 992.7 1658.4 994.5 1661.2 991.0 1664.0 989.5 1666.7 991.3 1669.5 990.2 1672.3 990.5 1675.1 990.0 1677.9 991.6 1680.6 992.6 1683.4 995.1 1686.2 989.9 1689.0 989.4 1691.8 991.2 1694.5 991.2 1697.3 993.7 1700.1 993.0 1702.9 989.9 1705.7 987.6 1708.4 991.4 1711.2 989.7 1714.0 992.2 1716.8 989.8 1719.6 989.6 1722.3 987.8 1725.1 989.4 1727.9 991.0 1730.7 987.8 1733.5 989.2 1736.2 987.8 1739.0 989.9 1741.8 988.2 1744.6 989.0 1747.4 988.4 1750.1 986.4 1752.9 985.9 1755.7 989.4 1758.5 986.7 1761.3 985.5 1764.0 985.9 1766.8 989.2 1769.6 986.6 1772.4 988.0 1775.2 982.7 1777.9 989.4 1780.7 985.9 1783.5 987.6 1786.3 984.9 1789.1 985.0 1791.8 986.2 1794.6 987.5 1797.4 984.6 1800.2 983.2 1803.0 985.5 1805.7 986.9 1808.5 981.4 1811.3 982.0 1814.1 984.0 1816.9 982.1 1819.6 979.2 1822.4 982.3 1825.2 982.5 1828.0 982.9 1830.8 983.7 1833.5 979.4 1836.3 980.3 1839.1 980.8 1841.9 981.3 1844.7 979.3 1847.4 980.3 1850.2 978.8 1853.0 981.1 1855.8 981.4 1858.6 978.2 1861.3 980.0 1864.1 977.3 1866.9 979.2 1869.7 975.9 1872.5 977.7 1875.2 979.9 1878.0 976.4 1880.8 960.0 1883.6 966.3 1886.4 964.2 1889.1 972.4 1891.9 968.1 1894.7 973.0 1897.5 964.1 1900.3 961.6 1903.0 955.9 1905.8 968.5 1908.6 966.1 1911.4 968.9 1914.2 967.0 1916.9 969.0 1919.7 974.6 1922.5 962.8 1925.3 970.9 1928.1 974.1 1930.8 970.6 1933.6 976.4 1936.4 966.4 1939.2 968.4 1942.0 966.2 1944.7 965.9 1947.5 975.3 1950.3 960.6 1953.1 964.3 1955.9 964.5 1958.6 966.7 1961.4 965.1 1964.2 969.1 1967.0 968.5 1969.8 974.1 1972.5 969.7 1975.3 961.5 1978.1 958.3 1980.9 963.5 1983.7 962.4 1986.4 963.8 1989.2 970.8 1992.0 966.2 1994.8 958.3 1997.6 960.8 2000.3 971.4" fill="none" stroke="none" marker-start="url(#mdg)" marker-mid="url(#mdg)" marker-end="url(#mdg)"/><path d="M1165.8 1184.5 1173.0 1245.0 1177.3 1292.5 1183.1 1308.4 1188.0 1340.0 1191.7 1363.1 1197.5 1376.0 1200.3 1377.8 1203.1 1376.6 1205.8 1374.5 1208.6 1374.4 1211.4 1373.9 1214.2 1372.9 1217.0 1372.1 1219.7 1372.0 1222.5 1371.4 1225.3 1371.2 1228.1 1367.7 1230.9 1365.7 1233.6 1366.8 1236.4 1364.2 1239.2 1362.4 1242.0 1364.1 1244.8 1359.5 1247.5 1354.4 1250.3 1351.1 1253.1 1348.9 1255.9 1346.1 1258.7 1346.3 1261.4 1345.2 1264.2 1342.3 1267.0 1342.1 1269.8 1346.1 1272.6 1344.8 1275.3 1340.9 1278.1 1344.4 1280.9 1344.2 1283.7 1344.6 1286.5 1343.3 1289.2 1343.5 1292.0 1341.8 1294.8 1340.7 1297.6 1342.8 1300.4 1343.5 1303.1 1342.8 1305.9 1341.1 1308.7 1342.8 1311.5 1342.5 1314.3 1344.7 1317.0 1341.9 1319.8 1342.3 1322.6 1342.9 1325.4 1344.2 1328.2 1345.8 1330.9 1344.8 1333.7 1342.1 1336.5 1342.8 1339.3 1346.7 1342.1 1344.7 1344.8 1344.2 1347.6 1345.3 1350.4 1345.6 1353.2 1347.3 1356.0 1345.1 1358.7 1343.9 1361.5 1343.6 1364.3 1346.6 1367.1 1345.2 1369.9 1345.5 1372.6 1346.1 1375.4 1343.9 1378.2 1348.0 1381.0 1345.2 1383.8 1345.4 1386.5 1345.4 1389.3 1346.1 1392.1 1345.5 1394.9 1345.7 1397.7 1347.4 1400.4 1348.6 1403.2 1347.9 1406.0 1345.3 1408.8 1346.7 1411.6 1349.5 1414.3 1347.7 1417.1 1348.1 1419.9 1347.8 1422.7 1350.6 1425.5 1347.8 1428.2 1348.0 1431.0 1350.4 1433.8 1346.7 1436.6 1348.6 1439.4 1353.3 1442.1 1349.7 1444.9 1350.5 1447.7 1347.2 1450.5 1350.1 1453.3 1349.1 1456.0 1349.7 1458.8 1349.8 1461.6 1351.3 1464.4 1350.9 1467.2 1353.1 1469.9 1348.4 1472.7 1351.0 1475.5 1353.3 1478.3 1353.0 1481.1 1354.7 1483.8 1352.1 1486.6 1354.5 1489.4 1354.0 1492.2 1351.6 1495.0 1351.0 1497.7 1356.7 1500.5 1355.7 1503.3 1354.5 1506.1 1353.3 1508.9 1352.1 1511.6 1354.5 1514.4 1355.5 1517.2 1358.0 1520.0 1355.4 1522.8 1356.0 1525.5 1356.3 1528.3 1358.3 1531.1 1359.4 1533.9 1360.1 1536.7 1357.6 1539.4 1359.0 1542.2 1356.7 1545.0 1357.4 1547.8 1358.2 1550.6 1360.2 1553.3 1356.0 1556.1 1359.7 1558.9 1362.8 1561.7 1361.7 1564.5 1362.5 1567.2 1359.8 1570.0 1361.5 1572.8 1359.9 1575.6 1364.0 1578.4 1361.3 1581.1 1361.4 1583.9 1360.7 1586.7 1362.7 1589.5 1364.7 1592.3 1362.5 1595.0 1362.5 1597.8 1362.1 1600.6 1364.7 1603.4 1363.2 1606.2 1363.9 1608.9 1363.4 1611.7 1363.7 1614.5 1364.6 1617.3 1364.7 1620.1 1361.7 1622.8 1363.9 1625.6 1363.8 1628.4 1364.9 1631.2 1366.2 1634.0 1363.4 1636.7 1363.6 1639.5 1362.6 1642.3 1363.9 1645.1 1366.7 1647.9 1364.1 1650.6 1367.2 1653.4 1365.4 1656.2 1365.2 1659.0 1365.8 1661.8 1365.0 1664.5 1366.4 1667.3 1366.0 1670.1 1363.3 1672.9 1365.1 1675.7 1367.1 1678.4 1366.0 1681.2 1363.3 1684.0 1368.2 1686.8 1369.0 1689.6 1365.1 1692.3 1367.1 1695.1 1368.4 1697.9 1368.0 1700.7 1368.4 1703.5 1365.4 1706.2 1369.2 1709.0 1367.3 1711.8 1367.2 1714.6 1368.8 1717.4 1369.7 1720.1 1369.6 1722.9 1367.4 1725.7 1369.1 1728.5 1366.5 1731.3 1370.1 1734.0 1367.7 1736.8 1367.9 1739.6 1370.4 1742.4 1369.7 1745.2 1368.3 1747.9 1370.6 1750.7 1372.4 1753.5 1367.7 1756.3 1370.2 1759.1 1370.3 1761.8 1370.6 1764.6 1370.6 1767.4 1372.0 1770.2 1371.8 1773.0 1371.0 1775.7 1372.3 1778.5 1370.4 1781.3 1373.8 1784.1 1371.3 1786.9 1371.0 1789.6 1372.3 1792.4 1370.2 1795.2 1370.0 1798.0 1370.8 1800.8 1374.1 1803.5 1373.1 1806.3 1371.3 1809.1 1372.2 1811.9 1372.5 1814.7 1371.5 1817.4 1372.0 1820.2 1371.4 1823.0 1370.9 1825.8 1371.9 1828.6 1375.1 1831.3 1374.2 1834.1 1373.1 1836.9 1374.1 1839.7 1372.1 1842.5 1374.4 1845.2 1373.8 1848.0 1373.4 1850.8 1374.8 1853.6 1374.2 1856.4 1377.6 1859.1 1373.2 1861.9 1374.5 1864.7 1375.3 1867.5 1374.9 1870.3 1377.6 1873.0 1375.5 1875.8 1372.7 1878.6 1374.5 1881.4 1372.0 1884.2 1375.8 1886.9 1375.3 1889.7 1376.9 1892.5 1377.5 1895.3 1375.0 1898.1 1376.6 1900.8 1376.5 1903.6 1379.0 1906.4 1377.0 1909.2 1376.4 1912.0 1376.4 1914.7 1377.9 1917.5 1374.7 1920.3 1376.0 1923.1 1376.0 1925.9 1375.5 1928.6 1378.7 1931.4 1375.2 1934.2 1380.2 1937.0 1376.2 1939.8 1377.0 1942.5 1382.2 1945.3 1376.6 1948.1 1377.9 1950.9 1378.6 1953.7 1375.5 1956.4 1378.5 1959.2 1379.4 1962.0 1380.4 1964.8 1379.2 1967.6 1380.6 1970.3 1380.3 1973.1 1378.0 1975.9 1381.4 1978.7 1380.9 1981.5 1380.0 1984.2 1379.9 1987.0 1380.5 1989.8 1380.7 1992.6 1380.1 1995.4 1379.3 1998.1 1382.0 2000.9 1381.1" fill="none" stroke="none" marker-start="url(#muy)" marker-mid="url(#muy)" marker-end="url(#muy)"/><path d="M1177.3 1062.0 1174.4 1086.5 1180.2 1115.3 1167.2 1174.4 1183.1 1185.9 1185.9 1230.6 1187.4 1266.6 1190.3 1285.3 1197.5 1314.2 1203.2 1325.7 1209.0 1336.9 1211.8 1341.2 1214.6 1342.5 1217.3 1343.9 1220.1 1345.3 1222.9 1347.1 1225.7 1348.8 1228.5 1351.8 1231.2 1351.2 1234.0 1355.8 1236.8 1356.3 1239.6 1355.1 1242.4 1357.4 1245.1 1358.4 1247.9 1356.7 1250.7 1356.3 1253.5 1359.9 1256.3 1356.7 1259.0 1361.4 1261.8 1361.0 1264.6 1359.1 1267.4 1356.7 1270.2 1361.5 1272.9 1362.3 1275.7 1362.0 1278.5 1357.0 1281.3 1362.4 1284.1 1362.4 1286.8 1362.2 1289.6 1360.9 1292.4 1359.9 1295.2 1365.3 1298.0 1363.1 1300.7 1360.7 1303.5 1365.5 1306.3 1361.7 1309.1 1365.0 1311.9 1361.9 1314.6 1364.0 1317.4 1364.4 1320.2 1368.3 1323.0 1363.1 1325.8 1363.9 1328.5 1367.7 1331.3 1368.0 1334.1 1366.3 1336.9 1365.0 1339.7 1365.1 1342.4 1363.3 1345.2 1368.1 1348.0 1367.6 1350.8 1368.0 1353.6 1368.1 1356.3 1367.5 1359.1 1368.5 1361.9 1365.1 1364.7 1370.3 1367.5 1367.5 1370.2 1365.8 1373.0 1365.2 1375.8 1366.8 1378.6 1368.7 1381.4 1368.3 1384.1 1369.6 1386.9 1371.5 1389.7 1368.8 1392.5 1369.6 1395.3 1369.1 1398.0 1366.2 1400.8 1367.0 1403.6 1367.5 1406.4 1369.8 1409.2 1365.7 1411.9 1372.3 1414.7 1366.8 1417.5 1366.5 1420.3 1367.2 1423.1 1366.6 1425.8 1368.6 1428.6 1368.8 1431.4 1372.0 1434.2 1368.0 1437.0 1370.8 1439.7 1370.2 1442.5 1369.7 1445.3 1365.2 1448.1 1369.9 1450.9 1369.4 1453.6 1367.2 1456.4 1370.7 1459.2 1371.7 1462.0 1370.7 1464.8 1369.4 1467.5 1367.5 1470.3 1370.6 1473.1 1368.1 1475.9 1370.5 1478.7 1368.2 1481.4 1368.3 1484.2 1370.8 1487.0 1369.0 1489.8 1366.4 1492.6 1372.2 1495.3 1371.1 1498.1 1371.6 1500.9 1367.8 1503.7 1370.5 1506.5 1372.1 1509.2 1371.4 1512.0 1369.7 1514.8 1372.3 1517.6 1370.1 1520.4 1367.9 1523.1 1370.4 1525.9 1369.8 1528.7 1368.7 1531.5 1372.7 1534.3 1369.1 1537.0 1373.4 1539.8 1369.9 1542.6 1370.9 1545.4 1371.2 1548.2 1372.7 1550.9 1371.1 1553.7 1372.0 1556.5 1372.6 1559.3 1370.9 1562.1 1371.1 1564.8 1370.5 1567.6 1369.9 1570.4 1375.7 1573.2 1371.7 1576.0 1373.9 1578.7 1371.6 1581.5 1376.1 1584.3 1374.4 1587.1 1375.5 1589.9 1373.6 1592.6 1375.6 1595.4 1372.5 1598.2 1371.4 1601.0 1376.3 1603.8 1375.6 1606.5 1374.7 1609.3 1373.9 1612.1 1373.4 1614.9 1372.5 1617.7 1373.6 1620.4 1374.5 1623.2 1376.0 1626.0 1374.1 1628.8 1371.6 1631.6 1371.7 1634.3 1372.6 1637.1 1372.3 1639.9 1375.6 1642.7 1376.5 1645.5 1376.0 1648.2 1373.2 1651.0 1372.3 1653.8 1376.0 1656.6 1369.5 1659.4 1373.7 1662.1 1369.8 1664.9 1373.8 1667.7 1373.4 1670.5 1376.4 1673.3 1372.7 1676.0 1374.0 1678.8 1374.0 1681.6 1373.2 1684.4 1374.1 1687.2 1371.2 1689.9 1372.9 1692.7 1374.6 1695.5 1375.1 1698.3 1376.5 1701.1 1376.5 1703.8 1375.2 1706.6 1374.5 1709.4 1373.6 1712.2 1375.9 1715.0 1372.7 1717.7 1376.0 1720.5 1373.6 1723.3 1375.1 1726.1 1377.4 1728.9 1372.7 1731.6 1375.9 1734.4 1374.6 1737.2 1373.9 1740.0 1375.0 1742.8 1378.7 1745.5 1377.6 1748.3 1374.2 1751.1 1373.7 1753.9 1375.7 1756.7 1371.9 1759.4 1374.6 1762.2 1375.6 1765.0 1377.2 1767.8 1374.2 1770.6 1374.5 1773.3 1376.1 1776.1 1372.0 1778.9 1375.1 1781.7 1376.5 1784.5 1375.2 1787.2 1379.7 1790.0 1379.5 1792.8 1373.2 1795.6 1375.4 1798.4 1375.1 1801.1 1374.0 1803.9 1372.9 1806.7 1378.1 1809.5 1375.6 1812.3 1375.6 1815.0 1379.2 1817.8 1376.7 1820.6 1373.5 1823.4 1374.3 1826.2 1373.2 1828.9 1376.0 1831.7 1375.1 1834.5 1377.5 1837.3 1375.3 1840.1 1377.4 1842.8 1379.6 1845.6 1375.0 1848.4 1375.7 1851.2 1376.1 1854.0 1379.2 1856.7 1374.8 1859.5 1373.3 1862.3 1372.8 1865.1 1376.4 1867.9 1373.9 1870.6 1375.1 1873.4 1378.6 1876.2 1375.5 1879.0 1377.0 1881.8 1376.9 1884.5 1377.2 1887.3 1375.8 1890.1 1375.0 1892.9 1380.6 1895.7 1376.3 1898.4 1376.5 1901.2 1377.5 1904.0 1378.4 1906.8 1373.7 1909.6 1374.7 1912.3 1379.0 1915.1 1378.6 1917.9 1376.1 1920.7 1374.5 1923.5 1377.7 1926.2 1378.5 1929.0 1374.6 1931.8 1377.9 1934.6 1376.9 1937.4 1377.7 1940.1 1377.5 1942.9 1378.5 1945.7 1376.6 1948.5 1378.2 1951.3 1377.8 1954.0 1379.6 1956.8 1377.8 1959.6 1376.6 1962.4 1376.6 1965.2 1378.3 1967.9 1377.9 1970.7 1377.9 1973.5 1378.0 1976.3 1378.3 1979.1 1380.2 1981.8 1374.8 1984.6 1380.6 1987.4 1380.4 1990.2 1377.7 1993.0 1377.4 1995.7 1377.6 1998.5 1378.5" fill="none" stroke="none" marker-start="url(#msb)" marker-mid="url(#msb)" marker-end="url(#msb)"/><path d="M1165.8 1155.7 1168.6 1204.7 1171.5 1230.6 1174.4 1269.5 1178.7 1302.6 1183.1 1319.9 1188.8 1356.1 1191.6 1353.7 1194.4 1355.9 1197.1 1358.6 1199.9 1357.5 1202.7 1357.5 1205.5 1358.5 1208.3 1357.5 1211.0 1363.6 1213.8 1358.6 1216.6 1358.9 1219.4 1360.4 1222.2 1360.2 1224.9 1357.6 1227.7 1356.5 1230.5 1359.9 1233.3 1359.5 1236.1 1360.5 1238.8 1360.5 1241.6 1361.4 1244.4 1360.9 1247.2 1360.7 1250.0 1359.2 1252.7 1358.8 1255.5 1357.6 1258.3 1358.6 1261.1 1358.2 1263.9 1358.6 1266.6 1362.5 1269.4 1349.3 1272.2 1356.5 1275.0 1360.8 1277.8 1358.8 1280.5 1357.7 1283.3 1361.1 1286.1 1360.2 1288.9 1355.1 1291.7 1358.1 1294.4 1354.6 1297.2 1363.7 1300.0 1357.8 1302.8 1360.8 1305.6 1362.3 1308.3 1362.2 1311.1 1360.7 1313.9 1357.2 1316.7 1359.1 1319.5 1362.0 1322.2 1362.5 1325.0 1359.6 1327.8 1361.0 1330.6 1358.0 1333.4 1359.7 1336.1 1357.0 1338.9 1358.2 1341.7 1362.5 1344.5 1363.8 1347.3 1360.2 1350.0 1358.6 1352.8 1359.0 1355.6 1359.7 1358.4 1359.6 1361.2 1357.6 1363.9 1361.8 1366.7 1357.7 1369.5 1362.3 1372.3 1362.7 1375.1 1360.9 1377.8 1358.7 1380.6 1360.5 1383.4 1360.0 1386.2 1363.4 1389.0 1359.5 1391.7 1356.4 1394.5 1357.3 1397.3 1357.6 1400.1 1355.9 1402.9 1361.3 1405.6 1355.1 1408.4 1361.1 1411.2 1359.3 1414.0 1360.4 1416.8 1357.3 1419.5 1359.9 1422.3 1359.7 1425.1 1353.8 1427.9 1355.7 1430.7 1359.0 1433.4 1360.0 1436.2 1360.4 1439.0 1360.4 1441.8 1354.3 1444.6 1362.8 1447.3 1358.3 1450.1 1359.4 1452.9 1358.1 1455.7 1358.4 1458.5 1359.5 1461.2 1358.8 1464.0 1359.4 1466.8 1357.7 1469.6 1357.9 1472.4 1357.4 1475.1 1354.5 1477.9 1355.5 1480.7 1356.2 1483.5 1356.2 1486.3 1359.2 1489.0 1361.5 1491.8 1360.6 1494.6 1357.0 1497.4 1353.3 1500.2 1360.9 1502.9 1356.4 1505.7 1356.5 1508.5 1365.7 1511.3 1357.4 1514.1 1358.9 1516.8 1359.5 1519.6 1353.0 1522.4 1349.2 1525.2 1361.4 1528.0 1355.9 1530.7 1354.3 1533.5 1356.1 1536.3 1354.9 1539.1 1357.9 1541.9 1363.7 1544.6 1357.5 1547.4 1357.9 1550.2 1358.2 1553.0 1354.2 1555.8 1356.4 1558.5 1354.4 1561.3 1354.4 1564.1 1353.8 1566.9 1356.3 1569.7 1358.3 1572.4 1356.0 1575.2 1354.2 1578.0 1352.7 1580.8 1356.9 1583.6 1352.7 1586.3 1354.1 1589.1 1355.4 1591.9 1352.6 1594.7 1349.2 1597.5 1350.0 1600.2 1352.7 1603.0 1357.7 1605.8 1349.9 1608.6 1354.1 1611.4 1353.9 1614.1 1347.2 1616.9 1357.3 1619.7 1351.8 1622.5 1353.2 1625.3 1352.0 1628.0 1353.7 1630.8 1351.8 1633.6 1348.4 1636.4 1355.8 1639.2 1350.7 1641.9 1354.3 1644.7 1348.7 1647.5 1351.2 1650.3 1349.4 1653.1 1359.1 1655.8 1355.2 1658.6 1350.2 1661.4 1348.3 1664.2 1350.1 1667.0 1352.7 1669.7 1353.8 1672.5 1349.2 1675.3 1357.3 1678.1 1348.5 1680.9 1351.1 1683.6 1354.7 1686.4 1346.9 1689.2 1354.7 1692.0 1350.3 1694.8 1347.3 1697.5 1352.7 1700.3 1351.3 1703.1 1348.4 1705.9 1346.0 1708.7 1349.3 1711.4 1348.5 1714.2 1341.8 1717.0 1345.2 1719.8 1351.4 1722.6 1351.1 1725.3 1347.7 1728.1 1341.2 1730.9 1345.3 1733.7 1348.7 1736.5 1330.6 1739.2 1341.1 1742.0 1352.0 1744.8 1343.5 1747.6 1345.2 1750.4 1342.4 1753.1 1342.2 1755.9 1345.6 1758.7 1340.0 1761.5 1343.6 1764.3 1348.1 1767.0 1339.1 1769.8 1339.2 1772.6 1341.1 1775.4 1336.9 1778.2 1332.8 1780.9 1338.4 1783.7 1338.6 1786.5 1333.8 1789.3 1345.3 1792.1 1336.9 1794.8 1344.5 1797.6 1338.5 1800.4 1338.1 1803.2 1334.2 1806.0 1332.5 1808.7 1340.7 1811.5 1340.8 1814.3 1335.6 1817.1 1332.1 1819.9 1339.7 1822.6 1339.3 1825.4 1331.5 1828.2 1338.0 1831.0 1331.9 1833.8 1340.0 1836.5 1337.4 1839.3 1326.6 1842.1 1334.7 1844.9 1332.4 1847.7 1331.4 1850.4 1332.1 1853.2 1343.9 1856.0 1336.7 1858.8 1329.5 1861.6 1336.8 1864.3 1321.4 1867.1 1330.4 1869.9 1328.7 1872.7 1328.2 1875.5 1330.6 1878.2 1328.6 1881.0 1335.9 1883.8 1331.9 1886.6 1331.5 1889.4 1327.6 1892.1 1327.1 1894.9 1332.1 1897.7 1327.8 1900.5 1326.3 1903.3 1327.9 1906.0 1319.8 1908.8 1320.8 1911.6 1317.8 1914.4 1329.5 1917.2 1321.7 1919.9 1329.5 1922.7 1321.9 1925.5 1324.2 1928.3 1319.8 1931.1 1324.9 1933.8 1323.4 1936.6 1319.9 1939.4 1322.0 1942.2 1316.3 1945.0 1318.6 1947.7 1320.1 1950.5 1316.7 1953.3 1319.1 1956.1 1322.1 1958.9 1314.0 1961.6 1325.3 1964.4 1308.9 1967.2 1305.9 1970.0 1312.1 1972.8 1325.1 1975.5 1323.2 1978.3 1318.2 1981.1 1321.7 1983.9 1320.9 1986.7 1319.9 1989.4 1319.4 1992.2 1312.9 1995.0 1306.6 1997.8 1318.6 2000.6 1322.5" fill="none" stroke="none" marker-start="url(#msm)" marker-mid="url(#msm)" marker-end="url(#msm)"/><path d="M1165.8 1164.3 1168.6 1216.2 1170.1 1328.6 1174.4 1339.7 1177.2 1342.9 1180.0 1339.6 1182.7 1342.0 1185.5 1339.6 1188.3 1341.6 1191.1 1343.9 1193.9 1342.6 1196.6 1343.2 1199.4 1342.5 1202.2 1342.1 1205.0 1347.9 1207.8 1340.4 1210.5 1343.3 1213.3 1346.9 1216.1 1341.2 1218.9 1342.2 1221.7 1343.0 1224.4 1341.9 1227.2 1343.7 1230.0 1344.6 1232.8 1344.1 1235.6 1342.3 1238.3 1346.7 1241.1 1342.6 1243.9 1343.3 1246.7 1345.1 1249.5 1343.5 1252.2 1347.4 1255.0 1341.3 1257.8 1346.8 1260.6 1345.4 1263.4 1343.7 1266.1 1346.5 1268.9 1343.5 1271.7 1344.6 1274.5 1342.5 1277.3 1341.7 1280.0 1348.5 1282.8 1343.3 1285.6 1345.6 1288.4 1348.2 1291.2 1345.4 1293.9 1342.3 1296.7 1344.3 1299.5 1343.5 1302.3 1345.2 1305.1 1343.5 1307.8 1343.5 1310.6 1344.5 1313.4 1344.4 1316.2 1344.9 1319.0 1343.7 1321.7 1348.2 1324.5 1344.8 1327.3 1348.2 1330.1 1345.8 1332.9 1342.4 1335.6 1343.9 1338.4 1343.7 1341.2 1339.4 1344.0 1344.8 1346.8 1346.8 1349.5 1343.8 1352.3 1338.6 1355.1 1345.7 1357.9 1340.1 1360.7 1342.4 1363.4 1344.6 1366.2 1343.9 1369.0 1343.9 1371.8 1340.5 1374.6 1343.1 1377.3 1340.4 1380.1 1342.8 1382.9 1341.9 1385.7 1341.7 1388.5 1344.7 1391.2 1338.7 1394.0 1341.2 1396.8 1338.3 1399.6 1341.8 1402.4 1341.6 1405.1 1339.2 1407.9 1342.2 1410.7 1340.8 1413.5 1336.8 1416.3 1345.5 1419.0 1343.1 1421.8 1338.0 1424.6 1339.8 1427.4 1341.1 1430.2 1335.7 1432.9 1334.4 1435.7 1332.5 1438.5 1327.6 1441.3 1327.0 1444.1 1329.5 1446.8 1328.3 1449.6 1325.6 1452.4 1326.0 1455.2 1325.3 1458.0 1327.2 1460.7 1325.1 1463.5 1319.5 1466.3 1323.5 1469.1 1325.1 1471.9 1316.2 1474.6 1318.0 1477.4 1321.8 1480.2 1324.0 1483.0 1322.3 1485.8 1326.5 1488.5 1313.9 1491.3 1317.1 1494.1 1327.9 1496.9 1322.9 1499.7 1318.5 1502.4 1322.1 1505.2 1320.7 1508.0 1320.8 1510.8 1320.1 1513.6 1316.3 1516.3 1318.0 1519.1 1322.5 1521.9 1315.3 1524.7 1311.6 1527.5 1315.7 1530.2 1308.6 1533.0 1309.0 1535.8 1321.0 1538.6 1318.9 1541.4 1307.1 1544.1 1312.7 1546.9 1312.6 1549.7 1317.5 1552.5 1312.8 1555.3 1322.3 1558.0 1312.5 1560.8 1314.6 1563.6 1316.1 1566.4 1312.8 1569.2 1305.3 1571.9 1312.9 1574.7 1312.1 1577.5 1305.4 1580.3 1302.0 1583.1 1305.2 1585.8 1314.0 1588.6 1310.0 1591.4 1307.8 1594.2 1301.9 1597.0 1308.3 1599.7 1307.7 1602.5 1306.0 1605.3 1302.6 1608.1 1306.4 1610.9 1304.5 1613.6 1299.6 1616.4 1304.6 1619.2 1302.3 1622.0 1307.7 1624.8 1299.6 1627.5 1294.3 1630.3 1305.4 1633.1 1302.4 1635.9 1302.6 1638.7 1302.2 1641.4 1303.0 1644.2 1308.0 1647.0 1309.9 1649.8 1306.6 1652.6 1308.3 1655.3 1299.6 1658.1 1300.0 1660.9 1301.2 1663.7 1305.6 1666.5 1299.3 1669.2 1299.3 1672.0 1307.7 1674.8 1309.9 1677.6 1300.9 1680.4 1312.8 1683.1 1310.2 1685.9 1301.7 1688.7 1305.0 1691.5 1310.1 1694.3 1304.0 1697.0 1304.4 1699.8 1307.2 1702.6 1313.0 1705.4 1302.8 1708.2 1306.0 1710.9 1302.5 1713.7 1301.8 1716.5 1312.9 1719.3 1311.6 1722.1 1304.3 1724.8 1306.6 1727.6 1309.7 1730.4 1309.1 1733.2 1314.6 1736.0 1311.6 1738.7 1299.0 1741.5 1301.6 1744.3 1310.1 1747.1 1305.7 1749.9 1313.3 1752.6 1310.7 1755.4 1312.5 1758.2 1317.0 1761.0 1311.6 1763.8 1306.0 1766.5 1311.1 1769.3 1314.3 1772.1 1310.8 1774.9 1311.0 1777.7 1322.4 1780.4 1311.4 1783.2 1317.8 1786.0 1320.6 1788.8 1316.1 1791.6 1314.9 1794.3 1318.4 1797.1 1324.1 1799.9 1320.7 1802.7 1325.6 1805.5 1316.6 1808.2 1326.1 1811.0 1320.4 1813.8 1319.4 1816.6 1321.2 1819.4 1320.3 1822.1 1326.1 1824.9 1324.3 1827.7 1323.2 1830.5 1331.2 1833.3 1328.5 1836.0 1328.4 1838.8 1329.6 1841.6 1327.0 1844.4 1330.8 1847.2 1332.1 1849.9 1334.6 1852.7 1333.0 1855.5 1331.8 1858.3 1335.2 1861.1 1334.3 1863.8 1329.5 1866.6 1337.5 1869.4 1330.9 1872.2 1331.0 1875.0 1333.5 1877.7 1335.2 1880.5 1336.3 1883.3 1332.7 1886.1 1337.2 1888.9 1335.4 1891.6 1331.8 1894.4 1332.5 1897.2 1333.9 1900.0 1337.5 1902.8 1339.2 1905.5 1335.4 1908.3 1335.1 1911.1 1338.4 1913.9 1341.0 1916.7 1337.8 1919.4 1340.3 1922.2 1338.4 1925.0 1339.2 1927.8 1336.9 1930.6 1339.6 1933.3 1339.5 1936.1 1333.2 1938.9 1341.7 1941.7 1340.8 1944.5 1342.0 1947.2 1340.9 1950.0 1341.1 1952.8 1342.7 1955.6 1346.2 1958.4 1338.2 1961.1 1342.5 1963.9 1343.2 1966.7 1340.9 1969.5 1338.8 1972.3 1340.0 1975.0 1347.7 1977.8 1345.6 1980.6 1342.3 1983.4 1344.6 1986.2 1344.4 1988.9 1344.7 1991.7 1347.5 1994.5 1342.8 1997.3 1343.3 2000.1 1343.5" fill="none" stroke="none" marker-start="url(#mDc)" marker-mid="url(#mDc)" marker-end="url(#mDc)"/></g>
<line x1="1156.5" x2="1165.5" y1="940.5" y2="940.5" stroke="#000" stroke-width="3"/>
<line x1="1156.5" x2="1165.5" y1="1375.1" y2="1375.1" stroke="#000" stroke-width="3"/>
<line x1="1165.3" x2="1165.3" y1="1505.8" y2="1514.3" stroke="#000" stroke-width="3"/>
<text x="1162.45" y="1555.8" font-size="30.4">0</text>
<line x1="1298.64" x2="1298.64" y1="1505.8" y2="1514.3" stroke="#000" stroke-width="3"/>
<text x="1288.55" y="1555.8" font-size="30.4">8</text>
<line x1="1431.97" x2="1431.97" y1="1505.8" y2="1514.3" stroke="#000" stroke-width="3"/>
<text x="1416.6" y="1555.8" font-size="30.4">16</text>
<line x1="1565.31" x2="1565.31" y1="1505.8" y2="1514.3" stroke="#000" stroke-width="3"/>
<text x="1548.77" y="1555.8" font-size="30.4">24</text>
<line x1="1698.64" x2="1698.64" y1="1505.8" y2="1514.3" stroke="#000" stroke-width="3"/>
<text x="1683.78" y="1555.8" font-size="30.4">32</text>
<line x1="1831.98" x2="1831.98" y1="1505.8" y2="1514.3" stroke="#000" stroke-width="3"/>
<text x="1815.94" y="1555.8" font-size="30.4">40</text>
<line x1="1965.32" x2="1965.32" y1="1505.8" y2="1514.3" stroke="#000" stroke-width="3"/>
<text x="1949.4" y="1555.8" font-size="30.4">48</text>
<text x="1133.18" y="950.2" font-size="30.4">1</text>
<text x="1110" y="1386" font-size="29">0.1</text>
<text x="1533.22" y="1607.3" font-size="30.4">time [h]</text>
<text transform="translate(1057.4,1333.6) rotate(90)" font-size="30.4" text-anchor="middle">log OD600</text>
<text x="1175.28" y="947.9" font-size="38">DADMAC-C10</text>
<text x="1175.84" y="994.8" font-size="38">kaolinite</text>
<text x="1084.48" y="1685.8" font-size="37">f</text>
<rect x="1165.5" y="1703.6" width="833.7" height="601.4" fill="none" stroke="#000" stroke-width="3"/>
<g><path d="M1165.8 2002.0 1170.1 2004.6 1172.9 2014.3 1175.7 2022.8 1178.4 2032.1 1181.2 2039.7 1184.0 2047.9 1186.8 2054.2 1189.6 2059.8 1192.3 2068.7 1195.1 2075.0 1197.9 2081.9 1200.7 2094.0 1203.5 2108.7 1206.2 2122.5 1209.0 2136.5 1211.8 2140.6 1214.6 2144.9 1217.4 2145.0 1220.1 2145.8 1222.9 2145.3 1225.7 2143.7 1228.5 2145.4 1231.3 2144.5 1234.0 2141.8 1236.8 2136.7 1239.6 2135.5 1242.4 2132.4 1245.2 2124.9 1247.9 2120.4 1250.7 2115.6 1253.5 2107.4 1256.3 2103.8 1259.1 2096.0 1261.8 2091.9 1264.6 2085.6 1267.4 2076.6 1270.2 2070.0 1273.0 2060.6 1275.7 2054.1 1278.5 2046.8 1281.3 2040.6 1284.1 2031.4 1286.9 2024.0 1289.6 2014.9 1292.4 2006.0 1295.2 1998.4 1298.0 1990.2 1300.8 1981.4 1303.5 1973.7 1306.3 1963.3 1309.1 1955.2 1311.9 1946.2 1314.7 1935.1 1317.4 1925.7 1320.2 1916.4 1323.0 1907.4 1325.8 1902.3 1328.6 1893.4 1331.3 1888.6 1334.1 1879.8 1336.9 1878.2 1339.7 1873.3 1342.5 1869.3 1345.2 1866.6 1348.0 1864.0 1350.8 1858.6 1353.6 1859.3 1356.4 1855.6 1359.1 1856.0 1361.9 1853.7 1364.7 1852.8 1367.5 1850.8 1370.3 1848.2 1373.0 1847.6 1375.8 1847.3 1378.6 1845.5 1381.4 1844.7 1384.2 1842.7 1386.9 1842.9 1389.7 1843.1 1392.5 1840.4 1395.3 1838.4 1398.1 1835.7 1400.8 1835.1 1403.6 1834.9 1406.4 1832.3 1409.2 1831.7 1412.0 1829.5 1414.7 1828.2 1417.5 1827.5 1420.3 1825.6 1423.1 1824.2 1425.9 1823.7 1428.6 1822.0 1431.4 1819.2 1434.2 1820.3 1437.0 1819.8 1439.8 1817.6 1442.5 1815.9 1445.3 1814.2 1448.1 1813.4 1450.9 1812.8 1453.7 1812.7 1456.4 1810.7 1459.2 1809.5 1462.0 1807.6 1464.8 1807.5 1467.6 1805.6 1470.3 1806.7 1473.1 1804.4 1475.9 1802.8 1478.7 1803.4 1481.5 1802.2 1484.2 1799.6 1487.0 1797.3 1489.8 1798.4 1492.6 1795.8 1495.4 1795.8 1498.1 1793.3 1500.9 1792.9 1503.7 1792.0 1506.5 1790.5 1509.3 1789.4 1512.0 1790.3 1514.8 1788.1 1517.6 1788.6 1520.4 1787.1 1523.2 1785.7 1525.9 1785.2 1528.7 1783.6 1531.5 1783.0 1534.3 1782.5 1537.1 1781.6 1539.8 1780.0 1542.6 1780.5 1545.4 1779.2 1548.2 1779.4 1551.0 1776.8 1553.7 1778.7 1556.5 1776.2 1559.3 1776.4 1562.1 1775.4 1564.9 1773.1 1567.6 1773.6 1570.4 1774.3 1573.2 1774.0 1576.0 1772.0 1578.8 1773.0 1581.5 1772.1 1584.3 1770.5 1587.1 1771.9 1589.9 1770.5 1592.7 1769.1 1595.4 1770.6 1598.2 1770.0 1601.0 1769.3 1603.8 1768.4 1606.6 1768.8 1609.3 1770.0 1612.1 1768.3 1614.9 1767.6 1617.7 1767.5 1620.5 1769.0 1623.2 1769.3 1626.0 1766.7 1628.8 1767.0 1631.6 1767.9 1634.4 1767.9 1637.1 1766.4 1639.9 1767.0 1642.7 1768.1 1645.5 1766.1 1648.3 1766.2 1651.0 1766.5 1653.8 1766.8 1656.6 1766.3 1659.4 1765.2 1662.2 1766.1 1664.9 1766.8 1667.7 1765.1 1670.5 1765.2 1673.3 1765.3 1676.1 1767.3 1678.8 1765.5 1681.6 1764.8 1684.4 1766.7 1687.2 1766.4 1690.0 1765.2 1692.7 1765.6 1695.5 1765.5 1698.3 1765.8 1701.1 1765.2 1703.9 1765.5 1706.6 1764.8 1709.4 1765.4 1712.2 1765.8 1715.0 1765.4 1717.8 1765.0 1720.5 1763.9 1723.3 1765.6 1726.1 1765.2 1728.9 1765.3 1731.7 1766.8 1734.4 1765.5 1737.2 1765.2 1740.0 1765.6 1742.8 1763.9 1745.6 1765.1 1748.3 1765.2 1751.1 1765.7 1753.9 1765.7 1756.7 1766.0 1759.5 1765.1 1762.2 1764.6 1765.0 1764.8 1767.8 1763.4 1770.6 1763.8 1773.4 1764.1 1776.1 1765.1 1778.9 1764.3 1781.7 1762.9 1784.5 1764.4 1787.3 1764.1 1790.0 1763.7 1792.8 1764.3 1795.6 1763.3 1798.4 1764.0 1801.2 1763.3 1803.9 1762.2 1806.7 1763.0 1809.5 1763.2 1812.3 1764.1 1815.1 1761.9 1817.8 1762.2 1820.6 1760.8 1823.4 1761.2 1826.2 1760.0 1829.0 1761.7 1831.7 1762.1 1834.5 1760.3 1837.3 1762.0 1840.1 1761.1 1842.9 1760.4 1845.6 1760.7 1848.4 1759.4 1851.2 1760.5 1854.0 1760.3 1856.8 1758.8 1859.5 1760.0 1862.3 1759.2 1865.1 1759.0 1867.9 1759.0 1870.7 1759.5 1873.4 1759.1 1876.2 1760.1 1879.0 1760.6 1881.8 1759.4 1884.6 1758.9 1887.3 1759.7 1890.1 1758.1 1892.9 1759.0 1895.7 1758.8 1898.5 1760.0 1901.2 1759.7 1904.0 1759.7 1906.8 1757.7 1909.6 1759.6 1912.4 1759.7 1915.1 1758.4 1917.9 1761.0 1920.7 1759.9 1923.5 1761.3 1926.3 1759.8 1929.0 1758.0 1931.8 1760.6 1934.6 1759.3 1937.4 1759.6 1940.2 1760.1 1942.9 1758.3 1945.7 1759.9 1948.5 1758.3 1951.3 1760.1 1954.1 1759.6 1956.8 1759.1 1959.6 1759.0 1962.4 1759.4 1965.2 1758.8 1968.0 1757.1 1970.7 1759.5 1973.5 1759.2 1976.3 1759.2 1979.1 1758.6 1981.9 1759.3 1984.6 1759.4 1987.4 1759.2 1990.2 1757.0 1993.0 1758.2 1995.8 1759.1 1998.5 1758.3 2001.3 1759.3" fill="none" stroke="none" marker-start="url(#mok)" marker-mid="url(#mok)" marker-end="url(#mok)"/><path d="M1168.0 2003.3 1170.8 2011.2 1173.6 2019.4 1176.3 2026.9 1179.1 2036.9 1181.9 2044.1 1184.7 2054.4 1187.5 2063.5 1190.2 2074.2 1193.0 2093.9 1195.8 2120.0 1198.6 2154.3 1201.4 2162.8 1204.1 2163.4 1206.9 2164.2 1209.7 2165.0 1212.5 2165.4 1215.3 2165.2 1218.0 2165.1 1220.8 2165.6 1223.6 2165.1 1226.4 2163.0 1229.2 2162.5 1231.9 2157.6 1234.7 2158.1 1237.5 2153.0 1240.3 2150.5 1243.1 2146.6 1245.8 2143.5 1248.6 2137.6 1251.4 2133.6 1254.2 2125.7 1257.0 2116.4 1259.7 2108.7 1262.5 2101.2 1265.3 2093.0 1268.1 2084.2 1270.9 2075.5 1273.6 2068.6 1276.4 2060.6 1279.2 2053.6 1282.0 2045.7 1284.8 2037.3 1287.5 2029.3 1290.3 2021.9 1293.1 2014.7 1295.9 2007.2 1298.7 1999.4 1301.4 1992.1 1304.2 1985.4 1307.0 1977.8 1309.8 1972.8 1312.6 1964.5 1315.3 1959.5 1318.1 1952.7 1320.9 1945.8 1323.7 1943.6 1326.5 1939.2 1329.2 1933.6 1332.0 1926.6 1334.8 1921.1 1337.6 1919.3 1340.4 1915.7 1343.1 1911.7 1345.9 1908.4 1348.7 1904.3 1351.5 1902.5 1354.3 1897.6 1357.0 1895.1 1359.8 1893.0 1362.6 1891.3 1365.4 1887.8 1368.2 1885.0 1370.9 1882.2 1373.7 1878.8 1376.5 1874.8 1379.3 1872.4 1382.1 1869.3 1384.8 1865.7 1387.6 1864.8 1390.4 1863.6 1393.2 1861.3 1396.0 1860.0 1398.7 1860.0 1401.5 1859.3 1404.3 1858.2 1407.1 1857.3 1409.9 1855.4 1412.6 1854.0 1415.4 1852.2 1418.2 1850.4 1421.0 1847.8 1423.8 1848.9 1426.5 1848.7 1429.3 1847.2 1432.1 1847.8 1434.9 1846.6 1437.7 1845.1 1440.4 1843.3 1443.2 1843.8 1446.0 1842.7 1448.8 1839.5 1451.6 1839.8 1454.3 1838.9 1457.1 1835.9 1459.9 1836.7 1462.7 1833.6 1465.5 1832.8 1468.2 1830.6 1471.0 1829.7 1473.8 1828.3 1476.6 1827.9 1479.4 1825.0 1482.1 1824.3 1484.9 1823.0 1487.7 1820.8 1490.5 1819.9 1493.3 1817.0 1496.0 1815.7 1498.8 1814.9 1501.6 1812.6 1504.4 1811.8 1507.2 1810.9 1509.9 1809.4 1512.7 1808.8 1515.5 1807.9 1518.3 1808.3 1521.1 1807.1 1523.8 1804.6 1526.6 1806.5 1529.4 1806.3 1532.2 1805.0 1535.0 1804.6 1537.7 1802.4 1540.5 1803.6 1543.3 1802.1 1546.1 1800.9 1548.9 1801.2 1551.6 1799.8 1554.4 1798.2 1557.2 1798.2 1560.0 1797.9 1562.8 1796.6 1565.5 1796.4 1568.3 1794.5 1571.1 1792.4 1573.9 1793.6 1576.7 1791.8 1579.4 1790.6 1582.2 1788.2 1585.0 1788.9 1587.8 1789.4 1590.6 1787.5 1593.3 1786.5 1596.1 1788.5 1598.9 1786.2 1601.7 1786.1 1604.5 1785.0 1607.2 1785.6 1610.0 1784.2 1612.8 1782.9 1615.6 1782.6 1618.4 1782.4 1621.1 1783.2 1623.9 1781.3 1626.7 1780.5 1629.5 1781.0 1632.3 1780.5 1635.0 1778.6 1637.8 1778.7 1640.6 1778.6 1643.4 1777.3 1646.2 1777.7 1648.9 1776.9 1651.7 1775.1 1654.5 1776.2 1657.3 1775.1 1660.1 1774.3 1662.8 1772.4 1665.6 1773.9 1668.4 1771.5 1671.2 1772.8 1674.0 1773.3 1676.7 1770.8 1679.5 1771.0 1682.3 1770.4 1685.1 1770.9 1687.9 1769.7 1690.6 1768.9 1693.4 1769.7 1696.2 1767.0 1699.0 1767.6 1701.8 1765.7 1704.5 1766.6 1707.3 1766.9 1710.1 1765.1 1712.9 1765.6 1715.7 1766.5 1718.4 1763.6 1721.2 1764.5 1724.0 1763.9 1726.8 1765.1 1729.6 1763.1 1732.3 1762.3 1735.1 1763.3 1737.9 1761.6 1740.7 1760.9 1743.5 1761.4 1746.2 1759.6 1749.0 1761.2 1751.8 1760.7 1754.6 1759.0 1757.4 1758.2 1760.1 1758.6 1762.9 1759.6 1765.7 1759.3 1768.5 1757.6 1771.3 1757.5 1774.0 1757.1 1776.8 1757.4 1779.6 1756.5 1782.4 1755.5 1785.2 1756.6 1787.9 1756.8 1790.7 1754.4 1793.5 1756.4 1796.3 1754.6 1799.1 1754.0 1801.8 1753.8 1804.6 1754.0 1807.4 1752.2 1810.2 1752.4 1813.0 1754.1 1815.7 1751.6 1818.5 1749.7 1821.3 1750.7 1824.1 1752.8 1826.9 1749.5 1829.6 1750.7 1832.4 1750.6 1835.2 1750.3 1838.0 1750.3 1840.8 1748.0 1843.5 1751.3 1846.3 1748.8 1849.1 1750.3 1851.9 1750.5 1854.7 1748.7 1857.4 1748.2 1860.2 1749.3 1863.0 1749.5 1865.8 1749.2 1868.6 1747.6 1871.3 1747.3 1874.1 1746.3 1876.9 1748.2 1879.7 1748.0 1882.5 1747.5 1885.2 1746.2 1888.0 1746.0 1890.8 1745.8 1893.6 1746.5 1896.4 1747.6 1899.1 1746.5 1901.9 1746.0 1904.7 1746.1 1907.5 1745.4 1910.3 1745.8 1913.0 1745.0 1915.8 1746.8 1918.6 1745.6 1921.4 1745.2 1924.2 1746.2 1926.9 1745.7 1929.7 1746.0 1932.5 1744.5 1935.3 1744.3 1938.1 1746.1 1940.8 1745.2 1943.6 1744.8 1946.4 1745.8 1949.2 1745.2 1952.0 1744.8 1954.7 1744.1 1957.5 1744.5 1960.3 1745.1 1963.1 1745.1 1965.9 1745.2 1968.6 1744.4 1971.4 1745.1 1974.2 1744.2 1977.0 1744.6 1979.8 1744.4 1982.5 1746.2 1985.3 1744.5 1988.1 1745.8 1990.9 1743.8 1993.7 1745.3 1996.4 1746.3 1999.2 1744.8 2002.0 1746.3" fill="none" stroke="none" marker-start="url(#mor)" marker-mid="url(#mor)" marker-end="url(#mor)"/><path d="M1170.1 2004.8 1172.9 2013.4 1175.7 2021.9 1178.4 2032.1 1181.2 2041.2 1184.0 2047.3 1186.8 2054.3 1189.6 2059.9 1192.3 2069.1 1195.1 2077.2 1197.9 2087.1 1200.7 2100.0 1203.5 2112.8 1206.2 2125.2 1209.0 2137.5 1211.8 2147.3 1214.6 2151.4 1217.4 2152.7 1220.1 2152.1 1222.9 2151.3 1225.7 2147.4 1228.5 2146.2 1231.3 2143.5 1234.0 2142.7 1236.8 2139.2 1239.6 2135.4 1242.4 2131.8 1245.2 2128.6 1247.9 2124.4 1250.7 2120.4 1253.5 2114.5 1256.3 2109.2 1259.1 2103.1 1261.8 2095.5 1264.6 2089.3 1267.4 2085.1 1270.2 2077.0 1273.0 2069.5 1275.7 2061.3 1278.5 2052.5 1281.3 2044.7 1284.1 2036.6 1286.9 2028.1 1289.6 2020.0 1292.4 2014.7 1295.2 2006.6 1298.0 1998.3 1300.8 1991.8 1303.5 1984.8 1306.3 1979.6 1309.1 1974.1 1311.9 1968.5 1314.7 1961.6 1317.4 1956.4 1320.2 1949.8 1323.0 1946.9 1325.8 1944.1 1328.6 1942.5 1331.3 1940.6 1334.1 1937.7 1336.9 1935.8 1339.7 1933.1 1342.5 1929.4 1345.2 1925.6 1348.0 1923.1 1350.8 1920.5 1353.6 1918.0 1356.4 1916.1 1359.1 1913.5 1361.9 1912.3 1364.7 1909.5 1367.5 1908.2 1370.3 1906.2 1373.0 1905.5 1375.8 1901.5 1378.6 1899.8 1381.4 1899.0 1384.2 1898.6 1386.9 1895.1 1389.7 1893.8 1392.5 1893.2 1395.3 1892.6 1398.1 1888.8 1400.8 1888.4 1403.6 1887.4 1406.4 1885.4 1409.2 1882.9 1412.0 1882.4 1414.7 1879.6 1417.5 1877.2 1420.3 1876.2 1423.1 1875.4 1425.9 1873.0 1428.6 1870.9 1431.4 1868.3 1434.2 1866.7 1437.0 1867.4 1439.8 1864.0 1442.5 1862.5 1445.3 1860.9 1448.1 1860.1 1450.9 1856.1 1453.7 1856.2 1456.4 1855.1 1459.2 1852.6 1462.0 1851.8 1464.8 1851.4 1467.6 1848.1 1470.3 1846.8 1473.1 1846.7 1475.9 1843.7 1478.7 1843.6 1481.5 1841.4 1484.2 1840.0 1487.0 1839.9 1489.8 1839.8 1492.6 1837.7 1495.4 1836.1 1498.1 1834.5 1500.9 1833.3 1503.7 1831.6 1506.5 1830.5 1509.3 1829.5 1512.0 1828.8 1514.8 1826.6 1517.6 1827.0 1520.4 1826.6 1523.2 1824.4 1525.9 1823.8 1528.7 1821.6 1531.5 1819.1 1534.3 1818.9 1537.1 1817.5 1539.8 1816.3 1542.6 1815.5 1545.4 1815.7 1548.2 1814.5 1551.0 1814.1 1553.7 1813.2 1556.5 1811.0 1559.3 1812.7 1562.1 1810.4 1564.9 1810.4 1567.6 1808.6 1570.4 1808.2 1573.2 1806.6 1576.0 1805.0 1578.8 1803.9 1581.5 1803.8 1584.3 1804.3 1587.1 1804.2 1589.9 1803.9 1592.7 1802.4 1595.4 1803.1 1598.2 1801.4 1601.0 1801.0 1603.8 1800.8 1606.6 1800.7 1609.3 1799.5 1612.1 1798.6 1614.9 1799.2 1617.7 1799.4 1620.5 1797.9 1623.2 1797.4 1626.0 1798.2 1628.8 1796.0 1631.6 1796.0 1634.4 1796.6 1637.1 1795.0 1639.9 1795.1 1642.7 1794.2 1645.5 1795.0 1648.3 1793.7 1651.0 1795.1 1653.8 1793.4 1656.6 1793.5 1659.4 1792.7 1662.2 1792.3 1664.9 1791.9 1667.7 1793.0 1670.5 1792.3 1673.3 1790.9 1676.1 1790.2 1678.8 1791.4 1681.6 1791.3 1684.4 1788.9 1687.2 1790.0 1690.0 1789.4 1692.7 1788.3 1695.5 1788.5 1698.3 1788.0 1701.1 1788.7 1703.9 1786.9 1706.6 1787.1 1709.4 1787.4 1712.2 1787.1 1715.0 1785.7 1717.8 1787.3 1720.5 1786.3 1723.3 1787.0 1726.1 1785.7 1728.9 1787.0 1731.7 1785.8 1734.4 1786.2 1737.2 1785.9 1740.0 1785.3 1742.8 1784.9 1745.6 1784.6 1748.3 1784.3 1751.1 1785.0 1753.9 1784.8 1756.7 1782.6 1759.5 1784.2 1762.2 1783.7 1765.0 1783.4 1767.8 1783.7 1770.6 1781.1 1773.4 1783.0 1776.1 1781.6 1778.9 1783.1 1781.7 1780.4 1784.5 1781.9 1787.3 1780.8 1790.0 1782.3 1792.8 1781.9 1795.6 1781.7 1798.4 1781.9 1801.2 1780.9 1803.9 1780.2 1806.7 1779.9 1809.5 1778.9 1812.3 1780.1 1815.1 1779.0 1817.8 1781.4 1820.6 1780.4 1823.4 1780.0 1826.2 1781.6 1829.0 1779.2 1831.7 1778.9 1834.5 1779.3 1837.3 1778.9 1840.1 1779.9 1842.9 1778.6 1845.6 1779.7 1848.4 1777.9 1851.2 1780.2 1854.0 1780.3 1856.8 1779.1 1859.5 1777.1 1862.3 1780.2 1865.1 1780.0 1867.9 1777.4 1870.7 1776.9 1873.4 1778.1 1876.2 1778.8 1879.0 1778.9 1881.8 1778.4 1884.6 1778.4 1887.3 1778.9 1890.1 1777.8 1892.9 1778.5 1895.7 1779.8 1898.5 1778.5 1901.2 1777.1 1904.0 1777.9 1906.8 1778.4 1909.6 1778.8 1912.4 1778.7 1915.1 1778.9 1917.9 1777.3 1920.7 1777.9 1923.5 1778.3 1926.3 1778.5 1929.0 1776.6 1931.8 1776.6 1934.6 1777.7 1937.4 1777.9 1940.2 1777.6 1942.9 1777.6 1945.7 1777.2 1948.5 1777.4 1951.3 1776.6 1954.1 1777.0 1956.8 1776.5 1959.6 1777.8 1962.4 1777.5 1965.2 1777.6 1968.0 1776.2 1970.7 1777.5 1973.5 1775.8 1976.3 1777.0 1979.1 1775.5 1981.9 1777.1 1984.6 1775.3 1987.4 1775.3 1990.2 1776.4 1993.0 1776.0 1995.8 1775.5 1998.5 1775.3 2001.3 1775.6" fill="none" stroke="none" marker-start="url(#mdg)" marker-mid="url(#mdg)" marker-end="url(#mdg)"/><path d="M1170.1 2007.4 1172.9 2015.6 1175.7 2023.7 1178.4 2033.1 1181.2 2043.0 1184.0 2049.9 1186.8 2056.5 1189.6 2065.3 1192.3 2071.8 1195.1 2083.1 1197.9 2091.5 1200.7 2102.2 1203.5 2121.7 1206.2 2144.2 1209.0 2162.0 1211.8 2170.1 1214.6 2170.1 1217.4 2170.0 1220.1 2168.6 1222.9 2165.5 1225.7 2165.5 1228.5 2163.8 1231.3 2159.0 1234.0 2157.1 1236.8 2150.1 1239.6 2147.6 1242.4 2142.1 1245.2 2137.5 1247.9 2132.7 1250.7 2128.5 1253.5 2122.4 1256.3 2113.8 1259.1 2106.3 1261.8 2098.7 1264.6 2092.1 1267.4 2087.0 1270.2 2076.9 1273.0 2068.6 1275.7 2059.7 1278.5 2052.9 1281.3 2046.4 1284.1 2039.7 1286.9 2031.8 1289.6 2023.4 1292.4 2015.8 1295.2 2008.9 1298.0 1999.9 1300.8 1993.5 1303.5 1986.6 1306.3 1979.4 1309.1 1975.2 1311.9 1967.7 1314.7 1962.7 1317.4 1954.4 1320.2 1949.2 1323.0 1945.5 1325.8 1940.1 1328.6 1935.1 1331.3 1931.6 1334.1 1926.4 1336.9 1921.6 1339.7 1919.0 1342.5 1915.8 1345.2 1913.0 1348.0 1907.1 1350.8 1904.5 1353.6 1900.8 1356.4 1898.9 1359.1 1895.8 1361.9 1891.4 1364.7 1890.5 1367.5 1885.5 1370.3 1883.9 1373.0 1881.3 1375.8 1878.7 1378.6 1876.5 1381.4 1873.0 1384.2 1871.5 1386.9 1869.7 1389.7 1866.9 1392.5 1867.1 1395.3 1865.5 1398.1 1862.8 1400.8 1863.4 1403.6 1861.4 1406.4 1858.5 1409.2 1857.6 1412.0 1856.0 1414.7 1855.0 1417.5 1855.3 1420.3 1852.7 1423.1 1850.3 1425.9 1851.5 1428.6 1848.4 1431.4 1847.7 1434.2 1846.3 1437.0 1845.9 1439.8 1844.3 1442.5 1843.4 1445.3 1842.5 1448.1 1841.5 1450.9 1840.9 1453.7 1837.9 1456.4 1836.7 1459.2 1835.8 1462.0 1835.3 1464.8 1832.3 1467.6 1831.6 1470.3 1829.9 1473.1 1827.7 1475.9 1827.7 1478.7 1825.9 1481.5 1824.0 1484.2 1822.5 1487.0 1820.7 1489.8 1819.3 1492.6 1818.8 1495.4 1816.1 1498.1 1815.0 1500.9 1814.5 1503.7 1812.7 1506.5 1811.1 1509.3 1808.8 1512.0 1808.9 1514.8 1808.3 1517.6 1807.5 1520.4 1804.6 1523.2 1806.1 1525.9 1805.7 1528.7 1804.1 1531.5 1803.5 1534.3 1801.7 1537.1 1800.5 1539.8 1801.0 1542.6 1799.4 1545.4 1798.8 1548.2 1798.7 1551.0 1798.2 1553.7 1794.5 1556.5 1795.8 1559.3 1794.9 1562.1 1794.6 1564.9 1792.6 1567.6 1792.4 1570.4 1790.5 1573.2 1786.6 1576.0 1789.9 1578.8 1787.3 1581.5 1787.6 1584.3 1786.9 1587.1 1785.6 1589.9 1784.5 1592.7 1783.9 1595.4 1783.9 1598.2 1783.0 1601.0 1781.8 1603.8 1782.3 1606.6 1781.5 1609.3 1782.1 1612.1 1781.0 1614.9 1780.1 1617.7 1779.9 1620.5 1779.2 1623.2 1777.5 1626.0 1778.0 1628.8 1776.9 1631.6 1778.1 1634.4 1776.5 1637.1 1775.1 1639.9 1776.8 1642.7 1774.4 1645.5 1774.2 1648.3 1773.8 1651.0 1774.0 1653.8 1773.2 1656.6 1773.6 1659.4 1772.6 1662.2 1771.1 1664.9 1771.2 1667.7 1771.3 1670.5 1770.7 1673.3 1769.3 1676.1 1769.3 1678.8 1769.1 1681.6 1768.3 1684.4 1767.3 1687.2 1767.3 1690.0 1767.8 1692.7 1766.5 1695.5 1766.9 1698.3 1765.4 1701.1 1765.9 1703.9 1765.5 1706.6 1762.7 1709.4 1763.7 1712.2 1763.7 1715.0 1763.8 1717.8 1763.6 1720.5 1764.3 1723.3 1761.1 1726.1 1762.2 1728.9 1761.7 1731.7 1762.2 1734.4 1760.1 1737.2 1759.2 1740.0 1760.1 1742.8 1759.1 1745.6 1759.1 1748.3 1759.0 1751.1 1758.3 1753.9 1757.9 1756.7 1757.9 1759.5 1758.0 1762.2 1757.4 1765.0 1757.7 1767.8 1758.2 1770.6 1755.3 1773.4 1755.6 1776.1 1756.3 1778.9 1754.6 1781.7 1755.3 1784.5 1755.5 1787.3 1755.3 1790.0 1754.8 1792.8 1754.7 1795.6 1751.8 1798.4 1753.2 1801.2 1752.7 1803.9 1753.4 1806.7 1751.6 1809.5 1750.8 1812.3 1752.1 1815.1 1750.7 1817.8 1752.6 1820.6 1750.5 1823.4 1751.7 1826.2 1750.9 1829.0 1751.4 1831.7 1750.5 1834.5 1748.9 1837.3 1750.8 1840.1 1750.4 1842.9 1750.8 1845.6 1747.9 1848.4 1747.9 1851.2 1748.2 1854.0 1747.1 1856.8 1748.1 1859.5 1747.9 1862.3 1748.5 1865.1 1749.9 1867.9 1746.3 1870.7 1748.2 1873.4 1748.3 1876.2 1747.6 1879.0 1748.1 1881.8 1748.1 1884.6 1748.3 1887.3 1748.9 1890.1 1747.1 1892.9 1747.0 1895.7 1747.8 1898.5 1746.6 1901.2 1748.4 1904.0 1746.7 1906.8 1747.1 1909.6 1748.0 1912.4 1745.7 1915.1 1745.7 1917.9 1746.0 1920.7 1746.8 1923.5 1746.9 1926.3 1745.3 1929.0 1747.2 1931.8 1746.5 1934.6 1747.3 1937.4 1747.7 1940.2 1745.1 1942.9 1746.0 1945.7 1745.5 1948.5 1745.4 1951.3 1744.9 1954.1 1746.0 1956.8 1745.7 1959.6 1744.3 1962.4 1744.9 1965.2 1745.0 1968.0 1745.5 1970.7 1746.4 1973.5 1745.7 1976.3 1745.2 1979.1 1745.5 1981.9 1745.9 1984.6 1744.6 1987.4 1745.1 1990.2 1744.8 1993.0 1746.3 1995.8 1744.9 1998.5 1746.3 2001.3 1745.3" fill="none" stroke="none" marker-start="url(#muy)" marker-mid="url(#muy)" marker-end="url(#muy)"/><path d="M1168.0 2004.7 1170.8 2013.9 1173.6 2023.5 1176.3 2033.7 1179.1 2045.3 1181.9 2055.9 1184.7 2069.3 1187.5 2083.3 1190.2 2097.6 1193.0 2111.4 1195.8 2128.4 1198.6 2140.1 1201.4 2152.2 1204.1 2165.2 1206.9 2167.8 1209.7 2169.5 1212.5 2171.6 1215.3 2174.8 1218.0 2175.4 1220.8 2174.5 1223.6 2174.1 1226.4 2174.3 1229.2 2170.9 1231.9 2170.8 1234.7 2169.2 1237.5 2163.0 1240.3 2155.6 1243.1 2151.1 1245.8 2145.7 1248.6 2140.7 1251.4 2132.4 1254.2 2125.3 1257.0 2117.1 1259.7 2108.5 1262.5 2101.4 1265.3 2092.4 1268.1 2084.3 1270.9 2077.3 1273.6 2067.6 1276.4 2061.6 1279.2 2053.7 1282.0 2046.7 1284.8 2037.2 1287.5 2030.4 1290.3 2023.2 1293.1 2015.5 1295.9 2006.1 1298.7 1999.5 1301.4 1991.0 1304.2 1984.3 1307.0 1978.8 1309.8 1970.2 1312.6 1965.2 1315.3 1960.3 1318.1 1952.2 1320.9 1946.0 1323.7 1941.4 1326.5 1936.5 1329.2 1930.2 1332.0 1926.1 1334.8 1919.5 1337.6 1916.0 1340.4 1912.2 1343.1 1909.1 1345.9 1906.0 1348.7 1903.5 1351.5 1898.7 1354.3 1896.1 1357.0 1893.0 1359.8 1893.0 1362.6 1888.6 1365.4 1884.4 1368.2 1882.5 1370.9 1881.1 1373.7 1877.6 1376.5 1874.3 1379.3 1872.6 1382.1 1870.0 1384.8 1867.4 1387.6 1865.3 1390.4 1863.8 1393.2 1863.5 1396.0 1861.7 1398.7 1859.1 1401.5 1857.4 1404.3 1855.6 1407.1 1855.0 1409.9 1852.6 1412.6 1850.0 1415.4 1849.2 1418.2 1847.6 1421.0 1845.4 1423.8 1844.6 1426.5 1843.1 1429.3 1842.6 1432.1 1840.0 1434.9 1838.1 1437.7 1836.7 1440.4 1834.4 1443.2 1834.1 1446.0 1832.1 1448.8 1831.1 1451.6 1829.8 1454.3 1829.1 1457.1 1826.1 1459.9 1825.0 1462.7 1822.3 1465.5 1820.1 1468.2 1819.3 1471.0 1816.4 1473.8 1816.0 1476.6 1813.6 1479.4 1811.4 1482.1 1811.0 1484.9 1809.1 1487.7 1808.6 1490.5 1805.6 1493.3 1805.2 1496.0 1803.9 1498.8 1801.5 1501.6 1801.8 1504.4 1799.6 1507.2 1797.5 1509.9 1796.5 1512.7 1795.3 1515.5 1792.8 1518.3 1792.1 1521.1 1790.6 1523.8 1790.5 1526.6 1791.0 1529.4 1787.3 1532.2 1788.4 1535.0 1787.1 1537.7 1784.9 1540.5 1782.9 1543.3 1783.8 1546.1 1782.2 1548.9 1780.6 1551.6 1781.3 1554.4 1780.1 1557.2 1778.9 1560.0 1777.9 1562.8 1775.7 1565.5 1777.3 1568.3 1775.2 1571.1 1773.8 1573.9 1774.1 1576.7 1773.2 1579.4 1770.9 1582.2 1770.6 1585.0 1768.3 1587.8 1770.3 1590.6 1769.8 1593.3 1769.3 1596.1 1770.8 1598.9 1770.1 1601.7 1771.5 1604.5 1769.6 1607.2 1768.0 1610.0 1768.7 1612.8 1768.5 1615.6 1768.2 1618.4 1768.7 1621.1 1766.8 1623.9 1769.3 1626.7 1768.3 1629.5 1768.9 1632.3 1765.2 1635.0 1768.3 1637.8 1767.6 1640.6 1766.5 1643.4 1765.6 1646.2 1767.0 1648.9 1766.3 1651.7 1766.5 1654.5 1765.7 1657.3 1765.4 1660.1 1764.1 1662.8 1764.2 1665.6 1765.1 1668.4 1764.4 1671.2 1764.2 1674.0 1762.4 1676.7 1763.0 1679.5 1763.7 1682.3 1763.1 1685.1 1762.4 1687.9 1764.1 1690.6 1762.1 1693.4 1763.5 1696.2 1763.5 1699.0 1761.3 1701.8 1760.8 1704.5 1760.7 1707.3 1761.8 1710.1 1761.1 1712.9 1760.6 1715.7 1762.3 1718.4 1759.7 1721.2 1761.1 1724.0 1762.1 1726.8 1760.5 1729.6 1759.5 1732.3 1759.8 1735.1 1760.7 1737.9 1760.0 1740.7 1761.4 1743.5 1760.4 1746.2 1760.6 1749.0 1758.8 1751.8 1759.0 1754.6 1759.7 1757.4 1760.6 1760.1 1759.1 1762.9 1760.3 1765.7 1758.9 1768.5 1759.2 1771.3 1758.3 1774.0 1758.6 1776.8 1758.2 1779.6 1758.0 1782.4 1759.1 1785.2 1755.7 1787.9 1757.7 1790.7 1757.7 1793.5 1757.5 1796.3 1758.1 1799.1 1756.3 1801.8 1758.4 1804.6 1755.7 1807.4 1757.4 1810.2 1756.1 1813.0 1756.9 1815.7 1756.7 1818.5 1756.3 1821.3 1757.4 1824.1 1756.7 1826.9 1756.4 1829.6 1756.8 1832.4 1757.1 1835.2 1756.8 1838.0 1757.3 1840.8 1757.1 1843.5 1756.3 1846.3 1756.4 1849.1 1756.3 1851.9 1756.1 1854.7 1755.3 1857.4 1756.6 1860.2 1755.9 1863.0 1756.6 1865.8 1755.7 1868.6 1757.6 1871.3 1755.5 1874.1 1755.4 1876.9 1755.8 1879.7 1754.8 1882.5 1754.8 1885.2 1755.1 1888.0 1755.0 1890.8 1755.7 1893.6 1754.6 1896.4 1755.1 1899.1 1755.4 1901.9 1755.9 1904.7 1755.1 1907.5 1755.4 1910.3 1755.4 1913.0 1754.7 1915.8 1753.4 1918.6 1754.2 1921.4 1754.8 1924.2 1754.0 1926.9 1754.0 1929.7 1755.8 1932.5 1754.3 1935.3 1754.8 1938.1 1753.9 1940.8 1754.5 1943.6 1753.5 1946.4 1754.3 1949.2 1754.7 1952.0 1753.1 1954.7 1754.1 1957.5 1754.2 1960.3 1754.5 1963.1 1753.3 1965.9 1753.6 1968.6 1753.8 1971.4 1752.5 1974.2 1755.1 1977.0 1755.9 1979.8 1753.6 1982.5 1755.2 1985.3 1754.0 1988.1 1755.2 1990.9 1753.3 1993.7 1754.6 1996.4 1754.8 1999.2 1752.8 2002.0 1753.8" fill="none" stroke="none" marker-start="url(#msb)" marker-mid="url(#msb)" marker-end="url(#msb)"/><path d="M1168.4 2002.2 1171.2 2022.7 1174.0 2038.0 1176.7 2053.2 1179.5 2067.3 1182.3 2078.7 1185.1 2095.3 1187.9 2110.4 1190.6 2123.0 1193.4 2135.5 1196.2 2144.1 1199.0 2154.0 1201.8 2169.1 1204.5 2182.5 1207.3 2182.1 1210.1 2183.8 1212.9 2181.7 1215.7 2182.6 1218.4 2183.2 1221.2 2182.6 1224.0 2182.6 1226.8 2181.6 1229.6 2180.9 1232.3 2180.7 1235.1 2177.3 1237.9 2173.9 1240.7 2169.4 1243.5 2164.1 1246.2 2158.1 1249.0 2152.2 1251.8 2145.4 1254.6 2137.8 1257.4 2131.5 1260.1 2124.2 1262.9 2115.7 1265.7 2107.9 1268.5 2099.6 1271.3 2091.3 1274.0 2085.4 1276.8 2076.5 1279.6 2069.6 1282.4 2060.6 1285.2 2051.6 1287.9 2043.4 1290.7 2034.6 1293.5 2028.3 1296.3 2019.2 1299.1 2011.4 1301.8 2002.0 1304.6 1995.2 1307.4 1988.6 1310.2 1981.0 1313.0 1974.6 1315.7 1966.5 1318.5 1961.1 1321.3 1953.5 1324.1 1945.3 1326.9 1937.8 1329.6 1930.6 1332.4 1924.1 1335.2 1921.1 1338.0 1915.1 1340.8 1913.2 1343.5 1909.7 1346.3 1906.7 1349.1 1903.5 1351.9 1900.5 1354.7 1897.6 1357.4 1895.8 1360.2 1892.6 1363.0 1891.7 1365.8 1889.0 1368.6 1886.6 1371.3 1883.9 1374.1 1882.7 1376.9 1881.5 1379.7 1878.1 1382.5 1875.8 1385.2 1874.7 1388.0 1873.6 1390.8 1871.2 1393.6 1869.1 1396.4 1867.2 1399.1 1865.5 1401.9 1866.0 1404.7 1863.6 1407.5 1861.3 1410.3 1860.2 1413.0 1859.0 1415.8 1857.5 1418.6 1855.3 1421.4 1853.5 1424.2 1850.7 1426.9 1849.5 1429.7 1847.4 1432.5 1846.2 1435.3 1846.4 1438.1 1844.4 1440.8 1842.7 1443.6 1838.9 1446.4 1837.7 1449.2 1836.9 1452.0 1834.0 1454.7 1831.9 1457.5 1831.8 1460.3 1830.1 1463.1 1825.5 1465.9 1824.8 1468.6 1822.1 1471.4 1822.9 1474.2 1820.2 1477.0 1818.0 1479.8 1817.0 1482.5 1817.3 1485.3 1815.6 1488.1 1813.8 1490.9 1809.9 1493.7 1808.2 1496.4 1808.3 1499.2 1807.0 1502.0 1806.3 1504.8 1803.5 1507.6 1802.3 1510.3 1802.3 1513.1 1800.9 1515.9 1799.9 1518.7 1797.0 1521.5 1795.8 1524.2 1794.9 1527.0 1794.9 1529.8 1793.2 1532.6 1792.4 1535.4 1790.2 1538.1 1789.8 1540.9 1788.7 1543.7 1788.5 1546.5 1787.4 1549.3 1785.5 1552.0 1786.4 1554.8 1785.4 1557.6 1782.6 1560.4 1783.8 1563.2 1781.9 1565.9 1782.0 1568.7 1779.1 1571.5 1779.4 1574.3 1780.8 1577.1 1778.2 1579.8 1777.2 1582.6 1776.6 1585.4 1776.0 1588.2 1776.8 1591.0 1775.7 1593.7 1774.1 1596.5 1774.6 1599.3 1774.2 1602.1 1772.7 1604.9 1773.5 1607.6 1773.1 1610.4 1772.5 1613.2 1771.5 1616.0 1770.2 1618.8 1767.8 1621.5 1770.5 1624.3 1769.2 1627.1 1768.8 1629.9 1767.8 1632.7 1767.0 1635.4 1766.7 1638.2 1767.1 1641.0 1765.2 1643.8 1764.9 1646.6 1765.9 1649.3 1764.7 1652.1 1765.4 1654.9 1765.5 1657.7 1765.3 1660.5 1763.6 1663.2 1762.7 1666.0 1762.8 1668.8 1765.0 1671.6 1761.4 1674.4 1762.5 1677.1 1763.2 1679.9 1761.3 1682.7 1760.3 1685.5 1760.7 1688.3 1760.1 1691.0 1759.7 1693.8 1759.9 1696.6 1760.6 1699.4 1759.4 1702.2 1759.8 1704.9 1758.5 1707.7 1757.7 1710.5 1757.2 1713.3 1757.9 1716.1 1758.2 1718.8 1756.5 1721.6 1756.3 1724.4 1757.6 1727.2 1756.7 1730.0 1755.0 1732.7 1755.6 1735.5 1756.8 1738.3 1756.5 1741.1 1753.7 1743.9 1754.5 1746.6 1754.4 1749.4 1753.5 1752.2 1754.2 1755.0 1754.3 1757.8 1753.5 1760.5 1752.8 1763.3 1754.4 1766.1 1752.7 1768.9 1752.4 1771.7 1752.3 1774.4 1751.3 1777.2 1752.7 1780.0 1750.8 1782.8 1752.4 1785.6 1753.2 1788.3 1751.9 1791.1 1752.1 1793.9 1751.3 1796.7 1752.0 1799.5 1752.0 1802.2 1751.6 1805.0 1751.0 1807.8 1750.7 1810.6 1752.5 1813.4 1750.9 1816.1 1751.0 1818.9 1750.4 1821.7 1751.1 1824.5 1749.2 1827.3 1749.9 1830.0 1748.6 1832.8 1751.3 1835.6 1749.3 1838.4 1748.1 1841.2 1749.4 1843.9 1748.2 1846.7 1749.1 1849.5 1747.6 1852.3 1750.1 1855.1 1748.0 1857.8 1748.2 1860.6 1746.2 1863.4 1747.8 1866.2 1748.0 1869.0 1748.0 1871.7 1749.9 1874.5 1748.5 1877.3 1749.0 1880.1 1747.2 1882.9 1748.3 1885.6 1748.5 1888.4 1747.6 1891.2 1748.1 1894.0 1746.2 1896.8 1748.4 1899.5 1747.3 1902.3 1747.4 1905.1 1746.4 1907.9 1747.3 1910.7 1747.3 1913.4 1746.4 1916.2 1746.5 1919.0 1745.2 1921.8 1748.1 1924.6 1745.8 1927.3 1746.0 1930.1 1746.5 1932.9 1747.6 1935.7 1746.6 1938.5 1745.7 1941.2 1746.6 1944.0 1746.3 1946.8 1747.0 1949.6 1747.5 1952.4 1747.6 1955.1 1747.8 1957.9 1745.9 1960.7 1748.0 1963.5 1747.0 1966.3 1746.6 1969.0 1746.4 1971.8 1745.7 1974.6 1746.2 1977.4 1746.1 1980.2 1745.2 1982.9 1745.3 1985.7 1747.5 1988.5 1747.8 1991.3 1747.8 1994.1 1746.5 1996.8 1746.8 1999.6 1745.6 2002.4 1747.3 1185.0 2151.6 1180.0 2125.0" fill="none" stroke="none" marker-start="url(#msm)" marker-mid="url(#msm)" marker-end="url(#msm)"/><path d="M1165.8 2005.0 1168.7 2068.9 1171.0 2189.3 1173.8 2188.4 1176.6 2189.2 1179.3 2188.2 1182.1 2188.9 1184.9 2188.0 1187.7 2189.5 1190.5 2187.9 1193.2 2188.3 1196.0 2188.0 1198.8 2188.1 1201.6 2187.0 1204.4 2187.5 1207.1 2187.7 1209.9 2189.7 1212.7 2188.1 1215.5 2188.1 1218.3 2186.8 1221.0 2186.6 1223.8 2187.8 1226.6 2187.4 1229.4 2187.6 1232.2 2189.2 1234.9 2189.4 1237.7 2189.2 1240.5 2189.6 1243.3 2187.0 1246.1 2189.3 1248.8 2187.7 1251.6 2188.1 1254.4 2187.9 1257.2 2188.5 1260.0 2190.6 1262.7 2188.4 1265.5 2188.1 1268.3 2189.1 1271.1 2187.4 1273.9 2189.2 1276.6 2186.5 1279.4 2189.6 1282.2 2189.7 1285.0 2189.1 1287.8 2188.5 1290.5 2188.8 1293.3 2187.6 1296.1 2189.2 1298.9 2187.8 1301.7 2191.9 1304.4 2188.4 1307.2 2189.7 1310.0 2188.3 1312.8 2188.6 1315.6 2188.5 1318.3 2189.1 1321.1 2190.5 1323.9 2189.6 1326.7 2189.0 1329.5 2189.7 1332.2 2189.1 1335.0 2190.2 1337.8 2190.1 1340.6 2190.4 1343.4 2188.8 1346.1 2186.6 1348.9 2190.1 1351.7 2189.5 1354.5 2188.4 1357.3 2187.6 1360.0 2189.4 1362.8 2191.4 1365.6 2190.6 1368.4 2189.7 1371.2 2190.0 1373.9 2189.5 1376.7 2189.2 1379.5 2188.4 1382.3 2191.5 1385.1 2188.3 1387.8 2188.4 1390.6 2190.0 1393.4 2189.1 1396.2 2190.0 1399.0 2188.1 1401.7 2190.5 1404.5 2188.1 1407.3 2190.6 1410.1 2190.0 1412.9 2190.1 1415.6 2190.5 1418.4 2189.7 1421.2 2191.1 1424.0 2191.4 1426.8 2189.9 1429.5 2187.8 1432.3 2190.2 1435.1 2189.5 1437.9 2188.6 1440.7 2189.3 1443.4 2189.8 1446.2 2191.3 1449.0 2189.4 1451.8 2190.7 1454.6 2189.0 1457.3 2190.8 1460.1 2190.7 1462.9 2191.6 1465.7 2189.4 1468.5 2190.8 1471.2 2189.0 1474.0 2190.8 1476.8 2192.2 1479.6 2189.7 1482.4 2189.7 1485.1 2190.2 1487.9 2192.0 1490.7 2191.1 1493.5 2191.1 1496.3 2190.4 1499.0 2190.2 1501.8 2190.3 1504.6 2189.0 1507.4 2188.8 1510.2 2189.6 1512.9 2189.1 1515.7 2190.3 1518.5 2189.1 1521.3 2190.7 1524.1 2190.5 1526.8 2190.6 1529.6 2188.9 1532.4 2191.3 1535.2 2189.1 1538.0 2190.6 1540.7 2190.8 1543.5 2190.4 1546.3 2190.6 1549.1 2190.2 1551.9 2190.0 1554.6 2190.1 1557.4 2189.2 1560.2 2191.9 1563.0 2190.4 1565.8 2190.2 1568.5 2190.9 1571.3 2190.8 1574.1 2191.2 1576.9 2191.4 1579.7 2190.8 1582.4 2190.9 1585.2 2190.7 1588.0 2190.3 1590.8 2191.1 1593.6 2190.9 1596.3 2190.4 1599.1 2191.0 1601.9 2189.1 1604.7 2189.7 1607.5 2190.5 1610.2 2189.5 1613.0 2191.4 1615.8 2189.0 1618.6 2191.6 1621.4 2191.1 1624.1 2191.4 1626.9 2190.4 1629.7 2190.6 1632.5 2191.4 1635.3 2192.2 1638.0 2191.4 1640.8 2190.8 1643.6 2190.8 1646.4 2191.8 1649.2 2189.9 1651.9 2192.4 1654.7 2190.0 1657.5 2190.6 1660.3 2191.7 1663.1 2190.4 1665.8 2189.5 1668.6 2193.9 1671.4 2190.3 1674.2 2187.2 1677.0 2189.8 1679.7 2190.7 1682.5 2188.3 1685.3 2187.0 1688.1 2189.0 1690.9 2190.6 1693.6 2185.3 1696.4 2187.3 1699.2 2188.3 1702.0 2185.1 1704.8 2188.5 1707.5 2185.2 1710.3 2188.0 1713.1 2185.5 1715.9 2184.7 1718.7 2185.7 1721.4 2182.8 1724.2 2186.0 1727.0 2183.4 1729.8 2187.8 1732.6 2184.8 1735.3 2183.5 1738.1 2185.1 1740.9 2185.5 1743.7 2185.2 1746.5 2181.7 1749.2 2183.4 1752.0 2181.3 1754.8 2183.8 1757.6 2184.6 1760.4 2186.0 1763.1 2185.8 1765.9 2181.9 1768.7 2179.6 1771.5 2185.0 1774.3 2185.1 1777.0 2182.9 1779.8 2178.1 1782.6 2182.2 1785.4 2182.1 1788.2 2183.1 1790.9 2176.5 1793.7 2187.5 1796.5 2184.6 1799.3 2186.0 1802.1 2188.3 1804.8 2183.4 1807.6 2179.5 1810.4 2185.5 1813.2 2180.1 1816.0 2187.2 1818.7 2182.7 1821.5 2185.9 1824.3 2184.6 1827.1 2184.1 1829.9 2187.9 1832.6 2185.0 1835.4 2185.4 1838.2 2191.5 1841.0 2183.2 1843.8 2179.3 1846.5 2179.0 1849.3 2181.6 1852.1 2177.8 1854.9 2184.7 1857.7 2183.0 1860.4 2181.8 1863.2 2187.7 1866.0 2183.4 1868.8 2184.2 1871.6 2181.7 1874.3 2185.5 1877.1 2183.2 1879.9 2184.2 1882.7 2186.4 1885.5 2178.7 1888.2 2185.9 1891.0 2183.9 1893.8 2177.8 1896.6 2174.8 1899.4 2178.2 1902.1 2186.4 1904.9 2182.7 1907.7 2178.0 1910.5 2176.4 1913.3 2181.2 1916.0 2181.0 1918.8 2177.0 1921.6 2179.8 1924.4 2178.2 1927.2 2178.3 1929.9 2178.0 1932.7 2180.7 1935.5 2179.8 1938.3 2180.1 1941.1 2183.0 1943.8 2172.8 1946.6 2174.0 1949.4 2171.8 1952.2 2174.4 1955.0 2171.5 1957.7 2167.1 1960.5 2166.7 1963.3 2176.9 1966.1 2174.9 1968.9 2166.5 1971.6 2176.5 1974.4 2168.3 1977.2 2177.2 1980.0 2175.9 1982.8 2171.6 1985.5 2168.0 1988.3 2165.4 1991.1 2171.0 1993.9 2170.7 1996.7 2166.8 1999.4 2167.1 2002.2 2164.2" fill="none" stroke="none" marker-start="url(#mDc)" marker-mid="url(#mDc)" marker-end="url(#mDc)"/></g>
<line x1="1156.5" x2="1165.5" y1="1737.5" y2="1737.5" stroke="#000" stroke-width="3"/>
<line x1="1156.5" x2="1165.5" y1="2174.4" y2="2174.4" stroke="#000" stroke-width="3"/>
<line x1="1165.3" x2="1165.3" y1="2305" y2="2313.5" stroke="#000" stroke-width="3"/>
<text x="1162.45" y="2352" font-size="30.4">0</text>
<line x1="1298.64" x2="1298.64" y1="2305" y2="2313.5" stroke="#000" stroke-width="3"/>
<text x="1288.55" y="2352" font-size="30.4">8</text>
<line x1="1431.97" x2="1431.97" y1="2305" y2="2313.5" stroke="#000" stroke-width="3"/>
<text x="1416.6" y="2352" font-size="30.4">16</text>
<line x1="1565.31" x2="1565.31" y1="2305" y2="2313.5" stroke="#000" stroke-width="3"/>
<text x="1548.77" y="2352" font-size="30.4">24</text>
<line x1="1698.64" x2="1698.64" y1="2305" y2="2313.5" stroke="#000" stroke-width="3"/>
<text x="1683.78" y="2352" font-size="30.4">32</text>
<line x1="1831.98" x2="1831.98" y1="2305" y2="2313.5" stroke="#000" stroke-width="3"/>
<text x="1815.94" y="2352" font-size="30.4">40</text>
<line x1="1965.32" x2="1965.32" y1="2305" y2="2313.5" stroke="#000" stroke-width="3"/>
<text x="1949.4" y="2352" font-size="30.4">48</text>
<text x="1133.18" y="1743.9" font-size="30.4">1</text>
<text x="1110" y="2183.1" font-size="29">0.1</text>
<text x="1533.22" y="2406.3" font-size="30.4">time [h]</text>
<text transform="translate(1057.4,2127.8) rotate(90)" font-size="30.4" text-anchor="middle">log OD600</text>
<text x="1180.88" y="1746.2" font-size="38">DADMAC-C10</text>
<text x="1182.14" y="1794.6" font-size="38">smectite</text>
<ellipse cx="607.8" cy="321.7" rx="8.6" ry="9.6" fill="#000000"/>
<text x="637.72" y="336" font-size="37.8">0 μg mL</text><text x="775.56" y="323.9" font-size="22" letter-spacing="-1.6">-1</text>
<ellipse cx="607.8" cy="364.1" rx="8.6" ry="9.6" fill="#ee4323"/>
<text x="637.72" y="384" font-size="37.8">6.25 μg mL</text><text x="828.11" y="371.9" font-size="22" letter-spacing="-1.6">-1</text>
<path d="M598.1,405.3L617.5,405.3L607.8,420.8Z" fill="#60b846"/>
<text x="637.72" y="423.5" font-size="37.8">12.5 μg mL</text><text x="828.11" y="411.4" font-size="22" letter-spacing="-1.6">-1</text>
<path d="M598.1,459.5L617.5,459.5L607.8,444Z" fill="#fff11f"/>
<text x="637.72" y="464.2" font-size="37.8">25 μg mL</text><text x="796.58" y="452.1" font-size="22" letter-spacing="-1.6">-1</text>
<rect x="598.9" y="493.25" width="15" height="14.5" fill="#43319a"/>
<text x="637.72" y="509.7" font-size="37.8">50 μg mL</text><text x="796.58" y="497.6" font-size="22" letter-spacing="-1.6">-1</text>
<rect x="598.9" y="541.25" width="15" height="11.5" fill="#a4479b"/>
<text x="637.72" y="555.1" font-size="37.8">100 μg mL</text><text x="817.61" y="543" font-size="22" letter-spacing="-1.6">-1</text>
<ellipse cx="1742.7" cy="298.3" rx="7.91" ry="8.83" fill="#000000"/>
<text x="1764.12" y="307.8" font-size="37.8">0 μg mL</text><text x="1901.96" y="295.7" font-size="22" letter-spacing="-1.6">-1</text>
<ellipse cx="1742.7" cy="338.3" rx="7.91" ry="8.83" fill="#ee4323"/>
<text x="1764.12" y="345.5" font-size="37.8">0.625 μg mL</text><text x="1975.53" y="333.4" font-size="22" letter-spacing="-1.6">-1</text>
<path d="M1731.3,370.9L1750.7,370.9L1741,386.4Z" fill="#60b846"/>
<text x="1764.12" y="383.3" font-size="37.8">1.25 μg mL</text><text x="1954.51" y="371.2" font-size="22" letter-spacing="-1.6">-1</text>
<path d="M1731.3,419.1L1750.7,419.1L1741,403.6Z" fill="#fff11f"/>
<text x="1764.12" y="423.1" font-size="37.8">2.5 μg mL</text><text x="1933.49" y="411" font-size="22" letter-spacing="-1.6">-1</text>
<rect x="1734.25" y="445.9" width="11.5" height="14.6" fill="#43319a"/>
<text x="1764.12" y="463.9" font-size="37.8">5 μg mL</text><text x="1901.96" y="451.8" font-size="22" letter-spacing="-1.6">-1</text>
<rect x="1734.25" y="485.95" width="11.5" height="11.5" fill="#a4479b"/>
<text x="1764.12" y="509.4" font-size="37.8">10 μg mL</text><text x="1922.98" y="497.3" font-size="22" letter-spacing="-1.6">-1</text>
<path d="M1739.8,522.3L1748.8,531.3L1739.8,540.3L1730.8,531.3Z" fill="#7acdcb"/>
<text x="1764.12" y="554.9" font-size="37.8">20 μg mL</text><text x="1922.98" y="542.8" font-size="22" letter-spacing="-1.6">-1</text>
</svg></body></html>
